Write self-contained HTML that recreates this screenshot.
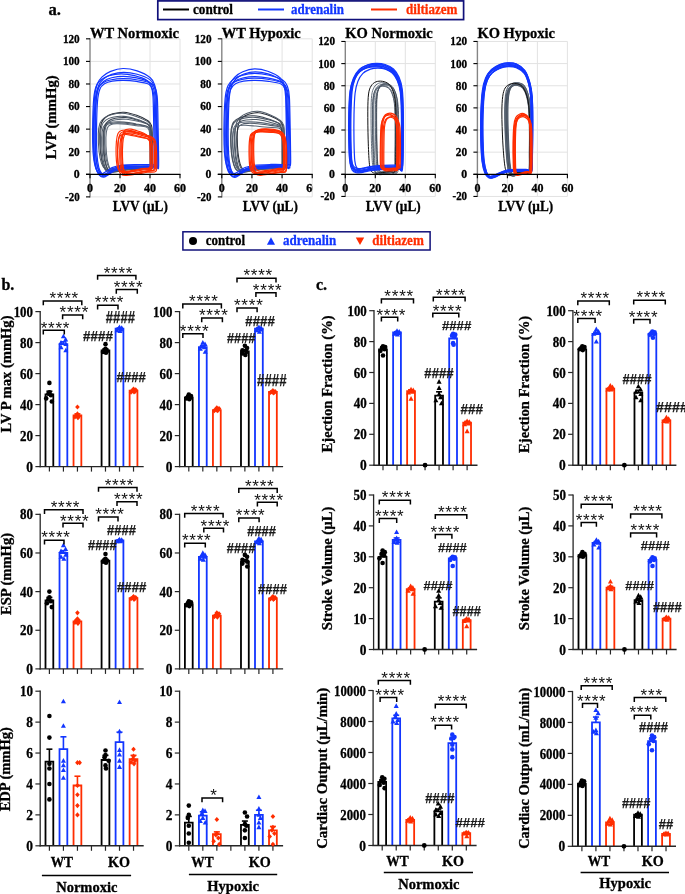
<!DOCTYPE html>
<html><head><meta charset="utf-8"><style>
html,body{margin:0;padding:0;background:#fff;}
svg{display:block;will-change:transform;}
</style></head><body>
<svg width="685" height="894" viewBox="0 0 685 894">
<rect width="685" height="894" fill="#fff"/>
<text x="48.60" y="14.70" font-family="Liberation Serif" font-size="17" font-weight="bold" text-anchor="start" fill="#000" stroke="#000" stroke-width="0.3" textLength="12.4" lengthAdjust="spacingAndGlyphs">a.</text>
<rect x="157.8" y="0.9" width="305.8" height="18.7" fill="#fff" stroke="#10107a" stroke-width="1.7"/>
<line x1="163.00" y1="9.50" x2="189.00" y2="9.50" stroke="#000" stroke-width="2" />
<text x="193.00" y="14.30" font-family="Liberation Serif" font-size="14.5" font-weight="bold" text-anchor="start" fill="#000" stroke="#000" stroke-width="0.3" textLength="40" lengthAdjust="spacingAndGlyphs">control</text>
<line x1="258.00" y1="9.50" x2="284.00" y2="9.50" stroke="#1236ff" stroke-width="2" />
<text x="291.00" y="14.30" font-family="Liberation Serif" font-size="14.5" font-weight="bold" text-anchor="start" fill="#1236ff" stroke="#1236ff" stroke-width="0.3" textLength="53" lengthAdjust="spacingAndGlyphs">adrenalin</text>
<line x1="371.00" y1="9.50" x2="397.00" y2="9.50" stroke="#ff2d00" stroke-width="2" />
<text x="406.00" y="14.30" font-family="Liberation Serif" font-size="14.5" font-weight="bold" text-anchor="start" fill="#ff2d00" stroke="#ff2d00" stroke-width="0.3" textLength="51.5" lengthAdjust="spacingAndGlyphs">diltiazem</text>
<line x1="120.00" y1="38.82" x2="120.00" y2="196.88" stroke="#e2e2e2" stroke-width="1.0" />
<line x1="150.00" y1="38.82" x2="150.00" y2="196.88" stroke="#e2e2e2" stroke-width="1.0" />
<line x1="180.00" y1="38.82" x2="180.00" y2="196.88" stroke="#e2e2e2" stroke-width="1.0" />
<line x1="90.00" y1="196.88" x2="180.00" y2="196.88" stroke="#e2e2e2" stroke-width="1.0" />
<line x1="90.00" y1="151.72" x2="180.00" y2="151.72" stroke="#e2e2e2" stroke-width="1.0" />
<line x1="90.00" y1="129.14" x2="180.00" y2="129.14" stroke="#e2e2e2" stroke-width="1.0" />
<line x1="90.00" y1="106.56" x2="180.00" y2="106.56" stroke="#e2e2e2" stroke-width="1.0" />
<line x1="90.00" y1="83.98" x2="180.00" y2="83.98" stroke="#e2e2e2" stroke-width="1.0" />
<line x1="90.00" y1="61.40" x2="180.00" y2="61.40" stroke="#e2e2e2" stroke-width="1.0" />
<line x1="90.00" y1="38.82" x2="180.00" y2="38.82" stroke="#e2e2e2" stroke-width="1.0" />
<path d="M150.15,168.13 C150.72,165.50 150.43,157.82 150.45,152.67 C150.47,147.51 150.45,141.07 150.30,137.22 C150.15,133.38 150.23,131.43 149.56,129.58 C148.89,127.73 148.57,127.06 146.29,126.11 C144.01,125.16 139.60,124.56 135.88,123.90 C132.16,123.24 127.70,122.44 123.98,122.14 C120.27,121.83 116.43,121.84 113.58,122.06 C110.73,122.29 108.62,122.60 106.89,123.50 C105.15,124.40 104.04,125.16 103.17,127.45 C102.30,129.73 101.81,132.63 101.68,137.21 C101.56,141.79 101.93,150.11 102.43,154.91 C102.92,159.70 103.79,163.31 104.66,165.98 C105.52,168.65 106.39,170.01 107.63,170.94 C108.87,171.86 109.61,171.67 112.09,171.51 C114.57,171.35 118.28,170.40 122.50,169.96 C126.71,169.51 133.28,169.10 137.37,168.84 C141.45,168.58 144.90,168.51 147.03,168.39 C149.16,168.27 149.58,170.75 150.15,168.13Z" fill="none" stroke="#4f5a68" stroke-width="1.05" stroke-linejoin="round"/>
<path d="M152.14,167.17 C152.75,164.38 152.43,156.12 152.46,150.59 C152.49,145.05 152.46,138.15 152.30,133.97 C152.14,129.79 152.22,127.74 151.49,125.53 C150.77,123.33 150.42,122.43 147.96,120.73 C145.50,119.03 140.73,116.76 136.72,115.35 C132.70,113.93 127.88,112.48 123.87,112.23 C119.85,111.99 115.70,112.99 112.62,113.87 C109.55,114.75 107.27,115.99 105.40,117.52 C103.52,119.04 102.32,120.29 101.38,123.04 C100.44,125.79 99.91,129.02 99.77,133.99 C99.64,138.97 100.04,147.78 100.58,152.90 C101.11,158.02 102.05,161.85 102.99,164.71 C103.92,167.57 104.86,169.07 106.20,170.06 C107.54,171.04 108.34,170.84 111.02,170.61 C113.69,170.38 117.71,169.18 122.26,168.66 C126.81,168.14 133.91,167.71 138.32,167.49 C142.74,167.27 146.46,167.38 148.76,167.33 C151.07,167.28 151.52,169.96 152.14,167.17Z" fill="none" stroke="#2a2f38" stroke-width="1.05" stroke-linejoin="round"/>
<path d="M151.03,165.77 C151.65,163.07 151.32,155.11 151.35,149.78 C151.38,144.45 151.35,137.79 151.19,133.77 C151.03,129.75 151.11,127.77 150.38,125.66 C149.65,123.55 149.30,122.71 146.82,121.12 C144.34,119.54 139.55,117.48 135.51,116.17 C131.46,114.87 126.61,113.52 122.57,113.27 C118.53,113.03 114.35,113.91 111.25,114.71 C108.15,115.51 105.86,116.63 103.98,118.06 C102.09,119.49 100.88,120.66 99.93,123.28 C98.99,125.90 98.45,129.00 98.32,133.79 C98.18,138.58 98.59,147.08 99.13,152.02 C99.67,156.95 100.61,160.64 101.55,163.40 C102.49,166.16 103.44,167.60 104.79,168.55 C106.13,169.50 106.94,169.31 109.64,169.09 C112.33,168.87 116.37,167.73 120.95,167.23 C125.54,166.74 132.68,166.33 137.12,166.11 C141.57,165.89 145.31,165.98 147.63,165.93 C149.95,165.87 150.41,168.46 151.03,165.77Z" fill="none" stroke="#4f5a68" stroke-width="1.05" stroke-linejoin="round"/>
<path d="M151.56,166.47 C152.12,163.87 151.83,156.24 151.85,151.12 C151.88,146.01 151.85,139.62 151.71,135.79 C151.56,131.95 151.64,130.03 150.99,128.13 C150.34,126.23 150.03,125.52 147.82,124.39 C145.61,123.26 141.34,122.20 137.74,121.35 C134.14,120.50 129.82,119.54 126.22,119.26 C122.62,118.98 118.90,119.26 116.14,119.67 C113.38,120.07 111.33,120.63 109.65,121.68 C107.97,122.73 106.89,123.61 106.05,125.96 C105.21,128.31 104.73,131.22 104.61,135.78 C104.49,140.34 104.85,148.57 105.33,153.32 C105.81,158.08 106.65,161.64 107.49,164.29 C108.33,166.94 109.17,168.31 110.37,169.22 C111.57,170.13 112.30,169.95 114.70,169.77 C117.10,169.59 120.70,168.61 124.78,168.15 C128.86,167.70 135.22,167.30 139.18,167.05 C143.14,166.81 146.48,166.80 148.54,166.70 C150.60,166.60 151.01,169.06 151.56,166.47Z" fill="none" stroke="#5a6675" stroke-width="1.05" stroke-linejoin="round"/>
<path d="M151.78,167.77 C152.35,165.19 152.05,157.64 152.08,152.58 C152.10,147.52 152.08,141.19 151.93,137.41 C151.78,133.64 151.85,131.73 151.18,129.93 C150.50,128.14 150.18,127.49 147.88,126.64 C145.58,125.79 141.14,125.38 137.39,124.81 C133.65,124.24 129.15,123.52 125.41,123.21 C121.66,122.90 117.79,122.80 114.92,122.95 C112.05,123.10 109.92,123.31 108.17,124.13 C106.43,124.94 105.30,125.64 104.43,127.86 C103.56,130.07 103.06,132.91 102.93,137.40 C102.81,141.89 103.18,150.08 103.68,154.80 C104.18,159.51 105.05,163.05 105.93,165.68 C106.80,168.30 107.68,169.64 108.92,170.55 C110.17,171.45 110.92,171.27 113.42,171.12 C115.92,170.97 119.66,170.06 123.91,169.63 C128.15,169.20 134.77,168.79 138.89,168.53 C143.01,168.27 146.48,168.18 148.63,168.05 C150.78,167.92 151.20,170.35 151.78,167.77Z" fill="none" stroke="#4f5a68" stroke-width="1.05" stroke-linejoin="round"/>
<path d="M150.80,168.72 C151.35,165.97 151.07,157.84 151.09,152.40 C151.11,146.96 151.09,140.16 150.94,136.08 C150.80,131.99 150.87,129.95 150.22,127.89 C149.57,125.83 149.26,125.04 147.04,123.72 C144.82,122.39 140.53,120.99 136.92,119.95 C133.30,118.92 128.96,117.80 125.35,117.51 C121.73,117.23 118.00,117.71 115.23,118.25 C112.46,118.79 110.41,119.55 108.72,120.77 C107.03,121.98 105.95,122.99 105.10,125.54 C104.26,128.10 103.78,131.22 103.66,136.08 C103.54,140.94 103.90,149.67 104.38,154.72 C104.86,159.77 105.71,163.56 106.55,166.38 C107.39,169.19 108.24,170.65 109.44,171.63 C110.65,172.60 111.37,172.40 113.78,172.20 C116.19,172.00 119.81,170.92 123.90,170.43 C128.00,169.94 134.39,169.51 138.36,169.27 C142.34,169.02 145.69,169.03 147.76,168.94 C149.84,168.85 150.25,171.48 150.80,168.72Z" fill="none" stroke="#3a4350" stroke-width="1.05" stroke-linejoin="round"/>
<path d="M150.43,168.45 C151.02,165.68 150.71,157.52 150.74,152.05 C150.76,146.58 150.74,139.75 150.58,135.64 C150.43,131.53 150.51,129.49 149.82,127.39 C149.13,125.30 148.80,124.48 146.45,123.08 C144.10,121.67 139.56,120.08 135.73,118.96 C131.90,117.84 127.30,116.65 123.47,116.37 C119.65,116.09 115.69,116.68 112.75,117.30 C109.82,117.92 107.65,118.78 105.86,120.07 C104.08,121.35 102.93,122.41 102.03,125.01 C101.14,127.61 100.63,130.76 100.50,135.65 C100.37,140.54 100.76,149.30 101.27,154.38 C101.78,159.45 102.67,163.25 103.56,166.08 C104.46,168.91 105.35,170.38 106.63,171.35 C107.90,172.33 108.67,172.13 111.22,171.93 C113.78,171.72 117.60,170.61 121.94,170.11 C126.28,169.62 133.05,169.19 137.26,168.95 C141.47,168.70 145.02,168.74 147.21,168.66 C149.41,168.58 149.84,171.22 150.43,168.45Z" fill="none" stroke="#4f5a68" stroke-width="1.05" stroke-linejoin="round"/>
<path d="M149.65,167.16 C150.16,164.64 149.89,157.26 149.91,152.32 C149.94,147.38 149.91,141.19 149.78,137.50 C149.65,133.82 149.71,131.95 149.11,130.22 C148.51,128.49 148.21,127.88 146.16,127.13 C144.10,126.37 140.12,126.16 136.77,125.68 C133.41,125.20 129.39,124.58 126.03,124.26 C122.68,123.95 119.21,123.73 116.64,123.81 C114.07,123.88 112.17,123.98 110.61,124.72 C109.04,125.45 108.03,126.09 107.25,128.22 C106.47,130.34 106.02,133.10 105.91,137.48 C105.80,141.86 106.13,149.89 106.58,154.49 C107.03,159.10 107.81,162.57 108.59,165.13 C109.38,167.70 110.16,169.00 111.28,169.89 C112.39,170.77 113.07,170.60 115.30,170.45 C117.54,170.31 120.89,169.44 124.69,169.03 C128.49,168.61 134.42,168.21 138.11,167.95 C141.80,167.69 144.91,167.58 146.83,167.45 C148.75,167.32 149.13,169.68 149.65,167.16Z" fill="none" stroke="#5a6675" stroke-width="1.05" stroke-linejoin="round"/>
<path d="M156.93,165.25 C157.11,163.94 157.13,163.56 157.08,157.36 C157.03,151.17 156.83,138.21 156.63,128.06 C156.43,117.91 156.31,103.44 155.88,96.46 C155.46,89.47 155.08,88.97 154.08,86.17 C153.08,83.36 152.71,81.61 149.89,79.62 C147.06,77.63 141.52,75.47 137.15,74.25 C132.77,73.02 127.90,72.25 123.66,72.28 C119.41,72.31 115.04,73.30 111.67,74.42 C108.29,75.53 105.60,77.11 103.42,78.96 C101.25,80.82 99.85,82.26 98.63,85.56 C97.40,88.85 96.68,91.63 96.08,98.72 C95.48,105.81 95.13,119.06 95.03,128.08 C94.93,137.10 95.08,146.47 95.48,152.85 C95.88,159.23 96.60,163.08 97.43,166.36 C98.25,169.65 99.30,171.25 100.42,172.57 C101.55,173.89 102.80,174.36 104.17,174.26 C105.55,174.17 106.92,173.04 108.67,172.00 C110.42,170.95 112.17,169.04 114.66,167.99 C117.16,166.94 119.66,166.20 123.66,165.68 C127.65,165.17 134.15,165.03 138.64,164.91 C143.14,164.79 147.74,164.92 150.64,164.98 C153.53,165.03 154.98,165.20 156.03,165.24 C157.08,165.29 156.76,166.56 156.93,165.25Z" fill="none" stroke="#1236ff" stroke-width="1.2" stroke-linejoin="round"/>
<path d="M154.05,164.84 C154.23,163.54 154.25,163.17 154.20,157.04 C154.15,150.91 153.95,138.09 153.75,128.06 C153.56,118.03 153.43,103.72 153.01,96.84 C152.59,89.95 152.22,89.47 151.23,86.75 C150.23,84.02 149.86,82.33 147.06,80.48 C144.26,78.64 138.76,76.78 134.42,75.69 C130.08,74.59 125.25,73.90 121.03,73.91 C116.82,73.92 112.48,74.76 109.14,75.75 C105.79,76.75 103.11,78.15 100.96,79.89 C98.80,81.63 97.41,82.98 96.20,86.17 C94.98,89.37 94.26,92.09 93.67,99.07 C93.07,106.05 92.73,119.15 92.63,128.07 C92.53,136.99 92.68,146.27 93.07,152.58 C93.47,158.89 94.19,162.70 95.01,165.95 C95.82,169.20 96.87,170.78 97.98,172.08 C99.10,173.38 100.34,173.86 101.70,173.77 C103.06,173.67 104.43,172.55 106.16,171.52 C107.90,170.49 109.63,168.62 112.11,167.60 C114.59,166.57 117.07,165.85 121.03,165.35 C125.00,164.84 131.45,164.70 135.91,164.57 C140.37,164.45 144.93,164.55 147.81,164.60 C150.68,164.64 152.12,164.80 153.16,164.84 C154.20,164.88 153.88,166.14 154.05,164.84Z" fill="none" stroke="#1236ff" stroke-width="1.2" stroke-linejoin="round"/>
<path d="M156.12,166.87 C156.29,165.55 156.32,165.18 156.27,158.97 C156.22,152.76 156.02,139.78 155.83,129.63 C155.63,119.47 155.51,104.99 155.09,98.05 C154.67,91.11 154.30,90.65 153.32,87.96 C152.34,85.28 151.97,83.62 149.20,81.94 C146.43,80.25 140.98,78.80 136.68,77.86 C132.39,76.93 127.60,76.33 123.43,76.31 C119.26,76.30 114.97,76.93 111.65,77.78 C108.34,78.63 105.69,79.81 103.55,81.42 C101.42,83.03 100.05,84.28 98.84,87.42 C97.64,90.57 96.93,93.27 96.34,100.30 C95.75,107.33 95.41,120.59 95.31,129.62 C95.21,138.64 95.36,148.06 95.75,154.46 C96.14,160.86 96.86,164.72 97.66,168.01 C98.47,171.30 99.51,172.89 100.61,174.21 C101.71,175.53 102.94,176.00 104.29,175.90 C105.64,175.81 106.99,174.68 108.71,173.65 C110.43,172.62 112.14,170.76 114.60,169.73 C117.05,168.71 119.51,168.01 123.43,167.50 C127.36,167.00 133.74,166.84 138.16,166.70 C142.57,166.57 147.09,166.64 149.94,166.67 C152.78,166.70 154.21,166.84 155.24,166.88 C156.27,166.91 155.95,168.19 156.12,166.87Z" fill="none" stroke="#1236ff" stroke-width="1.2" stroke-linejoin="round"/>
<path d="M157.59,167.07 C157.77,165.71 157.79,165.33 157.74,158.92 C157.69,152.50 157.48,139.10 157.28,128.58 C157.07,118.06 156.94,103.07 156.50,95.80 C156.06,88.52 155.67,87.97 154.63,84.95 C153.60,81.93 153.21,80.03 150.28,77.69 C147.36,75.36 141.61,72.47 137.08,70.94 C132.54,69.41 127.49,68.45 123.09,68.52 C118.69,68.59 114.16,69.96 110.66,71.35 C107.16,72.75 104.37,74.73 102.11,76.88 C99.86,79.03 98.41,80.71 97.14,84.25 C95.87,87.80 95.12,90.76 94.50,98.16 C93.88,105.55 93.52,119.27 93.41,128.62 C93.31,137.97 93.46,147.64 93.88,154.24 C94.29,160.83 95.04,164.80 95.90,168.20 C96.75,171.60 97.84,173.28 99.01,174.64 C100.17,176.00 101.47,176.46 102.89,176.36 C104.32,176.26 105.74,175.13 107.55,174.03 C109.37,172.94 111.18,170.92 113.77,169.81 C116.36,168.69 118.95,167.89 123.09,167.35 C127.23,166.81 133.97,166.67 138.63,166.56 C143.29,166.46 148.06,166.65 151.06,166.73 C154.06,166.81 155.57,167.00 156.65,167.05 C157.74,167.11 157.40,168.43 157.59,167.07Z" fill="none" stroke="#1236ff" stroke-width="1.2" stroke-linejoin="round"/>
<path d="M155.14,166.31 C155.30,165.02 155.32,164.64 155.28,158.57 C155.23,152.50 155.04,139.80 154.85,129.89 C154.66,119.98 154.54,105.83 154.14,99.09 C153.74,92.35 153.39,91.95 152.44,89.45 C151.49,86.94 151.14,85.42 148.47,84.08 C145.79,82.73 140.54,82.03 136.40,81.40 C132.26,80.77 127.65,80.36 123.63,80.30 C119.61,80.25 115.47,80.49 112.28,81.05 C109.09,81.62 106.53,82.39 104.47,83.72 C102.42,85.04 101.09,86.06 99.93,88.99 C98.77,91.91 98.09,94.46 97.52,101.27 C96.95,108.08 96.62,121.04 96.53,129.85 C96.43,138.67 96.57,147.91 96.95,154.17 C97.33,160.44 98.02,164.22 98.80,167.44 C99.58,170.66 100.57,172.20 101.64,173.49 C102.70,174.78 103.88,175.26 105.18,175.17 C106.48,175.08 107.79,173.95 109.44,172.96 C111.10,171.97 112.75,170.19 115.12,169.22 C117.48,168.24 119.85,167.60 123.63,167.12 C127.42,166.63 133.57,166.47 137.82,166.32 C142.08,166.16 146.43,166.18 149.18,166.18 C151.92,166.18 153.29,166.30 154.28,166.32 C155.28,166.34 154.97,167.60 155.14,166.31Z" fill="none" stroke="#1236ff" stroke-width="1.2" stroke-linejoin="round"/>
<path d="M158.48,168.09 C158.66,166.76 158.69,166.38 158.63,160.15 C158.58,153.92 158.37,140.89 158.17,130.71 C157.96,120.52 157.83,106.00 157.39,99.06 C156.94,92.12 156.55,91.69 155.51,89.07 C154.47,86.45 154.08,84.84 151.14,83.33 C148.20,81.82 142.43,80.79 137.88,80.02 C133.32,79.25 128.25,78.76 123.83,78.72 C119.41,78.68 114.85,79.08 111.34,79.78 C107.83,80.48 105.02,81.43 102.76,82.90 C100.49,84.36 99.04,85.50 97.76,88.57 C96.49,91.64 95.73,94.29 95.11,101.31 C94.48,108.33 94.12,121.63 94.02,130.68 C93.91,139.73 94.07,149.20 94.48,155.63 C94.90,162.06 95.65,165.93 96.51,169.24 C97.37,172.54 98.46,174.14 99.63,175.46 C100.81,176.78 102.11,177.24 103.54,177.15 C104.97,177.06 106.40,175.92 108.22,174.90 C110.04,173.88 111.86,172.04 114.46,171.02 C117.06,170.01 119.67,169.33 123.83,168.83 C127.99,168.33 134.75,168.17 139.44,168.02 C144.12,167.87 148.91,167.91 151.92,167.92 C154.94,167.94 156.45,168.07 157.54,168.10 C158.63,168.12 158.30,169.41 158.48,168.09Z" fill="none" stroke="#1236ff" stroke-width="1.2" stroke-linejoin="round"/>
<path d="M154.00,169.58 C155.23,167.80 154.52,163.71 154.56,160.08 C154.61,156.45 154.52,151.05 154.28,147.81 C154.04,144.56 153.97,142.33 153.14,140.60 C152.32,138.86 151.25,138.28 149.31,137.41 C147.38,136.55 144.23,136.12 141.51,135.42 C138.79,134.71 135.36,133.57 133.00,133.16 C130.63,132.75 128.79,132.55 127.32,132.95 C125.86,133.36 124.96,133.86 124.20,135.59 C123.45,137.32 123.07,139.82 122.78,143.34 C122.50,146.86 122.40,152.64 122.50,156.73 C122.59,160.83 122.90,165.26 123.35,167.90 C123.80,170.55 124.30,171.63 125.19,172.59 C126.09,173.56 126.73,173.71 128.74,173.71 C130.75,173.71 134.18,173.11 137.25,172.61 C140.33,172.11 144.40,171.23 147.19,170.72 C149.98,170.22 152.77,171.35 154.00,169.58Z" fill="none" stroke="#ff2d00" stroke-width="1.15" stroke-linejoin="round"/>
<path d="M156.01,171.08 C157.50,169.19 156.64,164.80 156.69,160.91 C156.75,157.03 156.64,151.24 156.35,147.75 C156.06,144.25 155.98,141.86 154.97,139.95 C153.97,138.04 152.68,137.31 150.33,136.28 C147.98,135.25 144.16,134.59 140.86,133.77 C137.56,132.96 133.41,131.77 130.54,131.39 C127.67,131.01 125.43,130.96 123.66,131.49 C121.88,132.02 120.79,132.64 119.87,134.55 C118.95,136.46 118.49,139.17 118.15,142.96 C117.80,146.76 117.69,152.94 117.80,157.32 C117.92,161.71 118.29,166.46 118.84,169.29 C119.38,172.12 119.98,173.28 121.07,174.31 C122.16,175.35 122.94,175.51 125.38,175.51 C127.81,175.51 131.97,174.85 135.70,174.30 C139.43,173.76 144.36,172.80 147.75,172.27 C151.13,171.73 154.51,172.98 156.01,171.08Z" fill="none" stroke="#ff2d00" stroke-width="1.15" stroke-linejoin="round"/>
<path d="M150.43,170.33 C151.63,168.54 150.94,164.41 150.98,160.76 C151.03,157.10 150.94,151.66 150.71,148.39 C150.48,145.12 150.41,142.88 149.60,141.15 C148.80,139.43 147.76,138.87 145.87,138.04 C143.98,137.21 140.92,136.86 138.28,136.17 C135.63,135.47 132.29,134.31 129.99,133.87 C127.69,133.44 125.89,133.17 124.46,133.55 C123.04,133.92 122.16,134.40 121.42,136.12 C120.69,137.84 120.32,140.35 120.04,143.89 C119.77,147.43 119.67,153.25 119.77,157.38 C119.86,161.51 120.16,165.98 120.60,168.65 C121.03,171.31 121.52,172.40 122.39,173.37 C123.27,174.35 123.89,174.49 125.84,174.50 C127.80,174.50 131.14,173.90 134.13,173.40 C137.12,172.90 141.08,172.01 143.80,171.50 C146.52,170.99 149.23,172.12 150.43,170.33Z" fill="none" stroke="#ff2d00" stroke-width="1.15" stroke-linejoin="round"/>
<path d="M152.27,168.64 C153.63,166.96 152.85,163.09 152.90,159.66 C152.95,156.23 152.85,151.12 152.59,148.06 C152.32,145.00 152.25,142.90 151.33,141.31 C150.42,139.72 149.24,139.26 147.10,138.54 C144.96,137.82 141.49,137.61 138.49,136.99 C135.49,136.37 131.71,135.26 129.10,134.82 C126.49,134.37 124.45,134.03 122.83,134.33 C121.22,134.63 120.22,135.02 119.39,136.61 C118.55,138.19 118.14,140.52 117.82,143.84 C117.51,147.15 117.41,152.62 117.51,156.49 C117.61,160.36 117.95,164.56 118.45,167.07 C118.95,169.57 119.49,170.59 120.49,171.50 C121.48,172.42 122.18,172.55 124.40,172.56 C126.62,172.56 130.40,172.01 133.80,171.54 C137.19,171.08 141.68,170.25 144.76,169.77 C147.84,169.28 150.92,170.33 152.27,168.64Z" fill="none" stroke="#ff2d00" stroke-width="1.15" stroke-linejoin="round"/>
<path d="M149.63,167.61 C150.72,165.82 150.09,161.65 150.14,157.96 C150.18,154.27 150.09,148.78 149.89,145.45 C149.68,142.12 149.61,139.84 148.88,137.95 C148.15,136.07 147.21,135.26 145.49,134.15 C143.78,133.05 141.00,132.16 138.59,131.31 C136.19,130.47 133.16,129.39 131.07,129.10 C128.97,128.82 127.34,128.98 126.05,129.59 C124.75,130.21 123.96,130.91 123.29,132.79 C122.62,134.68 122.28,137.28 122.03,140.90 C121.78,144.53 121.70,150.39 121.78,154.56 C121.87,158.72 122.14,163.21 122.53,165.89 C122.93,168.58 123.37,169.68 124.17,170.66 C124.96,171.65 125.52,171.81 127.30,171.80 C129.08,171.79 132.11,171.14 134.83,170.62 C137.55,170.10 141.14,169.18 143.61,168.67 C146.08,168.17 148.55,169.39 149.63,167.61Z" fill="none" stroke="#ff2d00" stroke-width="1.15" stroke-linejoin="round"/>
<path d="M154.87,169.93 C156.20,168.10 155.44,163.87 155.49,160.12 C155.54,156.37 155.44,150.80 155.18,147.43 C154.92,144.07 154.85,141.76 153.95,139.93 C153.06,138.10 151.91,137.42 149.81,136.45 C147.71,135.48 144.31,134.89 141.37,134.11 C138.43,133.34 134.72,132.19 132.16,131.81 C129.60,131.43 127.61,131.35 126.02,131.83 C124.44,132.32 123.47,132.91 122.65,134.74 C121.83,136.57 121.42,139.17 121.11,142.82 C120.81,146.47 120.70,152.43 120.81,156.66 C120.91,160.89 121.24,165.47 121.73,168.20 C122.21,170.93 122.75,172.04 123.72,173.04 C124.69,174.04 125.38,174.19 127.56,174.19 C129.73,174.19 133.44,173.56 136.77,173.04 C140.09,172.52 144.49,171.59 147.51,171.08 C150.53,170.56 153.54,171.75 154.87,169.93Z" fill="none" stroke="#ff2d00" stroke-width="1.15" stroke-linejoin="round"/>
<path d="M151.55,167.42 C152.93,165.67 152.13,161.60 152.18,158.00 C152.24,154.39 152.13,149.03 151.87,145.78 C151.60,142.53 151.52,140.31 150.59,138.50 C149.66,136.69 148.46,135.95 146.27,134.93 C144.09,133.90 140.55,133.14 137.49,132.35 C134.42,131.56 130.56,130.48 127.90,130.17 C125.24,129.86 123.16,129.93 121.51,130.48 C119.86,131.03 118.85,131.67 118.00,133.48 C117.14,135.29 116.72,137.81 116.40,141.34 C116.08,144.88 115.97,150.60 116.08,154.67 C116.18,158.74 116.53,163.13 117.04,165.75 C117.54,168.38 118.10,169.45 119.11,170.41 C120.13,171.37 120.84,171.53 123.11,171.52 C125.37,171.52 129.23,170.89 132.69,170.38 C136.16,169.88 140.74,168.98 143.88,168.49 C147.02,167.99 150.16,169.17 151.55,167.42Z" fill="none" stroke="#ff2d00" stroke-width="1.15" stroke-linejoin="round"/>
<line x1="90.00" y1="38.32" x2="90.00" y2="197.38" stroke="#858585" stroke-width="1.4" />
<line x1="86.00" y1="196.88" x2="90.00" y2="196.88" stroke="#000" stroke-width="1.1" />
<text x="79.70" y="200.78" font-family="Liberation Serif" font-size="12" font-weight="bold" text-anchor="end" fill="#000" stroke="#000" stroke-width="0.3" textLength="14.6" lengthAdjust="spacingAndGlyphs">-20</text>
<line x1="86.00" y1="174.30" x2="90.00" y2="174.30" stroke="#000" stroke-width="1.1" />
<text x="79.70" y="178.20" font-family="Liberation Serif" font-size="12" font-weight="bold" text-anchor="end" fill="#000" stroke="#000" stroke-width="0.3" textLength="5.9" lengthAdjust="spacingAndGlyphs">0</text>
<line x1="86.00" y1="151.72" x2="90.00" y2="151.72" stroke="#000" stroke-width="1.1" />
<text x="79.70" y="155.62" font-family="Liberation Serif" font-size="12" font-weight="bold" text-anchor="end" fill="#000" stroke="#000" stroke-width="0.3" textLength="11.3" lengthAdjust="spacingAndGlyphs">20</text>
<line x1="86.00" y1="129.14" x2="90.00" y2="129.14" stroke="#000" stroke-width="1.1" />
<text x="79.70" y="133.04" font-family="Liberation Serif" font-size="12" font-weight="bold" text-anchor="end" fill="#000" stroke="#000" stroke-width="0.3" textLength="11.3" lengthAdjust="spacingAndGlyphs">40</text>
<line x1="86.00" y1="106.56" x2="90.00" y2="106.56" stroke="#000" stroke-width="1.1" />
<text x="79.70" y="110.46" font-family="Liberation Serif" font-size="12" font-weight="bold" text-anchor="end" fill="#000" stroke="#000" stroke-width="0.3" textLength="11.3" lengthAdjust="spacingAndGlyphs">60</text>
<line x1="86.00" y1="83.98" x2="90.00" y2="83.98" stroke="#000" stroke-width="1.1" />
<text x="79.70" y="87.88" font-family="Liberation Serif" font-size="12" font-weight="bold" text-anchor="end" fill="#000" stroke="#000" stroke-width="0.3" textLength="11.3" lengthAdjust="spacingAndGlyphs">80</text>
<line x1="86.00" y1="61.40" x2="90.00" y2="61.40" stroke="#000" stroke-width="1.1" />
<text x="79.70" y="65.30" font-family="Liberation Serif" font-size="12" font-weight="bold" text-anchor="end" fill="#000" stroke="#000" stroke-width="0.3" textLength="16.8" lengthAdjust="spacingAndGlyphs">100</text>
<line x1="86.00" y1="38.82" x2="90.00" y2="38.82" stroke="#000" stroke-width="1.1" />
<text x="79.70" y="42.72" font-family="Liberation Serif" font-size="12" font-weight="bold" text-anchor="end" fill="#000" stroke="#000" stroke-width="0.3" textLength="16.8" lengthAdjust="spacingAndGlyphs">120</text>
<line x1="86.00" y1="174.30" x2="180.50" y2="174.30" stroke="#000" stroke-width="1.3" />
<line x1="90.00" y1="174.30" x2="90.00" y2="178.30" stroke="#000" stroke-width="1.1" />
<text x="90.00" y="192.00" font-family="Liberation Serif" font-size="12" font-weight="bold" text-anchor="middle" fill="#000" stroke="#000" stroke-width="0.3" >0</text>
<line x1="120.00" y1="174.30" x2="120.00" y2="178.30" stroke="#000" stroke-width="1.1" />
<text x="120.00" y="192.00" font-family="Liberation Serif" font-size="12" font-weight="bold" text-anchor="middle" fill="#000" stroke="#000" stroke-width="0.3" >20</text>
<line x1="150.00" y1="174.30" x2="150.00" y2="178.30" stroke="#000" stroke-width="1.1" />
<text x="150.00" y="192.00" font-family="Liberation Serif" font-size="12" font-weight="bold" text-anchor="middle" fill="#000" stroke="#000" stroke-width="0.3" >40</text>
<line x1="180.00" y1="174.30" x2="180.00" y2="178.30" stroke="#000" stroke-width="1.1" />
<text x="180.00" y="192.00" font-family="Liberation Serif" font-size="12" font-weight="bold" text-anchor="middle" fill="#000" stroke="#000" stroke-width="0.3" >60</text>
<text x="90.00" y="37.70" font-family="Liberation Serif" font-size="14.5" font-weight="bold" text-anchor="start" fill="#000" stroke="#000" stroke-width="0.3" textLength="89" lengthAdjust="spacingAndGlyphs">WT Normoxic</text>
<text x="140.30" y="210.90" font-family="Liberation Serif" font-size="14.2" font-weight="bold" text-anchor="middle" fill="#000" stroke="#000" stroke-width="0.3" textLength="55" lengthAdjust="spacingAndGlyphs">LVV (µL)</text>
<line x1="251.94" y1="38.82" x2="251.94" y2="196.88" stroke="#e2e2e2" stroke-width="1.0" />
<line x1="282.08" y1="38.82" x2="282.08" y2="196.88" stroke="#e2e2e2" stroke-width="1.0" />
<line x1="312.22" y1="38.82" x2="312.22" y2="196.88" stroke="#e2e2e2" stroke-width="1.0" />
<line x1="221.80" y1="196.88" x2="312.22" y2="196.88" stroke="#e2e2e2" stroke-width="1.0" />
<line x1="221.80" y1="151.72" x2="312.22" y2="151.72" stroke="#e2e2e2" stroke-width="1.0" />
<line x1="221.80" y1="129.14" x2="312.22" y2="129.14" stroke="#e2e2e2" stroke-width="1.0" />
<line x1="221.80" y1="106.56" x2="312.22" y2="106.56" stroke="#e2e2e2" stroke-width="1.0" />
<line x1="221.80" y1="83.98" x2="312.22" y2="83.98" stroke="#e2e2e2" stroke-width="1.0" />
<line x1="221.80" y1="61.40" x2="312.22" y2="61.40" stroke="#e2e2e2" stroke-width="1.0" />
<line x1="221.80" y1="38.82" x2="312.22" y2="38.82" stroke="#e2e2e2" stroke-width="1.0" />
<path d="M282.87,167.09 C283.41,164.56 283.13,157.16 283.15,152.19 C283.18,147.23 283.15,141.02 283.01,137.32 C282.87,133.62 282.94,131.74 282.30,129.99 C281.67,128.25 281.36,127.63 279.18,126.83 C277.01,126.03 272.81,125.73 269.26,125.21 C265.72,124.69 261.46,124.03 257.92,123.72 C254.38,123.41 250.71,123.25 248.00,123.36 C245.28,123.47 243.27,123.62 241.62,124.39 C239.96,125.16 238.90,125.82 238.07,127.97 C237.25,130.12 236.77,132.90 236.65,137.30 C236.54,141.70 236.89,149.75 237.36,154.37 C237.84,159.00 238.66,162.47 239.49,165.05 C240.32,167.63 241.14,168.93 242.33,169.82 C243.51,170.71 244.22,170.54 246.58,170.39 C248.94,170.24 252.49,169.36 256.50,168.94 C260.52,168.52 266.78,168.12 270.68,167.86 C274.58,167.60 277.86,167.50 279.89,167.38 C281.93,167.25 282.33,169.62 282.87,167.09Z" fill="none" stroke="#4f5a68" stroke-width="1.05" stroke-linejoin="round"/>
<path d="M283.28,166.22 C283.82,163.50 283.54,155.42 283.56,150.01 C283.58,144.60 283.56,137.84 283.42,133.76 C283.28,129.68 283.35,127.67 282.71,125.52 C282.08,123.37 281.77,122.50 279.61,120.86 C277.44,119.22 273.26,117.05 269.73,115.69 C266.20,114.32 261.97,112.92 258.44,112.68 C254.91,112.44 251.26,113.38 248.56,114.23 C245.85,115.07 243.86,116.25 242.21,117.73 C240.56,119.21 239.50,120.41 238.68,123.09 C237.86,125.77 237.39,128.92 237.27,133.78 C237.15,138.65 237.50,147.26 237.97,152.27 C238.45,157.28 239.27,161.02 240.09,163.82 C240.92,166.61 241.74,168.08 242.91,169.05 C244.09,170.01 244.80,169.82 247.15,169.59 C249.50,169.36 253.03,168.20 257.03,167.69 C261.03,167.18 267.26,166.77 271.14,166.55 C275.02,166.33 278.29,166.44 280.31,166.38 C282.34,166.33 282.74,168.95 283.28,166.22Z" fill="none" stroke="#2a2f38" stroke-width="1.05" stroke-linejoin="round"/>
<path d="M284.31,168.54 C284.89,165.66 284.58,157.11 284.61,151.38 C284.63,145.66 284.61,138.51 284.46,134.19 C284.31,129.87 284.38,127.75 283.70,125.45 C283.02,123.15 282.69,122.21 280.38,120.41 C278.06,118.61 273.57,116.15 269.79,114.64 C266.01,113.12 261.48,111.58 257.70,111.34 C253.92,111.09 250.01,112.19 247.11,113.14 C244.22,114.09 242.07,115.44 240.31,117.06 C238.55,118.68 237.41,120.00 236.53,122.86 C235.65,125.72 235.14,129.07 235.02,134.22 C234.89,139.37 235.27,148.47 235.77,153.77 C236.28,159.06 237.16,163.02 238.04,165.98 C238.92,168.93 239.81,170.49 241.07,171.51 C242.33,172.53 243.08,172.33 245.60,172.08 C248.12,171.84 251.90,170.58 256.18,170.04 C260.47,169.50 267.15,169.06 271.30,168.84 C275.46,168.61 278.96,168.74 281.13,168.69 C283.30,168.65 283.73,171.43 284.31,168.54Z" fill="none" stroke="#4f5a68" stroke-width="1.05" stroke-linejoin="round"/>
<path d="M282.48,166.50 C283.06,164.06 282.76,156.92 282.78,152.14 C282.81,147.36 282.78,141.37 282.63,137.81 C282.48,134.26 282.55,132.44 281.87,130.81 C281.18,129.18 280.85,128.63 278.52,128.03 C276.18,127.43 271.67,127.55 267.86,127.23 C264.06,126.91 259.49,126.42 255.68,126.10 C251.88,125.78 247.95,125.37 245.03,125.32 C242.11,125.27 239.95,125.18 238.18,125.78 C236.40,126.38 235.26,126.91 234.37,128.91 C233.48,130.91 232.98,133.56 232.85,137.78 C232.72,142.01 233.10,149.80 233.61,154.26 C234.12,158.73 235.01,162.09 235.89,164.57 C236.78,167.06 237.67,168.31 238.94,169.17 C240.21,170.03 240.97,169.86 243.51,169.73 C246.04,169.60 249.85,168.80 254.16,168.41 C258.47,168.01 265.20,167.62 269.38,167.36 C273.57,167.09 277.10,166.95 279.28,166.81 C281.46,166.66 281.89,168.95 282.48,166.50Z" fill="none" stroke="#5a6675" stroke-width="1.05" stroke-linejoin="round"/>
<path d="M282.14,168.45 C282.70,165.75 282.41,157.82 282.43,152.51 C282.46,147.20 282.43,140.56 282.28,136.58 C282.14,132.60 282.21,130.61 281.55,128.64 C280.89,126.67 280.58,125.93 278.33,124.78 C276.08,123.62 271.74,122.57 268.07,121.70 C264.41,120.83 260.02,119.85 256.35,119.56 C252.69,119.27 248.91,119.53 246.10,119.94 C243.29,120.34 241.22,120.90 239.51,121.98 C237.80,123.05 236.70,123.95 235.84,126.38 C234.99,128.82 234.50,131.84 234.38,136.58 C234.26,141.31 234.62,149.86 235.11,154.80 C235.60,159.74 236.45,163.44 237.31,166.19 C238.16,168.94 239.02,170.36 240.24,171.31 C241.46,172.26 242.19,172.07 244.63,171.89 C247.08,171.70 250.74,170.68 254.89,170.21 C259.04,169.74 265.51,169.32 269.54,169.07 C273.57,168.82 276.96,168.80 279.06,168.69 C281.16,168.59 281.58,171.15 282.14,168.45Z" fill="none" stroke="#4f5a68" stroke-width="1.05" stroke-linejoin="round"/>
<path d="M281.70,167.53 C282.30,164.80 281.98,156.74 282.01,151.34 C282.04,145.94 282.01,139.20 281.85,135.14 C281.70,131.08 281.78,129.07 281.07,126.99 C280.37,124.90 280.03,124.09 277.63,122.66 C275.23,121.23 270.59,119.56 266.68,118.41 C262.77,117.26 258.07,116.05 254.16,115.78 C250.25,115.51 246.21,116.16 243.21,116.80 C240.21,117.45 237.99,118.36 236.17,119.66 C234.34,120.96 233.17,122.04 232.26,124.62 C231.34,127.20 230.82,130.32 230.69,135.15 C230.56,139.99 230.95,148.63 231.47,153.63 C231.99,158.63 232.91,162.38 233.82,165.18 C234.73,167.97 235.65,169.42 236.95,170.39 C238.25,171.35 239.04,171.16 241.64,170.95 C244.25,170.74 248.16,169.63 252.60,169.14 C257.03,168.65 263.94,168.23 268.24,167.99 C272.54,167.76 276.17,167.80 278.41,167.73 C280.65,167.65 281.10,170.26 281.70,167.53Z" fill="none" stroke="#3a4350" stroke-width="1.05" stroke-linejoin="round"/>
<path d="M283.86,168.05 C284.48,165.32 284.15,157.30 284.18,151.92 C284.21,146.54 284.18,139.83 284.02,135.79 C283.86,131.75 283.94,129.74 283.21,127.70 C282.48,125.66 282.13,124.88 279.65,123.56 C277.16,122.24 272.36,120.83 268.31,119.79 C264.26,118.76 259.40,117.64 255.35,117.36 C251.30,117.08 247.12,117.57 244.01,118.12 C240.91,118.66 238.61,119.43 236.72,120.64 C234.83,121.85 233.62,122.85 232.67,125.38 C231.73,127.90 231.19,130.99 231.05,135.79 C230.92,140.60 231.32,149.23 231.86,154.21 C232.40,159.20 233.35,162.94 234.29,165.73 C235.24,168.51 236.18,169.95 237.53,170.91 C238.88,171.87 239.69,171.68 242.39,171.48 C245.09,171.28 249.14,170.21 253.73,169.72 C258.32,169.24 265.47,168.82 269.93,168.57 C274.38,168.33 278.13,168.35 280.46,168.26 C282.78,168.17 283.24,170.77 283.86,168.05Z" fill="none" stroke="#4f5a68" stroke-width="1.05" stroke-linejoin="round"/>
<path d="M283.50,167.36 C284.10,164.78 283.79,157.21 283.81,152.14 C283.84,147.08 283.81,140.74 283.66,136.95 C283.50,133.16 283.58,131.25 282.87,129.43 C282.17,127.61 281.83,126.95 279.43,126.02 C277.03,125.09 272.39,124.51 268.48,123.86 C264.57,123.22 259.87,122.44 255.96,122.14 C252.05,121.83 248.01,121.83 245.01,122.05 C242.01,122.27 239.80,122.58 237.97,123.46 C236.14,124.34 234.97,125.08 234.06,127.33 C233.15,129.58 232.62,132.43 232.49,136.94 C232.36,141.44 232.75,149.64 233.28,154.35 C233.80,159.07 234.71,162.62 235.62,165.24 C236.54,167.87 237.45,169.22 238.75,170.12 C240.06,171.03 240.84,170.85 243.45,170.69 C246.05,170.53 249.97,169.60 254.40,169.17 C258.83,168.73 265.74,168.32 270.04,168.07 C274.35,167.81 277.97,167.74 280.21,167.62 C282.46,167.51 282.90,169.94 283.50,167.36Z" fill="none" stroke="#5a6675" stroke-width="1.05" stroke-linejoin="round"/>
<path d="M287.16,165.98 C287.33,164.64 287.35,164.26 287.30,157.93 C287.25,151.60 287.06,138.37 286.86,127.99 C286.67,117.61 286.54,102.82 286.13,95.65 C285.71,88.48 285.34,87.93 284.37,84.96 C283.39,82.00 283.02,80.13 280.25,77.85 C277.49,75.57 272.06,72.78 267.77,71.29 C263.49,69.81 258.72,68.87 254.56,68.94 C250.40,69.00 246.12,70.32 242.81,71.68 C239.51,73.03 236.87,74.96 234.74,77.06 C232.61,79.16 231.24,80.80 230.04,84.28 C228.84,87.77 228.13,90.69 227.54,97.98 C226.96,105.27 226.61,118.81 226.52,128.03 C226.42,137.26 226.56,146.80 226.96,153.31 C227.35,159.83 228.06,163.74 228.87,167.10 C229.67,170.46 230.70,172.11 231.80,173.45 C232.90,174.80 234.13,175.26 235.47,175.16 C236.82,175.06 238.16,173.93 239.88,172.85 C241.59,171.78 243.30,169.79 245.75,168.69 C248.20,167.59 250.64,166.80 254.56,166.27 C258.48,165.74 264.84,165.60 269.24,165.49 C273.65,165.39 278.15,165.57 280.99,165.65 C283.83,165.73 285.25,165.91 286.27,165.97 C287.30,166.02 286.98,167.32 287.16,165.98Z" fill="none" stroke="#1236ff" stroke-width="1.2" stroke-linejoin="round"/>
<path d="M289.85,167.35 C290.03,166.03 290.06,165.65 290.01,159.46 C289.95,153.27 289.74,140.31 289.53,130.19 C289.32,120.06 289.19,105.62 288.74,98.71 C288.30,91.81 287.90,91.38 286.85,88.75 C285.80,86.13 285.41,84.52 282.44,82.98 C279.47,81.44 273.64,80.32 269.04,79.52 C264.44,78.72 259.31,78.20 254.85,78.17 C250.38,78.13 245.78,78.59 242.23,79.31 C238.69,80.04 235.85,81.04 233.56,82.53 C231.28,84.02 229.81,85.18 228.52,88.25 C227.23,91.32 226.47,93.97 225.84,100.95 C225.21,107.94 224.84,121.16 224.73,130.17 C224.63,139.17 224.79,148.58 225.21,154.96 C225.63,161.35 226.39,165.21 227.26,168.49 C228.12,171.78 229.23,173.36 230.41,174.68 C231.59,175.99 232.91,176.46 234.35,176.36 C235.80,176.27 237.24,175.14 239.08,174.12 C240.92,173.11 242.76,171.27 245.39,170.26 C248.02,169.25 250.64,168.57 254.85,168.07 C259.05,167.57 265.88,167.41 270.61,167.26 C275.34,167.11 280.18,167.16 283.23,167.18 C286.27,167.19 287.80,167.33 288.90,167.36 C290.01,167.39 289.66,168.67 289.85,167.35Z" fill="none" stroke="#1236ff" stroke-width="1.2" stroke-linejoin="round"/>
<path d="M286.61,166.50 C286.77,165.17 286.80,164.79 286.75,158.49 C286.70,152.20 286.51,139.04 286.32,128.73 C286.14,118.42 286.02,103.72 285.62,96.63 C285.22,89.53 284.86,89.02 283.92,86.16 C282.98,83.29 282.62,81.50 279.96,79.45 C277.30,77.40 272.06,75.13 267.94,73.85 C263.81,72.58 259.22,71.77 255.21,71.81 C251.20,71.84 247.08,72.90 243.90,74.06 C240.72,75.22 238.17,76.85 236.12,78.77 C234.07,80.68 232.75,82.17 231.59,85.53 C230.44,88.89 229.76,91.72 229.19,98.93 C228.62,106.13 228.29,119.59 228.20,128.75 C228.11,137.91 228.25,147.43 228.62,153.91 C229.00,160.39 229.69,164.29 230.46,167.63 C231.24,170.96 232.23,172.60 233.29,173.93 C234.35,175.27 235.53,175.73 236.83,175.64 C238.12,175.54 239.42,174.41 241.07,173.35 C242.72,172.29 244.37,170.34 246.73,169.27 C249.08,168.20 251.44,167.44 255.21,166.92 C258.98,166.40 265.11,166.25 269.35,166.14 C273.60,166.02 277.93,166.16 280.67,166.22 C283.40,166.28 284.77,166.44 285.76,166.49 C286.75,166.54 286.44,167.83 286.61,166.50Z" fill="none" stroke="#1236ff" stroke-width="1.2" stroke-linejoin="round"/>
<path d="M288.04,165.70 C288.21,164.42 288.23,164.05 288.18,158.02 C288.13,151.99 287.94,139.38 287.74,129.53 C287.55,119.68 287.42,105.63 287.01,98.94 C286.59,92.24 286.22,91.84 285.24,89.36 C284.26,86.87 283.89,85.36 281.12,84.03 C278.35,82.70 272.91,82.00 268.61,81.38 C264.32,80.76 259.54,80.35 255.37,80.30 C251.20,80.24 246.91,80.47 243.60,81.04 C240.29,81.60 237.64,82.36 235.51,83.67 C233.37,84.98 232.00,86.00 230.80,88.91 C229.60,91.81 228.89,94.34 228.30,101.11 C227.71,107.87 227.37,120.74 227.27,129.49 C227.17,138.25 227.32,147.42 227.71,153.65 C228.10,159.87 228.81,163.63 229.62,166.82 C230.43,170.02 231.46,171.55 232.57,172.83 C233.67,174.12 234.90,174.60 236.24,174.51 C237.59,174.42 238.94,173.29 240.66,172.31 C242.37,171.32 244.09,169.56 246.54,168.59 C249.00,167.62 251.45,166.98 255.37,166.50 C259.30,166.02 265.67,165.86 270.09,165.71 C274.50,165.55 279.01,165.57 281.86,165.57 C284.70,165.57 286.12,165.69 287.15,165.71 C288.18,165.73 287.86,166.98 288.04,165.70Z" fill="none" stroke="#1236ff" stroke-width="1.2" stroke-linejoin="round"/>
<path d="M290.49,164.75 C290.68,163.45 290.71,163.08 290.65,156.95 C290.60,150.81 290.39,137.99 290.17,127.94 C289.96,117.90 289.82,103.58 289.36,96.68 C288.91,89.79 288.51,89.30 287.43,86.56 C286.36,83.82 285.96,82.11 282.92,80.23 C279.89,78.35 273.93,76.42 269.23,75.29 C264.53,74.16 259.30,73.44 254.73,73.46 C250.17,73.47 245.47,74.35 241.85,75.38 C238.22,76.41 235.32,77.86 232.99,79.62 C230.65,81.39 229.15,82.76 227.83,85.98 C226.52,89.19 225.74,91.92 225.10,98.92 C224.45,105.91 224.08,119.03 223.97,127.95 C223.86,136.88 224.02,146.16 224.45,152.48 C224.88,158.80 225.66,162.61 226.54,165.86 C227.43,169.11 228.56,170.70 229.77,172.00 C230.97,173.31 232.32,173.78 233.79,173.69 C235.27,173.60 236.75,172.47 238.63,171.44 C240.50,170.41 242.38,168.53 245.07,167.50 C247.75,166.47 250.44,165.75 254.73,165.24 C259.03,164.73 266.01,164.59 270.84,164.47 C275.67,164.34 280.61,164.46 283.73,164.51 C286.84,164.55 288.40,164.71 289.53,164.75 C290.65,164.79 290.30,166.05 290.49,164.75Z" fill="none" stroke="#1236ff" stroke-width="1.2" stroke-linejoin="round"/>
<path d="M288.92,168.15 C289.10,166.82 289.12,166.44 289.07,160.15 C289.02,153.86 288.82,140.71 288.61,130.43 C288.41,120.15 288.28,105.48 287.85,98.45 C287.42,91.42 287.03,90.96 286.01,88.25 C284.99,85.54 284.61,83.87 281.73,82.18 C278.85,80.50 273.19,79.08 268.73,78.15 C264.27,77.22 259.30,76.63 254.96,76.61 C250.63,76.59 246.17,77.20 242.73,78.04 C239.28,78.89 236.53,80.06 234.31,81.67 C232.10,83.28 230.67,84.53 229.42,87.71 C228.17,90.89 227.43,93.61 226.82,100.73 C226.21,107.85 225.85,121.28 225.75,130.42 C225.65,139.56 225.80,149.10 226.21,155.58 C226.61,162.06 227.35,165.97 228.19,169.30 C229.04,172.64 230.11,174.26 231.25,175.59 C232.40,176.92 233.68,177.38 235.08,177.29 C236.48,177.19 237.88,176.06 239.67,175.02 C241.45,173.98 243.24,172.09 245.79,171.06 C248.33,170.02 250.88,169.31 254.96,168.80 C259.04,168.29 265.67,168.14 270.26,168.00 C274.85,167.85 279.54,167.93 282.49,167.95 C285.45,167.98 286.93,168.12 288.00,168.16 C289.07,168.19 288.74,169.49 288.92,168.15Z" fill="none" stroke="#1236ff" stroke-width="1.2" stroke-linejoin="round"/>
<path d="M285.56,170.97 C286.56,169.08 286.23,164.74 286.31,160.45 C286.38,156.17 286.26,149.16 286.01,145.27 C285.76,141.37 285.46,139.19 284.82,137.08 C284.17,134.97 283.87,133.66 282.13,132.61 C280.39,131.57 277.16,131.20 274.38,130.80 C271.59,130.40 268.04,130.21 265.42,130.21 C262.81,130.22 260.50,130.29 258.71,130.85 C256.92,131.41 255.60,131.75 254.68,133.57 C253.76,135.39 253.47,137.68 253.19,141.77 C252.92,145.86 252.92,153.54 253.04,158.12 C253.17,162.69 253.37,166.64 253.94,169.21 C254.51,171.78 255.31,172.62 256.47,173.53 C257.64,174.45 258.71,174.70 260.95,174.70 C263.19,174.70 266.67,174.02 269.90,173.53 C273.13,173.04 277.73,172.21 280.34,171.78 C282.95,171.35 284.57,172.85 285.56,170.97Z" fill="none" stroke="#ff2d00" stroke-width="1.2" stroke-linejoin="round"/>
<path d="M284.47,169.16 C285.48,167.34 285.15,163.14 285.23,159.00 C285.31,154.86 285.18,148.08 284.93,144.30 C284.67,140.53 284.37,138.41 283.71,136.35 C283.05,134.29 282.75,133.01 280.98,131.95 C279.20,130.90 275.91,130.45 273.08,130.03 C270.24,129.62 266.62,129.43 263.96,129.46 C261.30,129.48 258.95,129.62 257.13,130.20 C255.30,130.78 253.96,131.17 253.02,132.95 C252.09,134.74 251.78,136.95 251.50,140.92 C251.23,144.88 251.23,152.31 251.35,156.74 C251.48,161.16 251.68,164.98 252.26,167.47 C252.85,169.95 253.66,170.76 254.85,171.64 C256.04,172.53 257.13,172.78 259.40,172.77 C261.68,172.77 265.23,172.10 268.52,171.63 C271.81,171.16 276.50,170.35 279.15,169.94 C281.81,169.53 283.46,170.99 284.47,169.16Z" fill="none" stroke="#ff2d00" stroke-width="1.2" stroke-linejoin="round"/>
<path d="M283.84,170.19 C284.90,168.37 284.56,164.20 284.64,160.09 C284.72,155.97 284.59,149.23 284.32,145.50 C284.06,141.76 283.74,139.68 283.05,137.68 C282.36,135.68 282.04,134.45 280.18,133.52 C278.33,132.58 274.88,132.39 271.91,132.05 C268.94,131.72 265.15,131.53 262.37,131.50 C259.58,131.48 257.12,131.42 255.21,131.89 C253.30,132.36 251.89,132.62 250.91,134.32 C249.93,136.03 249.61,138.21 249.32,142.13 C249.03,146.05 249.03,153.44 249.16,157.84 C249.29,162.24 249.51,166.04 250.12,168.51 C250.73,170.98 251.57,171.79 252.82,172.67 C254.07,173.55 255.21,173.79 257.59,173.79 C259.98,173.79 263.69,173.14 267.14,172.68 C270.59,172.21 275.49,171.41 278.27,170.99 C281.06,170.58 282.78,172.01 283.84,170.19Z" fill="none" stroke="#ff2d00" stroke-width="1.2" stroke-linejoin="round"/>
<path d="M282.75,168.88 C283.75,167.13 283.42,163.12 283.50,159.16 C283.57,155.21 283.45,148.73 283.20,145.15 C282.95,141.56 282.65,139.56 282.00,137.65 C281.35,135.74 281.06,134.56 279.31,133.68 C277.56,132.80 274.32,132.66 271.53,132.35 C268.74,132.05 265.17,131.87 262.55,131.83 C259.94,131.79 257.62,131.71 255.82,132.14 C254.03,132.57 252.71,132.80 251.78,134.42 C250.86,136.05 250.56,138.14 250.29,141.90 C250.01,145.67 250.01,152.78 250.14,157.01 C250.26,161.23 250.46,164.89 251.04,167.26 C251.61,169.64 252.41,170.41 253.58,171.26 C254.75,172.10 255.82,172.33 258.07,172.34 C260.31,172.34 263.80,171.72 267.04,171.28 C270.28,170.83 274.90,170.06 277.52,169.66 C280.13,169.26 281.75,170.63 282.75,168.88Z" fill="none" stroke="#ff2d00" stroke-width="1.2" stroke-linejoin="round"/>
<path d="M285.90,171.55 C286.93,169.65 286.59,165.30 286.67,161.01 C286.75,156.72 286.62,149.69 286.36,145.79 C286.10,141.89 285.79,139.71 285.12,137.61 C284.45,135.52 284.14,134.22 282.34,133.21 C280.53,132.21 277.18,131.94 274.29,131.57 C271.40,131.19 267.71,131.00 265.00,130.99 C262.30,130.97 259.90,130.97 258.04,131.49 C256.18,132.01 254.82,132.31 253.86,134.11 C252.91,135.91 252.60,138.18 252.31,142.28 C252.03,146.37 252.03,154.08 252.16,158.67 C252.29,163.25 252.50,167.22 253.09,169.79 C253.68,172.37 254.51,173.21 255.72,174.13 C256.93,175.04 258.04,175.30 260.36,175.30 C262.68,175.30 266.29,174.62 269.65,174.13 C273.00,173.65 277.77,172.81 280.48,172.38 C283.19,171.95 284.86,173.44 285.90,171.55Z" fill="none" stroke="#ff2d00" stroke-width="1.2" stroke-linejoin="round"/>
<path d="M283.50,167.65 C284.41,165.88 284.11,161.79 284.18,157.76 C284.25,153.73 284.14,147.14 283.91,143.46 C283.68,139.78 283.41,137.71 282.82,135.69 C282.23,133.67 281.96,132.40 280.37,131.34 C278.78,130.28 275.82,129.74 273.28,129.31 C270.73,128.88 267.49,128.69 265.10,128.74 C262.71,128.79 260.60,128.98 258.97,129.59 C257.33,130.20 256.13,130.62 255.29,132.38 C254.45,134.14 254.17,136.31 253.92,140.17 C253.67,144.03 253.67,151.26 253.79,155.56 C253.90,159.87 254.08,163.58 254.60,166.00 C255.13,168.41 255.85,169.20 256.92,170.06 C257.99,170.92 258.97,171.16 261.01,171.16 C263.06,171.16 266.24,170.50 269.19,170.04 C272.14,169.57 276.34,168.79 278.73,168.39 C281.12,167.99 282.59,169.42 283.50,167.65Z" fill="none" stroke="#ff2d00" stroke-width="1.2" stroke-linejoin="round"/>
<line x1="221.80" y1="38.32" x2="221.80" y2="197.38" stroke="#858585" stroke-width="1.4" />
<line x1="217.80" y1="196.88" x2="221.80" y2="196.88" stroke="#000" stroke-width="1.1" />
<text x="211.50" y="200.78" font-family="Liberation Serif" font-size="12" font-weight="bold" text-anchor="end" fill="#000" stroke="#000" stroke-width="0.3" textLength="14.6" lengthAdjust="spacingAndGlyphs">-20</text>
<line x1="217.80" y1="174.30" x2="221.80" y2="174.30" stroke="#000" stroke-width="1.1" />
<text x="211.50" y="178.20" font-family="Liberation Serif" font-size="12" font-weight="bold" text-anchor="end" fill="#000" stroke="#000" stroke-width="0.3" textLength="5.9" lengthAdjust="spacingAndGlyphs">0</text>
<line x1="217.80" y1="151.72" x2="221.80" y2="151.72" stroke="#000" stroke-width="1.1" />
<text x="211.50" y="155.62" font-family="Liberation Serif" font-size="12" font-weight="bold" text-anchor="end" fill="#000" stroke="#000" stroke-width="0.3" textLength="11.3" lengthAdjust="spacingAndGlyphs">20</text>
<line x1="217.80" y1="129.14" x2="221.80" y2="129.14" stroke="#000" stroke-width="1.1" />
<text x="211.50" y="133.04" font-family="Liberation Serif" font-size="12" font-weight="bold" text-anchor="end" fill="#000" stroke="#000" stroke-width="0.3" textLength="11.3" lengthAdjust="spacingAndGlyphs">40</text>
<line x1="217.80" y1="106.56" x2="221.80" y2="106.56" stroke="#000" stroke-width="1.1" />
<text x="211.50" y="110.46" font-family="Liberation Serif" font-size="12" font-weight="bold" text-anchor="end" fill="#000" stroke="#000" stroke-width="0.3" textLength="11.3" lengthAdjust="spacingAndGlyphs">60</text>
<line x1="217.80" y1="83.98" x2="221.80" y2="83.98" stroke="#000" stroke-width="1.1" />
<text x="211.50" y="87.88" font-family="Liberation Serif" font-size="12" font-weight="bold" text-anchor="end" fill="#000" stroke="#000" stroke-width="0.3" textLength="11.3" lengthAdjust="spacingAndGlyphs">80</text>
<line x1="217.80" y1="61.40" x2="221.80" y2="61.40" stroke="#000" stroke-width="1.1" />
<text x="211.50" y="65.30" font-family="Liberation Serif" font-size="12" font-weight="bold" text-anchor="end" fill="#000" stroke="#000" stroke-width="0.3" textLength="16.8" lengthAdjust="spacingAndGlyphs">100</text>
<line x1="217.80" y1="38.82" x2="221.80" y2="38.82" stroke="#000" stroke-width="1.1" />
<text x="211.50" y="42.72" font-family="Liberation Serif" font-size="12" font-weight="bold" text-anchor="end" fill="#000" stroke="#000" stroke-width="0.3" textLength="16.8" lengthAdjust="spacingAndGlyphs">120</text>
<line x1="217.80" y1="174.30" x2="312.72" y2="174.30" stroke="#000" stroke-width="1.3" />
<line x1="221.80" y1="174.30" x2="221.80" y2="178.30" stroke="#000" stroke-width="1.1" />
<text x="221.80" y="192.00" font-family="Liberation Serif" font-size="12" font-weight="bold" text-anchor="middle" fill="#000" stroke="#000" stroke-width="0.3" >0</text>
<line x1="251.94" y1="174.30" x2="251.94" y2="178.30" stroke="#000" stroke-width="1.1" />
<text x="251.94" y="192.00" font-family="Liberation Serif" font-size="12" font-weight="bold" text-anchor="middle" fill="#000" stroke="#000" stroke-width="0.3" >20</text>
<line x1="282.08" y1="174.30" x2="282.08" y2="178.30" stroke="#000" stroke-width="1.1" />
<text x="282.08" y="192.00" font-family="Liberation Serif" font-size="12" font-weight="bold" text-anchor="middle" fill="#000" stroke="#000" stroke-width="0.3" >40</text>
<line x1="312.22" y1="174.30" x2="312.22" y2="178.30" stroke="#000" stroke-width="1.1" />
<clipPath id="c60"><rect x="302.22" y="175" width="10.3" height="25"/></clipPath>
<text x="312.22" y="192.00" font-family="Liberation Serif" font-size="12" font-weight="bold" text-anchor="middle" fill="#000" stroke="#000" stroke-width="0.3" clip-path="url(#c60)">60</text>
<text x="221.80" y="37.70" font-family="Liberation Serif" font-size="14.5" font-weight="bold" text-anchor="start" fill="#000" stroke="#000" stroke-width="0.3" textLength="79" lengthAdjust="spacingAndGlyphs">WT Hypoxic</text>
<text x="270.30" y="210.90" font-family="Liberation Serif" font-size="14.2" font-weight="bold" text-anchor="middle" fill="#000" stroke="#000" stroke-width="0.3" textLength="55" lengthAdjust="spacingAndGlyphs">LVV (µL)</text>
<line x1="375.30" y1="41.46" x2="375.30" y2="196.44" stroke="#e2e2e2" stroke-width="1.0" />
<line x1="405.30" y1="41.46" x2="405.30" y2="196.44" stroke="#e2e2e2" stroke-width="1.0" />
<line x1="435.30" y1="41.46" x2="435.30" y2="196.44" stroke="#e2e2e2" stroke-width="1.0" />
<line x1="345.30" y1="196.44" x2="435.30" y2="196.44" stroke="#e2e2e2" stroke-width="1.0" />
<line x1="345.30" y1="152.16" x2="435.30" y2="152.16" stroke="#e2e2e2" stroke-width="1.0" />
<line x1="345.30" y1="130.02" x2="435.30" y2="130.02" stroke="#e2e2e2" stroke-width="1.0" />
<line x1="345.30" y1="107.88" x2="435.30" y2="107.88" stroke="#e2e2e2" stroke-width="1.0" />
<line x1="345.30" y1="85.74" x2="435.30" y2="85.74" stroke="#e2e2e2" stroke-width="1.0" />
<line x1="345.30" y1="63.60" x2="435.30" y2="63.60" stroke="#e2e2e2" stroke-width="1.0" />
<line x1="345.30" y1="41.46" x2="435.30" y2="41.46" stroke="#e2e2e2" stroke-width="1.0" />
<path d="M397.85,171.59 C398.68,168.36 398.34,160.53 398.47,152.78 C398.60,145.04 398.68,132.87 398.62,125.12 C398.57,117.37 398.55,111.29 398.16,106.31 C397.78,101.33 397.21,98.29 396.31,95.25 C395.41,92.20 394.25,89.71 392.76,88.05 C391.27,86.39 389.17,85.66 387.37,85.29 C385.57,84.92 383.51,85.10 381.97,85.84 C380.43,86.58 379.12,87.78 378.11,89.71 C377.11,91.65 376.42,93.40 375.95,97.46 C375.49,101.52 375.39,106.68 375.34,114.06 C375.29,121.43 375.44,133.42 375.65,141.72 C375.85,150.01 376.16,158.87 376.57,163.85 C376.98,168.82 377.34,169.93 378.11,171.59 C378.88,173.25 379.66,173.53 381.20,173.80 C382.74,174.08 385.31,173.53 387.37,173.25 C389.42,172.97 391.79,172.42 393.54,172.14 C395.28,171.87 397.03,174.82 397.85,171.59Z" fill="none" stroke="#5f6b7a" stroke-width="1.0" stroke-linejoin="round"/>
<path d="M395.78,171.08 C396.48,167.81 396.20,159.89 396.31,152.05 C396.41,144.22 396.48,131.91 396.44,124.07 C396.39,116.24 396.37,110.08 396.04,105.05 C395.71,100.01 395.23,96.93 394.47,93.85 C393.70,90.78 392.72,88.26 391.45,86.58 C390.18,84.90 388.39,84.15 386.86,83.78 C385.33,83.41 383.58,83.59 382.27,84.34 C380.96,85.09 379.84,86.30 378.99,88.26 C378.13,90.22 377.54,91.99 377.15,96.09 C376.76,100.20 376.67,105.42 376.63,112.88 C376.58,120.34 376.71,132.47 376.89,140.86 C377.06,149.25 377.33,158.21 377.68,163.24 C378.03,168.28 378.33,169.40 378.99,171.08 C379.64,172.76 380.30,173.04 381.61,173.32 C382.92,173.60 385.11,173.04 386.86,172.76 C388.61,172.48 390.62,171.92 392.11,171.64 C393.59,171.36 395.08,174.34 395.78,171.08Z" fill="none" stroke="#4f5a68" stroke-width="1.0" stroke-linejoin="round"/>
<path d="M394.71,170.23 C395.47,167.07 395.16,159.41 395.28,151.85 C395.40,144.28 395.47,132.38 395.43,124.81 C395.38,117.24 395.35,111.29 395.00,106.43 C394.64,101.56 394.11,98.59 393.27,95.61 C392.43,92.64 391.35,90.21 389.96,88.58 C388.57,86.96 386.60,86.24 384.92,85.88 C383.24,85.52 381.32,85.70 379.88,86.42 C378.44,87.14 377.22,88.31 376.28,90.21 C375.35,92.10 374.70,93.81 374.27,97.78 C373.83,101.74 373.74,106.79 373.69,114.00 C373.64,121.21 373.79,132.92 373.98,141.03 C374.17,149.14 374.46,157.79 374.84,162.66 C375.23,167.53 375.56,168.61 376.28,170.23 C377.00,171.85 377.72,172.12 379.16,172.39 C380.60,172.66 383.00,172.12 384.92,171.85 C386.84,171.58 389.04,171.04 390.68,170.77 C392.31,170.50 393.94,173.38 394.71,170.23Z" fill="none" stroke="#66727f" stroke-width="1.0" stroke-linejoin="round"/>
<path d="M396.40,172.38 C397.26,169.09 396.91,161.10 397.04,153.21 C397.18,145.32 397.26,132.92 397.21,125.02 C397.15,117.13 397.13,110.93 396.72,105.86 C396.32,100.78 395.73,97.68 394.79,94.58 C393.85,91.48 392.64,88.94 391.08,87.25 C389.52,85.56 387.32,84.81 385.44,84.43 C383.56,84.06 381.41,84.25 379.79,85.00 C378.18,85.75 376.81,86.97 375.76,88.94 C374.72,90.92 373.99,92.70 373.51,96.84 C373.02,100.97 372.92,106.23 372.86,113.75 C372.81,121.27 372.97,133.48 373.18,141.94 C373.40,150.39 373.72,159.41 374.15,164.49 C374.58,169.56 374.96,170.69 375.76,172.38 C376.57,174.07 377.38,174.35 378.99,174.63 C380.60,174.92 383.29,174.35 385.44,174.07 C387.59,173.79 390.06,173.22 391.89,172.94 C393.71,172.66 395.54,175.67 396.40,172.38Z" fill="none" stroke="#5f6b7a" stroke-width="1.0" stroke-linejoin="round"/>
<path d="M397.25,169.65 C398.02,166.45 397.70,158.68 397.82,151.00 C397.94,143.32 398.02,131.26 397.97,123.58 C397.92,115.90 397.90,109.86 397.54,104.93 C397.18,99.99 396.65,96.97 395.81,93.96 C394.97,90.94 393.90,88.47 392.51,86.83 C391.12,85.18 389.15,84.45 387.48,84.08 C385.80,83.72 383.89,83.90 382.45,84.63 C381.01,85.36 379.79,86.55 378.86,88.47 C377.92,90.39 377.27,92.13 376.84,96.15 C376.41,100.17 376.32,105.29 376.27,112.61 C376.22,119.92 376.36,131.80 376.56,140.03 C376.75,148.26 377.04,157.03 377.42,161.97 C377.80,166.91 378.14,168.00 378.86,169.65 C379.57,171.30 380.29,171.57 381.73,171.84 C383.17,172.12 385.56,171.57 387.48,171.30 C389.39,171.02 391.60,170.47 393.23,170.20 C394.85,169.92 396.48,172.85 397.25,169.65Z" fill="none" stroke="#444e5a" stroke-width="1.0" stroke-linejoin="round"/>
<path d="M394.39,171.96 C395.19,168.76 394.87,160.98 394.99,153.29 C395.12,145.61 395.19,133.53 395.14,125.84 C395.09,118.15 395.07,112.11 394.69,107.17 C394.32,102.23 393.76,99.21 392.89,96.19 C392.01,93.17 390.88,90.70 389.43,89.05 C387.97,87.41 385.92,86.67 384.16,86.31 C382.41,85.94 380.40,86.13 378.90,86.86 C377.39,87.59 376.12,88.78 375.14,90.70 C374.16,92.62 373.48,94.36 373.03,98.39 C372.58,102.41 372.48,107.54 372.43,114.86 C372.38,122.18 372.53,134.08 372.73,142.31 C372.93,150.55 373.23,159.33 373.63,164.27 C374.04,169.21 374.39,170.31 375.14,171.96 C375.89,173.61 376.64,173.88 378.15,174.16 C379.65,174.43 382.16,173.88 384.16,173.61 C386.17,173.33 388.47,172.78 390.18,172.51 C391.88,172.23 393.59,175.16 394.39,171.96Z" fill="none" stroke="#4f5a68" stroke-width="1.0" stroke-linejoin="round"/>
<path d="M395.85,170.51 C396.76,167.24 396.39,159.28 396.53,151.41 C396.67,143.54 396.76,131.18 396.70,123.31 C396.64,115.45 396.62,109.27 396.19,104.21 C395.77,99.15 395.14,96.06 394.15,92.97 C393.16,89.88 391.88,87.35 390.24,85.67 C388.60,83.98 386.27,83.23 384.29,82.86 C382.31,82.48 380.04,82.67 378.34,83.42 C376.64,84.17 375.20,85.39 374.09,87.35 C372.99,89.32 372.22,91.10 371.71,95.22 C371.20,99.34 371.09,104.58 371.03,112.08 C370.97,119.57 371.14,131.74 371.37,140.17 C371.60,148.60 371.94,157.59 372.39,162.65 C372.84,167.71 373.24,168.83 374.09,170.51 C374.94,172.20 375.79,172.48 377.49,172.76 C379.19,173.04 382.02,172.48 384.29,172.20 C386.56,171.92 389.16,171.36 391.09,171.08 C393.02,170.80 394.94,173.79 395.85,170.51Z" fill="none" stroke="#66727f" stroke-width="1.0" stroke-linejoin="round"/>
<path d="M395.07,170.86 C396.06,167.51 395.66,159.38 395.81,151.34 C395.97,143.30 396.06,130.68 396.00,122.64 C395.94,114.60 395.91,108.29 395.44,103.12 C394.97,97.96 394.29,94.80 393.20,91.64 C392.11,88.49 390.71,85.90 388.90,84.18 C387.10,82.46 384.55,81.69 382.37,81.31 C380.19,80.93 377.70,81.12 375.83,81.89 C373.96,82.65 372.38,83.90 371.16,85.90 C369.95,87.91 369.11,89.73 368.55,93.94 C367.99,98.15 367.86,103.51 367.80,111.16 C367.74,118.81 367.92,131.25 368.17,139.86 C368.42,148.47 368.80,157.65 369.29,162.82 C369.79,167.99 370.23,169.13 371.16,170.86 C372.10,172.58 373.03,172.87 374.90,173.15 C376.76,173.44 379.88,172.87 382.37,172.58 C384.86,172.29 387.72,171.72 389.84,171.43 C391.95,171.14 394.07,174.20 395.07,170.86Z" fill="none" stroke="#111" stroke-width="1.0" stroke-linejoin="round"/>
<path d="M400.77,166.29 C401.28,162.92 401.28,154.65 401.38,145.87 C401.48,137.10 401.55,122.59 401.38,113.64 C401.20,104.69 401.02,97.70 400.32,92.15 C399.62,86.60 398.62,83.65 397.17,80.33 C395.71,77.02 393.91,74.33 391.60,72.27 C389.30,70.22 386.09,68.87 383.33,67.98 C380.58,67.08 377.82,66.90 375.07,66.90 C372.31,66.90 369.55,67.08 366.80,67.98 C364.04,68.87 360.83,70.22 358.53,72.27 C356.22,74.33 354.39,77.02 352.97,80.33 C351.54,83.65 350.66,86.60 349.96,92.15 C349.26,97.70 348.96,105.58 348.76,113.64 C348.56,121.70 348.61,132.80 348.76,140.50 C348.91,148.20 349.16,155.45 349.66,159.84 C350.16,164.23 350.79,165.27 351.76,166.82 C352.74,168.38 354.02,168.83 355.52,169.19 C357.02,169.55 358.65,169.28 360.78,168.97 C362.91,168.67 365.04,167.81 368.30,167.36 C371.56,166.91 376.32,166.50 380.33,166.29 C384.34,166.07 389.35,166.11 392.36,166.07 C395.36,166.04 396.97,166.04 398.37,166.07 C399.77,166.11 400.27,169.65 400.77,166.29Z" fill="none" stroke="#1236ff" stroke-width="1.25" stroke-linejoin="round"/>
<path d="M402.00,167.38 C402.51,163.94 402.51,155.48 402.61,146.50 C402.71,137.53 402.79,122.69 402.61,113.54 C402.43,104.38 402.26,97.23 401.55,91.56 C400.84,85.88 399.84,82.86 398.37,79.47 C396.91,76.08 395.09,73.33 392.77,71.23 C390.45,69.12 387.22,67.75 384.45,66.83 C381.68,65.91 378.90,65.73 376.13,65.73 C373.35,65.73 370.58,65.91 367.80,66.83 C365.03,67.75 361.80,69.12 359.48,71.23 C357.16,73.33 355.32,76.08 353.88,79.47 C352.45,82.86 351.56,85.88 350.86,91.56 C350.15,97.23 349.85,105.29 349.65,113.54 C349.44,121.78 349.49,133.13 349.65,141.01 C349.80,148.88 350.05,156.30 350.55,160.79 C351.06,165.28 351.69,166.34 352.67,167.93 C353.66,169.53 354.94,169.98 356.46,170.35 C357.97,170.72 359.61,170.44 361.75,170.13 C363.90,169.82 366.04,168.94 369.32,168.48 C372.60,168.02 377.39,167.60 381.42,167.38 C385.46,167.16 390.50,167.20 393.53,167.16 C396.56,167.13 398.17,167.13 399.58,167.16 C401.00,167.20 401.50,170.83 402.00,167.38Z" fill="none" stroke="#1236ff" stroke-width="1.25" stroke-linejoin="round"/>
<path d="M401.42,169.07 C401.91,165.58 401.91,157.01 402.01,147.93 C402.11,138.84 402.18,123.81 402.01,114.54 C401.84,105.27 401.66,98.03 400.97,92.28 C400.28,86.53 399.29,83.47 397.86,80.04 C396.42,76.61 394.64,73.83 392.37,71.69 C390.09,69.56 386.93,68.17 384.21,67.24 C381.49,66.31 378.77,66.13 376.05,66.13 C373.33,66.13 370.61,66.31 367.89,67.24 C365.17,68.17 362.01,69.56 359.74,71.69 C357.46,73.83 355.66,76.61 354.25,80.04 C352.84,83.47 351.97,86.53 351.28,92.28 C350.59,98.03 350.29,106.19 350.09,114.54 C349.90,122.89 349.95,134.39 350.09,142.36 C350.24,150.34 350.49,157.85 350.98,162.39 C351.48,166.94 352.10,168.01 353.06,169.63 C354.02,171.24 355.29,171.70 356.77,172.08 C358.25,172.45 359.86,172.17 361.96,171.85 C364.06,171.54 366.16,170.65 369.38,170.18 C372.59,169.72 377.29,169.29 381.24,169.07 C385.20,168.85 390.14,168.89 393.11,168.85 C396.08,168.81 397.66,168.81 399.04,168.85 C400.43,168.89 400.92,172.56 401.42,169.07Z" fill="none" stroke="#1236ff" stroke-width="1.25" stroke-linejoin="round"/>
<path d="M401.24,168.31 C401.73,164.80 401.73,156.17 401.83,147.01 C401.92,137.86 402.00,122.73 401.83,113.39 C401.66,104.06 401.49,96.77 400.81,90.98 C400.13,85.19 399.16,82.11 397.76,78.65 C396.35,75.20 394.61,72.40 392.38,70.25 C390.15,68.10 387.05,66.70 384.39,65.77 C381.73,64.83 379.06,64.65 376.40,64.65 C373.74,64.65 371.07,64.83 368.41,65.77 C365.74,66.70 362.64,68.10 360.42,70.25 C358.19,72.40 356.42,75.20 355.04,78.65 C353.66,82.11 352.81,85.19 352.13,90.98 C351.46,96.77 351.17,104.99 350.97,113.39 C350.78,121.80 350.83,133.38 350.97,141.41 C351.12,149.44 351.36,157.01 351.84,161.58 C352.33,166.16 352.93,167.24 353.88,168.87 C354.82,170.49 356.06,170.96 357.51,171.33 C358.96,171.71 360.54,171.43 362.60,171.11 C364.65,170.79 366.71,169.89 369.86,169.43 C373.01,168.96 377.61,168.53 381.48,168.31 C385.36,168.08 390.20,168.12 393.11,168.08 C396.01,168.05 397.56,168.05 398.92,168.08 C400.28,168.12 400.76,171.82 401.24,168.31Z" fill="none" stroke="#1236ff" stroke-width="1.25" stroke-linejoin="round"/>
<path d="M402.36,169.66 C402.88,166.08 402.88,157.29 402.98,147.96 C403.08,138.64 403.16,123.23 402.98,113.72 C402.80,104.20 402.62,96.78 401.90,90.88 C401.18,84.98 400.16,81.85 398.67,78.32 C397.18,74.80 395.34,71.95 392.98,69.76 C390.62,67.57 387.34,66.15 384.52,65.20 C381.69,64.24 378.87,64.05 376.05,64.05 C373.23,64.05 370.41,64.24 367.59,65.20 C364.77,66.15 361.49,67.57 359.13,69.76 C356.77,71.95 354.90,74.80 353.44,78.32 C351.97,81.85 351.08,84.98 350.36,90.88 C349.64,96.78 349.33,105.15 349.13,113.72 C348.92,122.28 348.97,134.07 349.13,142.26 C349.28,150.44 349.54,158.14 350.05,162.81 C350.56,167.47 351.20,168.57 352.20,170.23 C353.21,171.88 354.51,172.36 356.05,172.74 C357.59,173.12 359.26,172.83 361.44,172.51 C363.62,172.19 365.80,171.27 369.13,170.80 C372.46,170.32 377.34,169.88 381.44,169.66 C385.54,169.43 390.67,169.47 393.75,169.43 C396.82,169.39 398.47,169.39 399.90,169.43 C401.34,169.47 401.85,173.23 402.36,169.66Z" fill="none" stroke="#1236ff" stroke-width="1.25" stroke-linejoin="round"/>
<path d="M402.70,165.43 C403.20,161.98 403.20,153.48 403.30,144.47 C403.40,135.47 403.48,120.58 403.30,111.39 C403.13,102.19 402.95,95.02 402.25,89.33 C401.54,83.63 400.53,80.59 399.07,77.19 C397.61,73.79 395.79,71.03 393.47,68.92 C391.16,66.81 387.93,65.43 385.16,64.51 C382.38,63.59 379.61,63.41 376.84,63.41 C374.07,63.41 371.29,63.59 368.52,64.51 C365.75,65.43 362.52,66.81 360.20,68.92 C357.88,71.03 356.04,73.79 354.61,77.19 C353.17,80.59 352.29,83.63 351.58,89.33 C350.88,95.02 350.57,103.11 350.37,111.39 C350.17,119.66 350.22,131.06 350.37,138.96 C350.52,146.86 350.78,154.31 351.28,158.81 C351.78,163.32 352.41,164.38 353.40,165.98 C354.38,167.58 355.67,168.04 357.18,168.41 C358.69,168.78 360.33,168.50 362.47,168.19 C364.61,167.88 366.76,166.99 370.03,166.53 C373.31,166.07 378.10,165.65 382.13,165.43 C386.16,165.21 391.21,165.25 394.23,165.21 C397.25,165.17 398.87,165.17 400.28,165.21 C401.69,165.25 402.19,168.89 402.70,165.43Z" fill="none" stroke="#1236ff" stroke-width="1.25" stroke-linejoin="round"/>
<path d="M401.30,167.31 C401.76,163.94 401.76,155.68 401.85,146.91 C401.94,138.15 402.01,123.66 401.85,114.72 C401.69,105.77 401.53,98.80 400.89,93.25 C400.25,87.70 399.34,84.75 398.02,81.44 C396.70,78.13 395.06,75.45 392.96,73.39 C390.87,71.34 387.95,70.00 385.44,69.10 C382.94,68.21 380.43,68.03 377.93,68.03 C375.42,68.03 372.91,68.21 370.41,69.10 C367.90,70.00 364.98,71.34 362.89,73.39 C360.79,75.45 359.13,78.13 357.83,81.44 C356.53,84.75 355.73,87.70 355.09,93.25 C354.46,98.80 354.18,106.67 354.00,114.72 C353.82,122.77 353.86,133.86 354.00,141.55 C354.14,149.24 354.36,156.48 354.82,160.87 C355.28,165.25 355.85,166.29 356.73,167.84 C357.62,169.40 358.78,169.85 360.15,170.20 C361.52,170.56 363.00,170.29 364.94,169.99 C366.87,169.69 368.81,168.83 371.77,168.38 C374.74,167.93 379.06,167.52 382.71,167.31 C386.36,167.09 390.91,167.13 393.65,167.09 C396.38,167.06 397.84,167.06 399.12,167.09 C400.39,167.13 400.85,170.67 401.30,167.31Z" fill="none" stroke="#1236ff" stroke-width="1.2" stroke-linejoin="round"/>
<path d="M399.00,167.43 C399.11,164.57 399.30,157.51 399.33,151.41 C399.36,145.31 399.33,135.77 399.17,130.81 C399.00,125.86 398.89,124.14 398.34,121.66 C397.79,119.18 396.96,117.31 395.86,115.94 C394.76,114.57 393.11,113.80 391.73,113.42 C390.35,113.04 388.89,113.14 387.60,113.65 C386.30,114.17 384.92,114.80 383.96,116.51 C383.00,118.23 382.28,120.04 381.81,123.95 C381.34,127.86 381.29,133.86 381.15,139.97 C381.01,146.07 380.96,156.08 380.99,160.56 C381.01,165.04 381.07,165.44 381.32,166.85 C381.56,168.26 381.84,168.59 382.47,169.03 C383.11,169.47 383.57,169.45 385.12,169.49 C386.66,169.52 389.74,169.33 391.73,169.26 C393.71,169.18 395.86,169.14 397.02,169.03 C398.17,168.91 398.34,168.84 398.67,168.57 C399.00,168.30 398.89,170.29 399.00,167.43Z" fill="none" stroke="#ff2d00" stroke-width="1.2" stroke-linejoin="round"/>
<path d="M398.30,166.98 C398.41,164.24 398.60,157.48 398.63,151.63 C398.66,145.79 398.63,136.66 398.46,131.91 C398.30,127.16 398.19,125.51 397.64,123.14 C397.09,120.76 396.26,118.97 395.16,117.66 C394.05,116.34 392.40,115.61 391.02,115.25 C389.65,114.88 388.19,114.97 386.89,115.47 C385.59,115.96 384.22,116.56 383.25,118.21 C382.29,119.85 381.57,121.59 381.10,125.33 C380.63,129.08 380.58,134.83 380.44,140.67 C380.30,146.52 380.25,156.11 380.28,160.40 C380.30,164.70 380.36,165.08 380.61,166.43 C380.85,167.78 381.13,168.09 381.76,168.51 C382.40,168.93 382.87,168.91 384.41,168.95 C385.95,168.99 389.04,168.80 391.02,168.73 C393.01,168.66 395.16,168.62 396.31,168.51 C397.47,168.40 397.64,168.33 397.97,168.07 C398.30,167.82 398.19,169.72 398.30,166.98Z" fill="none" stroke="#ff2d00" stroke-width="1.2" stroke-linejoin="round"/>
<path d="M400.12,166.50 C400.23,163.86 400.41,157.36 400.44,151.74 C400.47,146.11 400.44,137.33 400.28,132.76 C400.12,128.19 400.01,126.61 399.48,124.33 C398.95,122.04 398.16,120.32 397.10,119.06 C396.03,117.79 394.44,117.09 393.12,116.74 C391.79,116.38 390.38,116.47 389.14,116.95 C387.89,117.42 386.56,118.00 385.63,119.58 C384.70,121.16 384.01,122.83 383.56,126.44 C383.11,130.04 383.06,135.57 382.93,141.19 C382.79,146.82 382.74,156.04 382.77,160.17 C382.79,164.30 382.85,164.67 383.09,165.97 C383.32,167.27 383.59,167.57 384.20,167.97 C384.81,168.38 385.26,168.36 386.75,168.39 C388.23,168.43 391.21,168.25 393.12,168.18 C395.03,168.11 397.10,168.08 398.21,167.97 C399.32,167.87 399.48,167.80 399.80,167.55 C400.12,167.31 400.01,169.13 400.12,166.50Z" fill="none" stroke="#ff2d00" stroke-width="1.2" stroke-linejoin="round"/>
<path d="M396.57,168.16 C396.66,165.32 396.81,158.31 396.84,152.24 C396.86,146.18 396.84,136.70 396.70,131.77 C396.57,126.85 396.48,125.14 396.03,122.68 C395.58,120.21 394.91,118.36 394.02,116.99 C393.12,115.63 391.78,114.87 390.66,114.49 C389.54,114.11 388.36,114.21 387.31,114.72 C386.26,115.23 385.14,115.86 384.35,117.56 C383.57,119.27 382.99,121.07 382.61,124.95 C382.23,128.84 382.18,134.81 382.07,140.87 C381.96,146.94 381.92,156.88 381.94,161.34 C381.96,165.79 382.01,166.19 382.21,167.59 C382.41,168.99 382.63,169.32 383.15,169.75 C383.66,170.19 384.04,170.17 385.29,170.21 C386.55,170.25 389.05,170.06 390.66,169.98 C392.27,169.90 394.02,169.87 394.96,169.75 C395.90,169.64 396.03,169.56 396.30,169.30 C396.57,169.03 396.48,171.00 396.57,168.16Z" fill="none" stroke="#ff2d00" stroke-width="1.2" stroke-linejoin="round"/>
<path d="M397.35,169.05 C397.44,166.32 397.58,159.58 397.60,153.76 C397.62,147.93 397.60,138.82 397.48,134.09 C397.35,129.35 397.27,127.71 396.86,125.34 C396.44,122.98 395.82,121.19 394.99,119.88 C394.16,118.57 392.92,117.84 391.89,117.48 C390.85,117.11 389.75,117.20 388.78,117.70 C387.81,118.19 386.77,118.79 386.05,120.43 C385.32,122.07 384.79,123.80 384.43,127.53 C384.08,131.26 384.04,137.00 383.94,142.83 C383.83,148.66 383.79,158.22 383.81,162.50 C383.83,166.78 383.87,167.16 384.06,168.51 C384.25,169.86 384.45,170.17 384.93,170.58 C385.41,171.00 385.76,170.99 386.92,171.02 C388.08,171.06 390.40,170.88 391.89,170.80 C393.38,170.73 394.99,170.69 395.86,170.58 C396.73,170.48 396.86,170.40 397.10,170.15 C397.35,169.89 397.27,171.79 397.35,169.05Z" fill="none" stroke="#ff2d00" stroke-width="1.2" stroke-linejoin="round"/>
<line x1="345.30" y1="40.96" x2="345.30" y2="196.94" stroke="#858585" stroke-width="1.4" />
<line x1="341.30" y1="196.44" x2="345.30" y2="196.44" stroke="#000" stroke-width="1.1" />
<text x="335.00" y="200.34" font-family="Liberation Serif" font-size="12" font-weight="bold" text-anchor="end" fill="#000" stroke="#000" stroke-width="0.3" textLength="14.6" lengthAdjust="spacingAndGlyphs">-20</text>
<line x1="341.30" y1="174.30" x2="345.30" y2="174.30" stroke="#000" stroke-width="1.1" />
<text x="335.00" y="178.20" font-family="Liberation Serif" font-size="12" font-weight="bold" text-anchor="end" fill="#000" stroke="#000" stroke-width="0.3" textLength="5.9" lengthAdjust="spacingAndGlyphs">0</text>
<line x1="341.30" y1="152.16" x2="345.30" y2="152.16" stroke="#000" stroke-width="1.1" />
<text x="335.00" y="156.06" font-family="Liberation Serif" font-size="12" font-weight="bold" text-anchor="end" fill="#000" stroke="#000" stroke-width="0.3" textLength="11.3" lengthAdjust="spacingAndGlyphs">20</text>
<line x1="341.30" y1="130.02" x2="345.30" y2="130.02" stroke="#000" stroke-width="1.1" />
<text x="335.00" y="133.92" font-family="Liberation Serif" font-size="12" font-weight="bold" text-anchor="end" fill="#000" stroke="#000" stroke-width="0.3" textLength="11.3" lengthAdjust="spacingAndGlyphs">40</text>
<line x1="341.30" y1="107.88" x2="345.30" y2="107.88" stroke="#000" stroke-width="1.1" />
<text x="335.00" y="111.78" font-family="Liberation Serif" font-size="12" font-weight="bold" text-anchor="end" fill="#000" stroke="#000" stroke-width="0.3" textLength="11.3" lengthAdjust="spacingAndGlyphs">60</text>
<line x1="341.30" y1="85.74" x2="345.30" y2="85.74" stroke="#000" stroke-width="1.1" />
<text x="335.00" y="89.64" font-family="Liberation Serif" font-size="12" font-weight="bold" text-anchor="end" fill="#000" stroke="#000" stroke-width="0.3" textLength="11.3" lengthAdjust="spacingAndGlyphs">80</text>
<line x1="341.30" y1="63.60" x2="345.30" y2="63.60" stroke="#000" stroke-width="1.1" />
<text x="335.00" y="67.50" font-family="Liberation Serif" font-size="12" font-weight="bold" text-anchor="end" fill="#000" stroke="#000" stroke-width="0.3" textLength="16.8" lengthAdjust="spacingAndGlyphs">100</text>
<line x1="341.30" y1="41.46" x2="345.30" y2="41.46" stroke="#000" stroke-width="1.1" />
<text x="335.00" y="45.36" font-family="Liberation Serif" font-size="12" font-weight="bold" text-anchor="end" fill="#000" stroke="#000" stroke-width="0.3" textLength="16.8" lengthAdjust="spacingAndGlyphs">120</text>
<line x1="341.30" y1="174.30" x2="435.80" y2="174.30" stroke="#000" stroke-width="1.3" />
<line x1="345.30" y1="174.30" x2="345.30" y2="178.30" stroke="#000" stroke-width="1.1" />
<text x="345.30" y="192.00" font-family="Liberation Serif" font-size="12" font-weight="bold" text-anchor="middle" fill="#000" stroke="#000" stroke-width="0.3" >0</text>
<line x1="375.30" y1="174.30" x2="375.30" y2="178.30" stroke="#000" stroke-width="1.1" />
<text x="375.30" y="192.00" font-family="Liberation Serif" font-size="12" font-weight="bold" text-anchor="middle" fill="#000" stroke="#000" stroke-width="0.3" >20</text>
<line x1="405.30" y1="174.30" x2="405.30" y2="178.30" stroke="#000" stroke-width="1.1" />
<text x="405.30" y="192.00" font-family="Liberation Serif" font-size="12" font-weight="bold" text-anchor="middle" fill="#000" stroke="#000" stroke-width="0.3" >40</text>
<line x1="435.30" y1="174.30" x2="435.30" y2="178.30" stroke="#000" stroke-width="1.1" />
<text x="435.30" y="192.00" font-family="Liberation Serif" font-size="12" font-weight="bold" text-anchor="middle" fill="#000" stroke="#000" stroke-width="0.3" >60</text>
<text x="345.30" y="37.70" font-family="Liberation Serif" font-size="14.5" font-weight="bold" text-anchor="start" fill="#000" stroke="#000" stroke-width="0.3" textLength="87.5" lengthAdjust="spacingAndGlyphs">KO Normoxic</text>
<text x="393.20" y="210.90" font-family="Liberation Serif" font-size="14.2" font-weight="bold" text-anchor="middle" fill="#000" stroke="#000" stroke-width="0.3" textLength="55" lengthAdjust="spacingAndGlyphs">LVV (µL)</text>
<line x1="507.40" y1="41.46" x2="507.40" y2="196.44" stroke="#e2e2e2" stroke-width="1.0" />
<line x1="537.40" y1="41.46" x2="537.40" y2="196.44" stroke="#e2e2e2" stroke-width="1.0" />
<line x1="567.40" y1="41.46" x2="567.40" y2="196.44" stroke="#e2e2e2" stroke-width="1.0" />
<line x1="477.40" y1="196.44" x2="567.40" y2="196.44" stroke="#e2e2e2" stroke-width="1.0" />
<line x1="477.40" y1="152.16" x2="567.40" y2="152.16" stroke="#e2e2e2" stroke-width="1.0" />
<line x1="477.40" y1="130.02" x2="567.40" y2="130.02" stroke="#e2e2e2" stroke-width="1.0" />
<line x1="477.40" y1="107.88" x2="567.40" y2="107.88" stroke="#e2e2e2" stroke-width="1.0" />
<line x1="477.40" y1="85.74" x2="567.40" y2="85.74" stroke="#e2e2e2" stroke-width="1.0" />
<line x1="477.40" y1="63.60" x2="567.40" y2="63.60" stroke="#e2e2e2" stroke-width="1.0" />
<line x1="477.40" y1="41.46" x2="567.40" y2="41.46" stroke="#e2e2e2" stroke-width="1.0" />
<path d="M529.55,172.39 C530.61,169.11 530.05,160.41 530.15,152.48 C530.26,144.55 530.31,132.57 530.15,124.83 C530.00,117.09 529.75,111.01 529.25,106.03 C528.75,101.05 528.09,98.11 527.14,94.97 C526.18,91.84 524.95,88.98 523.52,87.23 C522.09,85.48 520.25,84.83 518.54,84.47 C516.83,84.10 514.85,84.28 513.26,85.02 C511.68,85.76 510.10,86.86 509.04,88.89 C507.99,90.92 507.41,93.04 506.93,97.18 C506.45,101.33 506.18,106.40 506.18,113.77 C506.18,121.15 506.55,133.13 506.93,141.42 C507.31,149.72 507.89,158.19 508.44,163.54 C508.99,168.88 509.57,171.43 510.25,173.49 C510.93,175.56 511.25,175.93 512.51,175.93 C513.77,175.93 515.90,174.12 517.79,173.49 C519.67,172.87 521.86,172.35 523.82,172.17 C525.78,171.98 528.50,175.67 529.55,172.39Z" fill="none" stroke="#5f6b7a" stroke-width="1.1" stroke-linejoin="round"/>
<path d="M530.44,172.57 C531.52,169.26 530.95,160.46 531.06,152.44 C531.16,144.42 531.21,132.31 531.06,124.48 C530.90,116.65 530.65,110.49 530.14,105.46 C529.62,100.43 528.96,97.44 527.99,94.27 C527.02,91.10 525.76,88.21 524.30,86.44 C522.85,84.67 520.98,84.02 519.24,83.65 C517.50,83.27 515.48,83.46 513.87,84.21 C512.26,84.95 510.64,86.07 509.57,88.12 C508.50,90.17 507.91,92.32 507.42,96.51 C506.93,100.71 506.65,105.83 506.65,113.29 C506.65,120.75 507.04,132.86 507.42,141.25 C507.80,149.64 508.39,158.22 508.96,163.63 C509.52,169.03 510.11,171.61 510.80,173.69 C511.49,175.78 511.82,176.14 513.10,176.14 C514.38,176.14 516.55,174.32 518.47,173.69 C520.39,173.06 522.62,172.54 524.61,172.35 C526.61,172.16 529.37,175.89 530.44,172.57Z" fill="none" stroke="#4f5a68" stroke-width="1.1" stroke-linejoin="round"/>
<path d="M529.14,172.88 C530.13,169.59 529.61,160.88 529.70,152.94 C529.80,145.00 529.84,133.00 529.70,125.24 C529.56,117.49 529.33,111.40 528.86,106.41 C528.39,101.43 527.78,98.47 526.89,95.33 C526.00,92.19 524.85,89.33 523.52,87.58 C522.18,85.82 520.47,85.18 518.88,84.81 C517.28,84.44 515.43,84.62 513.96,85.36 C512.48,86.10 511.00,87.21 510.02,89.24 C509.04,91.27 508.50,93.39 508.05,97.55 C507.61,101.70 507.35,106.78 507.35,114.17 C507.35,121.55 507.70,133.55 508.05,141.86 C508.40,150.17 508.94,158.66 509.46,164.02 C509.97,169.37 510.51,171.92 511.14,173.99 C511.78,176.05 512.08,176.42 513.25,176.42 C514.43,176.42 516.42,174.61 518.17,173.99 C519.93,173.36 521.97,172.84 523.80,172.66 C525.63,172.47 528.16,176.16 529.14,172.88Z" fill="none" stroke="#66727f" stroke-width="1.1" stroke-linejoin="round"/>
<path d="M528.84,171.21 C529.79,167.94 529.29,159.29 529.38,151.42 C529.47,143.54 529.52,131.63 529.38,123.93 C529.25,116.23 529.02,110.19 528.57,105.24 C528.12,100.29 527.54,97.36 526.68,94.24 C525.82,91.13 524.72,88.29 523.44,86.55 C522.15,84.81 520.51,84.16 518.98,83.80 C517.45,83.43 515.67,83.61 514.25,84.35 C512.83,85.08 511.41,86.18 510.46,88.20 C509.52,90.21 509.00,92.32 508.57,96.44 C508.14,100.57 507.90,105.60 507.90,112.93 C507.90,120.26 508.23,132.17 508.57,140.42 C508.91,148.67 509.43,157.10 509.92,162.41 C510.42,167.72 510.94,170.25 511.55,172.31 C512.15,174.36 512.45,174.73 513.57,174.73 C514.70,174.73 516.61,172.93 518.30,172.31 C519.99,171.68 521.95,171.17 523.71,170.99 C525.46,170.80 527.90,174.47 528.84,171.21Z" fill="none" stroke="#4f5a68" stroke-width="1.1" stroke-linejoin="round"/>
<path d="M529.68,171.90 C530.76,168.66 530.19,160.06 530.30,152.23 C530.40,144.39 530.45,132.55 530.30,124.90 C530.14,117.25 529.89,111.24 529.38,106.32 C528.86,101.40 528.20,98.49 527.23,95.39 C526.26,92.29 525.01,89.47 523.55,87.74 C522.09,86.01 520.23,85.37 518.49,85.01 C516.75,84.64 514.74,84.83 513.13,85.55 C511.52,86.28 509.91,87.38 508.83,89.38 C507.76,91.38 507.17,93.48 506.69,97.58 C506.20,101.68 505.92,106.69 505.92,113.97 C505.92,121.26 506.30,133.10 506.69,141.30 C507.07,149.49 507.66,157.87 508.22,163.16 C508.78,168.44 509.37,170.95 510.06,172.99 C510.75,175.04 511.08,175.41 512.36,175.41 C513.64,175.41 515.81,173.62 517.72,172.99 C519.64,172.37 521.86,171.86 523.86,171.68 C525.85,171.50 528.61,175.14 529.68,171.90Z" fill="none" stroke="#444e5a" stroke-width="1.1" stroke-linejoin="round"/>
<path d="M530.34,171.39 C531.39,168.10 530.84,159.36 530.94,151.40 C531.04,143.44 531.09,131.41 530.94,123.64 C530.79,115.86 530.54,109.75 530.04,104.76 C529.54,99.76 528.89,96.80 527.93,93.65 C526.98,90.50 525.76,87.63 524.33,85.88 C522.90,84.12 521.07,83.47 519.37,83.10 C517.67,82.73 515.69,82.91 514.11,83.66 C512.53,84.40 510.95,85.51 509.90,87.54 C508.85,89.58 508.27,91.71 507.80,95.87 C507.32,100.04 507.05,105.13 507.05,112.53 C507.05,119.93 507.42,131.97 507.80,140.30 C508.17,148.62 508.75,157.14 509.30,162.51 C509.85,167.88 510.43,170.43 511.10,172.50 C511.78,174.57 512.11,174.94 513.36,174.94 C514.61,174.94 516.74,173.13 518.62,172.50 C520.50,171.87 522.68,171.35 524.63,171.17 C526.58,170.98 529.29,174.69 530.34,171.39Z" fill="none" stroke="#4f5a68" stroke-width="1.1" stroke-linejoin="round"/>
<path d="M529.86,171.79 C531.00,168.47 530.40,159.67 530.51,151.65 C530.62,143.63 530.67,131.51 530.51,123.68 C530.35,115.85 530.08,109.69 529.54,104.66 C528.99,99.62 528.29,96.64 527.26,93.47 C526.23,90.29 524.90,87.40 523.35,85.63 C521.81,83.86 519.83,83.21 517.99,82.84 C516.14,82.46 514.00,82.65 512.29,83.39 C510.58,84.14 508.88,85.26 507.74,87.31 C506.60,89.36 505.97,91.51 505.46,95.70 C504.94,99.90 504.65,105.03 504.65,112.49 C504.65,119.95 505.05,132.07 505.46,140.46 C505.87,148.85 506.49,157.43 507.09,162.84 C507.68,168.25 508.31,170.83 509.04,172.91 C509.77,175.00 510.12,175.36 511.48,175.36 C512.83,175.36 515.14,173.54 517.17,172.91 C519.21,172.28 521.56,171.76 523.68,171.57 C525.79,171.38 528.72,175.11 529.86,171.79Z" fill="none" stroke="#5f6b7a" stroke-width="1.1" stroke-linejoin="round"/>
<path d="M528.84,172.21 C529.91,168.97 529.35,160.39 529.45,152.58 C529.55,144.76 529.60,132.94 529.45,125.31 C529.30,117.67 529.04,111.67 528.53,106.77 C528.02,101.86 527.36,98.95 526.39,95.86 C525.43,92.77 524.18,89.95 522.73,88.22 C521.28,86.50 519.42,85.86 517.69,85.50 C515.95,85.13 513.94,85.31 512.34,86.04 C510.73,86.77 509.13,87.86 508.06,89.86 C506.99,91.86 506.41,93.95 505.92,98.04 C505.44,102.13 505.16,107.13 505.16,114.40 C505.16,121.67 505.54,133.49 505.92,141.67 C506.30,149.85 506.89,158.21 507.45,163.48 C508.01,168.76 508.60,171.26 509.28,173.30 C509.97,175.34 510.30,175.72 511.57,175.72 C512.85,175.72 515.01,173.92 516.92,173.30 C518.83,172.68 521.05,172.17 523.03,171.99 C525.02,171.81 527.77,175.44 528.84,172.21Z" fill="none" stroke="#4f5a68" stroke-width="1.1" stroke-linejoin="round"/>
<path d="M529.05,172.07 C530.28,168.77 529.63,160.01 529.75,152.02 C529.87,144.04 529.93,131.98 529.75,124.18 C529.57,116.38 529.28,110.26 528.70,105.24 C528.11,100.23 527.35,97.26 526.24,94.11 C525.13,90.95 523.70,88.07 522.03,86.31 C520.36,84.55 518.23,83.90 516.24,83.53 C514.25,83.15 511.94,83.34 510.10,84.08 C508.25,84.83 506.41,85.94 505.18,87.98 C503.96,90.02 503.28,92.16 502.73,96.33 C502.17,100.51 501.85,105.62 501.85,113.04 C501.85,120.47 502.29,132.53 502.73,140.89 C503.17,149.24 503.84,157.78 504.48,163.16 C505.13,168.55 505.80,171.11 506.59,173.19 C507.38,175.26 507.76,175.63 509.22,175.63 C510.68,175.63 513.17,173.82 515.36,173.19 C517.55,172.56 520.10,172.04 522.38,171.85 C524.66,171.66 527.82,175.38 529.05,172.07Z" fill="none" stroke="#111" stroke-width="1.0" stroke-linejoin="round"/>
<path d="M531.49,170.33 C532.29,167.35 531.94,160.78 532.09,152.32 C532.24,143.86 532.43,128.68 532.38,119.58 C532.34,110.49 532.24,103.58 531.79,97.76 C531.34,91.94 530.82,88.75 529.71,84.66 C528.60,80.57 527.23,76.11 525.10,73.20 C522.98,70.29 519.66,68.38 516.93,67.20 C514.21,66.02 511.49,66.02 508.76,66.11 C506.04,66.20 503.31,66.65 500.59,67.74 C497.87,68.84 494.65,70.56 492.42,72.66 C490.19,74.75 488.58,77.02 487.22,80.29 C485.86,83.57 484.99,86.66 484.25,92.30 C483.50,97.94 483.01,105.94 482.76,114.13 C482.51,122.31 482.56,133.59 482.76,141.41 C482.96,149.23 483.33,155.96 483.95,161.05 C484.57,166.14 485.44,169.32 486.48,171.97 C487.52,174.61 488.83,176.18 490.19,176.92 C491.55,177.65 492.91,176.91 494.65,176.36 C496.38,175.81 498.36,174.52 500.59,173.60 C502.82,172.69 505.05,171.42 508.02,170.87 C510.99,170.33 515.20,170.44 518.42,170.33 C521.64,170.22 525.15,170.22 527.33,170.22 C529.51,170.22 530.70,173.31 531.49,170.33Z" fill="none" stroke="#1236ff" stroke-width="1.2" stroke-linejoin="round"/>
<path d="M530.51,170.94 C531.28,167.93 530.94,161.30 531.09,152.77 C531.23,144.23 531.43,128.90 531.38,119.72 C531.33,110.54 531.23,103.56 530.80,97.68 C530.37,91.81 529.86,88.60 528.78,84.47 C527.69,80.33 526.37,75.84 524.30,72.90 C522.22,69.96 519.00,68.03 516.35,66.84 C513.70,65.65 511.05,65.65 508.40,65.74 C505.75,65.83 503.10,66.29 500.45,67.39 C497.80,68.49 494.67,70.24 492.50,72.35 C490.33,74.46 488.76,76.75 487.44,80.06 C486.11,83.36 485.27,86.49 484.55,92.18 C483.83,97.87 483.34,105.95 483.10,114.21 C482.86,122.47 482.91,133.86 483.10,141.75 C483.30,149.65 483.66,156.44 484.26,161.58 C484.86,166.72 485.70,169.93 486.72,172.60 C487.73,175.26 489.00,176.83 490.33,177.57 C491.65,178.30 492.98,177.57 494.67,177.01 C496.35,176.46 498.28,175.17 500.45,174.25 C502.61,173.33 504.78,172.05 507.67,171.49 C510.56,170.94 514.66,171.05 517.79,170.94 C520.92,170.83 524.34,170.83 526.46,170.83 C528.58,170.83 529.74,173.95 530.51,170.94Z" fill="none" stroke="#1236ff" stroke-width="1.2" stroke-linejoin="round"/>
<path d="M530.84,170.18 C531.63,167.22 531.29,160.70 531.44,152.30 C531.58,143.90 531.78,128.82 531.73,119.79 C531.68,110.76 531.58,103.90 531.14,98.12 C530.69,92.34 530.17,89.18 529.05,85.12 C527.93,81.05 526.56,76.63 524.42,73.74 C522.29,70.85 518.96,68.95 516.22,67.78 C513.49,66.61 510.75,66.61 508.02,66.70 C505.28,66.79 502.55,67.24 499.81,68.32 C497.08,69.40 493.85,71.12 491.61,73.20 C489.37,75.27 487.76,77.53 486.39,80.78 C485.02,84.03 484.15,87.10 483.41,92.70 C482.66,98.30 482.16,106.25 481.91,114.38 C481.66,122.50 481.71,133.70 481.91,141.47 C482.11,149.23 482.49,155.91 483.11,160.97 C483.73,166.03 484.60,169.18 485.64,171.81 C486.69,174.44 488.00,176.01 489.37,176.74 C490.74,177.47 492.11,176.74 493.85,176.19 C495.59,175.64 497.58,174.34 499.81,173.43 C502.05,172.52 504.29,171.27 507.27,170.72 C510.25,170.18 514.48,170.29 517.71,170.18 C520.94,170.07 524.47,170.07 526.66,170.07 C528.85,170.07 530.04,173.14 530.84,170.18Z" fill="none" stroke="#1236ff" stroke-width="1.2" stroke-linejoin="round"/>
<path d="M530.22,169.41 C531.01,166.36 530.66,159.64 530.81,150.98 C530.96,142.33 531.16,126.79 531.11,117.48 C531.06,108.17 530.96,101.10 530.52,95.14 C530.07,89.19 529.56,85.93 528.45,81.74 C527.35,77.55 526.00,72.99 523.88,70.02 C521.77,67.04 518.48,65.08 515.77,63.87 C513.07,62.66 510.37,62.66 507.67,62.76 C504.96,62.85 502.26,63.32 499.56,64.43 C496.86,65.55 493.66,67.32 491.45,69.46 C489.24,71.60 487.64,73.92 486.29,77.28 C484.94,80.63 484.08,83.79 483.34,89.56 C482.61,95.33 482.11,103.52 481.87,111.90 C481.62,120.27 481.67,131.81 481.87,139.82 C482.07,147.82 482.43,154.71 483.05,159.92 C483.66,165.13 484.52,168.39 485.55,171.09 C486.59,173.78 487.89,175.35 489.24,176.09 C490.59,176.83 491.94,176.09 493.66,175.53 C495.38,174.98 497.35,173.69 499.56,172.76 C501.77,171.83 503.98,170.53 506.93,169.97 C509.88,169.41 514.05,169.52 517.25,169.41 C520.44,169.30 523.93,169.30 526.09,169.30 C528.26,169.30 529.44,172.46 530.22,169.41Z" fill="none" stroke="#1236ff" stroke-width="1.2" stroke-linejoin="round"/>
<path d="M531.83,170.66 C532.66,167.63 532.30,160.97 532.45,152.39 C532.60,143.80 532.81,128.39 532.76,119.17 C532.71,109.94 532.60,102.92 532.14,97.02 C531.68,91.11 531.13,87.88 529.97,83.73 C528.81,79.58 527.40,75.06 525.18,72.10 C522.96,69.15 519.50,67.21 516.67,66.01 C513.83,64.81 510.99,64.81 508.15,64.90 C505.32,65.00 502.48,65.46 499.64,66.57 C496.81,67.67 493.45,69.43 491.13,71.55 C488.81,73.67 487.13,75.98 485.72,79.30 C484.30,82.62 483.39,85.76 482.62,91.48 C481.85,97.20 481.33,105.32 481.07,113.63 C480.82,121.93 480.87,133.38 481.07,141.31 C481.28,149.25 481.67,156.08 482.31,161.25 C482.96,166.41 483.86,169.64 484.94,172.32 C486.03,175.00 487.39,176.56 488.81,177.30 C490.23,178.04 491.65,177.30 493.45,176.75 C495.26,176.19 497.32,174.90 499.64,173.98 C501.96,173.06 504.29,171.77 507.38,171.21 C510.48,170.66 514.86,170.77 518.21,170.66 C521.57,170.55 525.23,170.55 527.50,170.55 C529.77,170.55 531.01,173.69 531.83,170.66Z" fill="none" stroke="#1236ff" stroke-width="1.2" stroke-linejoin="round"/>
<path d="M531.06,171.26 C531.85,168.16 531.50,161.33 531.65,152.53 C531.80,143.73 532.00,127.94 531.95,118.48 C531.90,109.02 531.80,101.83 531.36,95.78 C530.91,89.72 530.39,86.41 529.28,82.16 C528.17,77.90 526.81,73.27 524.69,70.24 C522.56,67.21 519.26,65.23 516.54,64.00 C513.82,62.77 511.11,62.77 508.39,62.86 C505.67,62.96 502.96,63.43 500.24,64.56 C497.52,65.70 494.31,67.50 492.09,69.67 C489.87,71.85 488.26,74.21 486.90,77.62 C485.55,81.02 484.68,84.24 483.94,90.10 C483.20,95.97 482.71,104.29 482.46,112.80 C482.21,121.32 482.26,133.04 482.46,141.18 C482.66,149.31 483.03,156.31 483.64,161.61 C484.26,166.91 485.13,170.23 486.16,172.96 C487.20,175.69 488.51,177.25 489.87,178.00 C491.23,178.75 492.58,178.00 494.31,177.44 C496.04,176.89 498.02,175.60 500.24,174.66 C502.46,173.73 504.68,172.39 507.65,171.83 C510.61,171.26 514.81,171.37 518.02,171.26 C521.23,171.14 524.74,171.14 526.91,171.14 C529.08,171.14 530.27,174.36 531.06,171.26Z" fill="none" stroke="#1236ff" stroke-width="1.2" stroke-linejoin="round"/>
<path d="M531.27,169.72 C532.08,166.71 531.73,160.09 531.88,151.56 C532.03,143.03 532.23,127.72 532.18,118.54 C532.13,109.37 532.03,102.40 531.57,96.53 C531.12,90.66 530.59,87.45 529.45,83.32 C528.31,79.20 526.91,74.70 524.73,71.77 C522.55,68.83 519.16,66.91 516.37,65.71 C513.58,64.52 510.79,64.52 508.01,64.61 C505.22,64.70 502.43,65.16 499.64,66.26 C496.86,67.36 493.56,69.11 491.28,71.22 C489.00,73.33 487.35,75.62 485.96,78.92 C484.56,82.22 483.68,85.34 482.92,91.03 C482.16,96.71 481.65,104.79 481.40,113.04 C481.14,121.29 481.19,132.67 481.40,140.56 C481.60,148.44 481.98,155.23 482.61,160.37 C483.25,165.50 484.13,168.71 485.20,171.37 C486.26,174.04 487.61,175.61 489.00,176.34 C490.39,177.08 491.79,176.34 493.56,175.79 C495.33,175.24 497.36,173.94 499.64,173.02 C501.92,172.11 504.20,170.82 507.25,170.27 C510.29,169.72 514.60,169.83 517.89,169.72 C521.18,169.61 524.78,169.61 527.01,169.61 C529.24,169.61 530.46,172.73 531.27,169.72Z" fill="none" stroke="#1236ff" stroke-width="1.2" stroke-linejoin="round"/>
<path d="M531.84,171.03 C532.67,167.96 532.31,161.20 532.47,152.49 C532.62,143.78 532.83,128.14 532.78,118.77 C532.73,109.40 532.62,102.29 532.16,96.29 C531.69,90.30 531.14,87.02 529.98,82.80 C528.81,78.59 527.38,74.00 525.15,71.00 C522.92,68.01 519.45,66.04 516.59,64.82 C513.74,63.60 510.89,63.60 508.03,63.70 C505.18,63.79 502.33,64.26 499.48,65.38 C496.62,66.51 493.25,68.29 490.92,70.44 C488.58,72.60 486.90,74.94 485.47,78.31 C484.04,81.68 483.14,84.86 482.36,90.67 C481.58,96.48 481.06,104.72 480.80,113.15 C480.54,121.58 480.59,133.19 480.80,141.25 C481.01,149.30 481.40,156.24 482.05,161.48 C482.69,166.73 483.60,170.01 484.69,172.72 C485.78,175.43 487.16,176.99 488.58,177.74 C490.01,178.48 491.44,177.74 493.25,177.18 C495.07,176.63 497.14,175.34 499.48,174.41 C501.81,173.47 504.14,172.16 507.26,171.60 C510.37,171.03 514.78,171.15 518.15,171.03 C521.52,170.92 525.20,170.92 527.49,170.92 C529.77,170.92 531.01,174.11 531.84,171.03Z" fill="none" stroke="#1236ff" stroke-width="1.2" stroke-linejoin="round"/>
<path d="M531.60,172.23 C532.20,169.27 532.02,161.62 532.07,155.07 C532.12,148.52 532.07,138.09 531.91,132.93 C531.76,127.76 531.62,126.47 531.12,124.07 C530.62,121.68 529.96,119.92 528.91,118.54 C527.85,117.16 526.19,116.14 524.79,115.77 C523.39,115.40 521.83,115.68 520.52,116.32 C519.20,116.97 517.80,117.80 516.87,119.65 C515.95,121.49 515.42,123.34 514.97,127.39 C514.53,131.45 514.29,137.91 514.18,144.00 C514.08,150.09 514.21,159.13 514.34,163.92 C514.47,168.72 514.47,170.88 514.97,172.78 C515.48,174.68 516.03,175.10 517.35,175.32 C518.67,175.55 521.04,174.53 522.89,174.11 C524.74,173.68 526.98,173.09 528.43,172.78 C529.88,172.46 530.99,175.18 531.60,172.23Z" fill="none" stroke="#ff2d00" stroke-width="1.2" stroke-linejoin="round"/>
<path d="M531.01,171.85 C531.62,168.89 531.44,161.21 531.49,154.65 C531.54,148.08 531.49,137.62 531.33,132.44 C531.17,127.26 531.04,125.97 530.54,123.56 C530.03,121.16 529.37,119.40 528.31,118.01 C527.24,116.62 525.57,115.60 524.16,115.23 C522.76,114.86 521.19,115.14 519.86,115.79 C518.54,116.44 517.13,117.27 516.20,119.12 C515.27,120.97 514.74,122.82 514.29,126.89 C513.84,130.96 513.60,137.44 513.49,143.54 C513.39,149.65 513.52,158.72 513.65,163.53 C513.78,168.34 513.78,170.50 514.29,172.41 C514.79,174.32 515.35,174.74 516.68,174.96 C518.01,175.18 520.39,174.17 522.25,173.74 C524.11,173.32 526.37,172.72 527.83,172.41 C529.29,172.09 530.40,174.81 531.01,171.85Z" fill="none" stroke="#ff2d00" stroke-width="1.2" stroke-linejoin="round"/>
<path d="M529.75,171.10 C530.25,168.13 530.09,160.44 530.14,153.86 C530.18,147.28 530.14,136.81 530.01,131.62 C529.88,126.43 529.77,125.14 529.35,122.73 C528.94,120.32 528.40,118.56 527.53,117.17 C526.66,115.78 525.28,114.76 524.13,114.39 C522.98,114.02 521.69,114.29 520.61,114.94 C519.52,115.59 518.36,116.43 517.60,118.28 C516.84,120.13 516.40,121.99 516.03,126.06 C515.66,130.14 515.47,136.63 515.38,142.74 C515.29,148.86 515.40,157.94 515.51,162.76 C515.62,167.58 515.62,169.75 516.03,171.66 C516.45,173.56 516.91,173.99 517.99,174.21 C519.08,174.43 521.04,173.42 522.56,172.99 C524.09,172.56 525.94,171.97 527.13,171.66 C528.33,171.34 529.25,174.06 529.75,171.10Z" fill="none" stroke="#ff2d00" stroke-width="1.2" stroke-linejoin="round"/>
<path d="M530.57,171.54 C531.18,168.51 530.99,160.65 531.04,153.93 C531.10,147.21 531.04,136.51 530.88,131.21 C530.73,125.91 530.59,124.58 530.09,122.12 C529.58,119.66 528.92,117.86 527.86,116.44 C526.80,115.02 525.13,113.98 523.73,113.60 C522.32,113.22 520.76,113.50 519.43,114.17 C518.10,114.83 516.70,115.68 515.77,117.57 C514.84,119.47 514.31,121.36 513.86,125.53 C513.41,129.69 513.17,136.32 513.07,142.57 C512.96,148.82 513.09,158.10 513.22,163.02 C513.36,167.94 513.36,170.16 513.86,172.11 C514.37,174.06 514.92,174.49 516.25,174.71 C517.57,174.94 519.96,173.91 521.82,173.47 C523.67,173.04 525.93,172.43 527.38,172.11 C528.84,171.79 529.96,174.57 530.57,171.54Z" fill="none" stroke="#ff2d00" stroke-width="1.2" stroke-linejoin="round"/>
<path d="M530.15,170.93 C530.68,168.10 530.52,160.76 530.57,154.48 C530.61,148.20 530.57,138.20 530.43,133.25 C530.29,128.30 530.17,127.06 529.73,124.76 C529.28,122.46 528.70,120.78 527.77,119.45 C526.83,118.12 525.36,117.15 524.12,116.80 C522.89,116.44 521.51,116.71 520.34,117.33 C519.18,117.95 517.94,118.74 517.12,120.51 C516.31,122.28 515.84,124.05 515.44,127.94 C515.04,131.83 514.83,138.03 514.74,143.87 C514.65,149.70 514.76,158.37 514.88,162.97 C515.00,167.57 515.00,169.64 515.44,171.46 C515.89,173.29 516.38,173.71 517.54,173.92 C518.71,174.13 520.81,173.15 522.44,172.74 C524.08,172.33 526.06,171.76 527.35,171.46 C528.63,171.16 529.61,173.76 530.15,170.93Z" fill="none" stroke="#ff2d00" stroke-width="1.2" stroke-linejoin="round"/>
<line x1="477.40" y1="40.96" x2="477.40" y2="196.94" stroke="#858585" stroke-width="1.4" />
<line x1="473.40" y1="196.44" x2="477.40" y2="196.44" stroke="#000" stroke-width="1.1" />
<text x="467.10" y="200.34" font-family="Liberation Serif" font-size="12" font-weight="bold" text-anchor="end" fill="#000" stroke="#000" stroke-width="0.3" textLength="14.6" lengthAdjust="spacingAndGlyphs">-20</text>
<line x1="473.40" y1="174.30" x2="477.40" y2="174.30" stroke="#000" stroke-width="1.1" />
<text x="467.10" y="178.20" font-family="Liberation Serif" font-size="12" font-weight="bold" text-anchor="end" fill="#000" stroke="#000" stroke-width="0.3" textLength="5.9" lengthAdjust="spacingAndGlyphs">0</text>
<line x1="473.40" y1="152.16" x2="477.40" y2="152.16" stroke="#000" stroke-width="1.1" />
<text x="467.10" y="156.06" font-family="Liberation Serif" font-size="12" font-weight="bold" text-anchor="end" fill="#000" stroke="#000" stroke-width="0.3" textLength="11.3" lengthAdjust="spacingAndGlyphs">20</text>
<line x1="473.40" y1="130.02" x2="477.40" y2="130.02" stroke="#000" stroke-width="1.1" />
<text x="467.10" y="133.92" font-family="Liberation Serif" font-size="12" font-weight="bold" text-anchor="end" fill="#000" stroke="#000" stroke-width="0.3" textLength="11.3" lengthAdjust="spacingAndGlyphs">40</text>
<line x1="473.40" y1="107.88" x2="477.40" y2="107.88" stroke="#000" stroke-width="1.1" />
<text x="467.10" y="111.78" font-family="Liberation Serif" font-size="12" font-weight="bold" text-anchor="end" fill="#000" stroke="#000" stroke-width="0.3" textLength="11.3" lengthAdjust="spacingAndGlyphs">60</text>
<line x1="473.40" y1="85.74" x2="477.40" y2="85.74" stroke="#000" stroke-width="1.1" />
<text x="467.10" y="89.64" font-family="Liberation Serif" font-size="12" font-weight="bold" text-anchor="end" fill="#000" stroke="#000" stroke-width="0.3" textLength="11.3" lengthAdjust="spacingAndGlyphs">80</text>
<line x1="473.40" y1="63.60" x2="477.40" y2="63.60" stroke="#000" stroke-width="1.1" />
<text x="467.10" y="67.50" font-family="Liberation Serif" font-size="12" font-weight="bold" text-anchor="end" fill="#000" stroke="#000" stroke-width="0.3" textLength="16.8" lengthAdjust="spacingAndGlyphs">100</text>
<line x1="473.40" y1="41.46" x2="477.40" y2="41.46" stroke="#000" stroke-width="1.1" />
<text x="467.10" y="45.36" font-family="Liberation Serif" font-size="12" font-weight="bold" text-anchor="end" fill="#000" stroke="#000" stroke-width="0.3" textLength="16.8" lengthAdjust="spacingAndGlyphs">120</text>
<line x1="473.40" y1="174.30" x2="567.90" y2="174.30" stroke="#000" stroke-width="1.3" />
<line x1="477.40" y1="174.30" x2="477.40" y2="178.30" stroke="#000" stroke-width="1.1" />
<text x="477.40" y="192.00" font-family="Liberation Serif" font-size="12" font-weight="bold" text-anchor="middle" fill="#000" stroke="#000" stroke-width="0.3" >0</text>
<line x1="507.40" y1="174.30" x2="507.40" y2="178.30" stroke="#000" stroke-width="1.1" />
<text x="507.40" y="192.00" font-family="Liberation Serif" font-size="12" font-weight="bold" text-anchor="middle" fill="#000" stroke="#000" stroke-width="0.3" >20</text>
<line x1="537.40" y1="174.30" x2="537.40" y2="178.30" stroke="#000" stroke-width="1.1" />
<text x="537.40" y="192.00" font-family="Liberation Serif" font-size="12" font-weight="bold" text-anchor="middle" fill="#000" stroke="#000" stroke-width="0.3" >40</text>
<line x1="567.40" y1="174.30" x2="567.40" y2="178.30" stroke="#000" stroke-width="1.1" />
<text x="567.40" y="192.00" font-family="Liberation Serif" font-size="12" font-weight="bold" text-anchor="middle" fill="#000" stroke="#000" stroke-width="0.3" >60</text>
<text x="477.40" y="37.70" font-family="Liberation Serif" font-size="14.5" font-weight="bold" text-anchor="start" fill="#000" stroke="#000" stroke-width="0.3" textLength="77.5" lengthAdjust="spacingAndGlyphs">KO Hypoxic</text>
<text x="525.65" y="210.90" font-family="Liberation Serif" font-size="14.2" font-weight="bold" text-anchor="middle" fill="#000" stroke="#000" stroke-width="0.3" textLength="55" lengthAdjust="spacingAndGlyphs">LVV (µL)</text>
<text transform="translate(56.20,117.30) rotate(-90)" x="0" y="0" font-family="Liberation Serif" font-size="14.5" font-weight="bold" text-anchor="middle" stroke="#000" stroke-width="0.3" textLength="84" lengthAdjust="spacingAndGlyphs">LVP (mmHg)</text>
<rect x="182.9" y="231.8" width="247.2" height="18.2" fill="#fff" stroke="#10107a" stroke-width="1.5"/>
<circle cx="193" cy="241" r="4" fill="#000"/>
<text x="205.70" y="245.30" font-family="Liberation Serif" font-size="14.5" font-weight="bold" text-anchor="start" fill="#000" stroke="#000" stroke-width="0.3" textLength="39.5" lengthAdjust="spacingAndGlyphs">control</text>
<path d="M271.00,237.25 L275.07,244.65 L266.93,244.65Z" fill="#1236ff"/>
<text x="282.90" y="245.30" font-family="Liberation Serif" font-size="14.5" font-weight="bold" text-anchor="start" fill="#1236ff" stroke="#1236ff" stroke-width="0.3" textLength="53.3" lengthAdjust="spacingAndGlyphs">adrenalin</text>
<path d="M355.8,237.5 L364.2,237.5 L360,245 Z" fill="#ff2d00"/>
<text x="372.30" y="245.30" font-family="Liberation Serif" font-size="14.5" font-weight="bold" text-anchor="start" fill="#ff2d00" stroke="#ff2d00" stroke-width="0.3" textLength="51.5" lengthAdjust="spacingAndGlyphs">diltiazem</text>
<text x="1.40" y="289.70" font-family="Liberation Serif" font-size="16" font-weight="bold" text-anchor="start" fill="#000" stroke="#000" stroke-width="0.3" >b.</text>
<text x="316.00" y="289.70" font-family="Liberation Serif" font-size="16" font-weight="bold" text-anchor="start" fill="#000" stroke="#000" stroke-width="0.3" >c.</text>
<line x1="40.20" y1="467.20" x2="40.20" y2="311.00" stroke="#262626" stroke-width="1.3" />
<line x1="35.40" y1="466.60" x2="40.20" y2="466.60" stroke="#262626" stroke-width="1.2" />
<text x="33.00" y="471.69" font-family="Liberation Serif" font-size="14" font-weight="bold" text-anchor="end" fill="#000" stroke="#000" stroke-width="0.3" textLength="6.7" lengthAdjust="spacingAndGlyphs">0</text>
<line x1="35.40" y1="435.60" x2="40.20" y2="435.60" stroke="#262626" stroke-width="1.2" />
<text x="33.00" y="440.69" font-family="Liberation Serif" font-size="14" font-weight="bold" text-anchor="end" fill="#000" stroke="#000" stroke-width="0.3" textLength="13.0" lengthAdjust="spacingAndGlyphs">20</text>
<line x1="35.40" y1="404.60" x2="40.20" y2="404.60" stroke="#262626" stroke-width="1.2" />
<text x="33.00" y="409.69" font-family="Liberation Serif" font-size="14" font-weight="bold" text-anchor="end" fill="#000" stroke="#000" stroke-width="0.3" textLength="13.0" lengthAdjust="spacingAndGlyphs">40</text>
<line x1="35.40" y1="373.60" x2="40.20" y2="373.60" stroke="#262626" stroke-width="1.2" />
<text x="33.00" y="378.69" font-family="Liberation Serif" font-size="14" font-weight="bold" text-anchor="end" fill="#000" stroke="#000" stroke-width="0.3" textLength="13.0" lengthAdjust="spacingAndGlyphs">60</text>
<line x1="35.40" y1="342.60" x2="40.20" y2="342.60" stroke="#262626" stroke-width="1.2" />
<text x="33.00" y="347.69" font-family="Liberation Serif" font-size="14" font-weight="bold" text-anchor="end" fill="#000" stroke="#000" stroke-width="0.3" textLength="13.0" lengthAdjust="spacingAndGlyphs">80</text>
<line x1="35.40" y1="311.60" x2="40.20" y2="311.60" stroke="#262626" stroke-width="1.2" />
<text x="33.00" y="316.69" font-family="Liberation Serif" font-size="14" font-weight="bold" text-anchor="end" fill="#000" stroke="#000" stroke-width="0.3" textLength="19.3" lengthAdjust="spacingAndGlyphs">100</text>
<rect x="45.50" y="394.37" width="7.8" height="72.23" fill="#fff"/>
<path d="M45.50,466.60 V394.37 H53.30 V466.60" fill="none" stroke="#000" stroke-width="1.8"/>
<rect x="59.52" y="344.15" width="7.8" height="122.45" fill="#fff"/>
<path d="M59.52,466.60 V344.15 H67.32 V466.60" fill="none" stroke="#1236ff" stroke-width="1.8"/>
<rect x="73.54" y="415.45" width="7.8" height="51.15" fill="#fff"/>
<path d="M73.54,466.60 V415.45 H81.34 V466.60" fill="none" stroke="#ff2d00" stroke-width="1.8"/>
<rect x="101.58" y="350.35" width="7.8" height="116.25" fill="#fff"/>
<path d="M101.58,466.60 V350.35 H109.38 V466.60" fill="none" stroke="#000" stroke-width="1.8"/>
<rect x="115.60" y="328.65" width="7.8" height="137.95" fill="#fff"/>
<path d="M115.60,466.60 V328.65 H123.40 V466.60" fill="none" stroke="#1236ff" stroke-width="1.8"/>
<rect x="129.62" y="390.65" width="7.8" height="75.95" fill="#fff"/>
<path d="M129.62,466.60 V390.65 H137.42 V466.60" fill="none" stroke="#ff2d00" stroke-width="1.8"/>
<line x1="39.60" y1="466.60" x2="143.70" y2="466.60" stroke="#262626" stroke-width="1.4" />
<line x1="49.40" y1="466.60" x2="49.40" y2="471.60" stroke="#262626" stroke-width="1.2" />
<line x1="63.42" y1="466.60" x2="63.42" y2="471.60" stroke="#262626" stroke-width="1.2" />
<line x1="77.44" y1="466.60" x2="77.44" y2="471.60" stroke="#262626" stroke-width="1.2" />
<line x1="91.46" y1="466.60" x2="91.46" y2="471.60" stroke="#262626" stroke-width="1.2" />
<line x1="105.48" y1="466.60" x2="105.48" y2="471.60" stroke="#262626" stroke-width="1.2" />
<line x1="119.50" y1="466.60" x2="119.50" y2="471.60" stroke="#262626" stroke-width="1.2" />
<line x1="133.52" y1="466.60" x2="133.52" y2="471.60" stroke="#262626" stroke-width="1.2" />
<line x1="49.40" y1="394.37" x2="49.40" y2="391.27" stroke="#000" stroke-width="1.6" />
<line x1="46.40" y1="391.27" x2="52.40" y2="391.27" stroke="#000" stroke-width="1.6" />
<circle cx="49.40" cy="382.90" r="2.3" fill="#000"/>
<circle cx="49.40" cy="392.20" r="2.3" fill="#000"/>
<circle cx="48.40" cy="393.75" r="2.3" fill="#000"/>
<circle cx="50.90" cy="395.30" r="2.3" fill="#000"/>
<circle cx="46.20" cy="398.40" r="2.3" fill="#000"/>
<circle cx="51.80" cy="401.50" r="2.3" fill="#000"/>
<line x1="63.42" y1="344.15" x2="63.42" y2="341.83" stroke="#1236ff" stroke-width="1.6" />
<line x1="60.42" y1="341.83" x2="66.42" y2="341.83" stroke="#1236ff" stroke-width="1.6" />
<path d="M63.42,333.75 L65.95,338.35 L60.89,338.35Z" fill="#1236ff"/>
<path d="M65.62,336.86 L68.15,341.45 L63.09,341.45Z" fill="#1236ff"/>
<path d="M61.02,339.96 L63.55,344.56 L58.49,344.56Z" fill="#1236ff"/>
<path d="M65.82,341.51 L68.35,346.11 L63.29,346.11Z" fill="#1236ff"/>
<path d="M61.02,344.61 L63.55,349.20 L58.49,349.20Z" fill="#1236ff"/>
<path d="M65.82,347.71 L68.35,352.31 L63.29,352.31Z" fill="#1236ff"/>
<line x1="77.44" y1="415.45" x2="77.44" y2="413.90" stroke="#ff2d00" stroke-width="1.6" />
<line x1="74.44" y1="413.90" x2="80.44" y2="413.90" stroke="#ff2d00" stroke-width="1.6" />
<path d="M77.44,404.40 L79.74,406.93 L77.44,409.45 L75.14,406.93Z" fill="#ff2d00"/>
<path d="M77.44,411.37 L79.74,413.90 L77.44,416.43 L75.14,413.90Z" fill="#ff2d00"/>
<path d="M76.44,412.92 L78.74,415.45 L76.44,417.98 L74.14,415.45Z" fill="#ff2d00"/>
<path d="M78.94,413.70 L81.24,416.23 L78.94,418.75 L76.64,416.23Z" fill="#ff2d00"/>
<path d="M74.94,414.47 L77.24,417.00 L74.94,419.53 L72.64,417.00Z" fill="#ff2d00"/>
<path d="M77.94,415.25 L80.24,417.78 L77.94,420.31 L75.64,417.78Z" fill="#ff2d00"/>
<line x1="105.48" y1="350.35" x2="105.48" y2="348.80" stroke="#000" stroke-width="1.6" />
<line x1="102.48" y1="348.80" x2="108.48" y2="348.80" stroke="#000" stroke-width="1.6" />
<circle cx="105.48" cy="344.15" r="2.3" fill="#000"/>
<circle cx="105.48" cy="348.80" r="2.3" fill="#000"/>
<circle cx="104.48" cy="350.35" r="2.3" fill="#000"/>
<circle cx="106.98" cy="351.12" r="2.3" fill="#000"/>
<circle cx="102.98" cy="351.90" r="2.3" fill="#000"/>
<circle cx="105.98" cy="352.68" r="2.3" fill="#000"/>
<line x1="119.50" y1="328.65" x2="119.50" y2="328.03" stroke="#1236ff" stroke-width="1.6" />
<line x1="116.50" y1="328.03" x2="122.50" y2="328.03" stroke="#1236ff" stroke-width="1.6" />
<path d="M119.50,324.46 L122.03,329.06 L116.97,329.06Z" fill="#1236ff"/>
<path d="M121.70,325.23 L124.23,329.83 L119.17,329.83Z" fill="#1236ff"/>
<path d="M118.50,326.00 L121.03,330.60 L115.97,330.60Z" fill="#1236ff"/>
<path d="M121.00,326.78 L123.53,331.38 L118.47,331.38Z" fill="#1236ff"/>
<path d="M117.00,327.56 L119.53,332.16 L114.47,332.16Z" fill="#1236ff"/>
<path d="M120.00,328.33 L122.53,332.93 L117.47,332.93Z" fill="#1236ff"/>
<line x1="133.52" y1="390.65" x2="133.52" y2="390.19" stroke="#ff2d00" stroke-width="1.6" />
<line x1="130.52" y1="390.19" x2="136.52" y2="390.19" stroke="#ff2d00" stroke-width="1.6" />
<path d="M133.52,386.57 L135.82,389.10 L133.52,391.63 L131.22,389.10Z" fill="#ff2d00"/>
<path d="M135.72,387.35 L138.02,389.88 L135.72,392.40 L133.42,389.88Z" fill="#ff2d00"/>
<path d="M132.52,388.12 L134.82,390.65 L132.52,393.18 L130.22,390.65Z" fill="#ff2d00"/>
<path d="M135.02,388.90 L137.32,391.43 L135.02,393.95 L132.72,391.43Z" fill="#ff2d00"/>
<path d="M131.02,389.67 L133.32,392.20 L131.02,394.73 L128.72,392.20Z" fill="#ff2d00"/>
<path d="M134.02,389.36 L136.32,391.89 L134.02,394.42 L131.72,391.89Z" fill="#ff2d00"/>
<path d="M43.30,305.30 V301.00 H81.80 V305.30" fill="none" stroke="#000" stroke-width="1.5"/>
<text x="63.85" y="304.23" font-family="Liberation Sans" font-size="17" font-weight="normal" text-anchor="middle" fill="#111" textLength="28.8" lengthAdjust="spacing">****</text>
<path d="M62.60,319.30 V315.00 H82.70 V319.30" fill="none" stroke="#000" stroke-width="1.5"/>
<text x="73.95" y="318.23" font-family="Liberation Sans" font-size="17" font-weight="normal" text-anchor="middle" fill="#111" textLength="28.8" lengthAdjust="spacing">****</text>
<path d="M43.30,334.60 V330.30 H64.30 V334.60" fill="none" stroke="#000" stroke-width="1.5"/>
<text x="55.10" y="333.53" font-family="Liberation Sans" font-size="17" font-weight="normal" text-anchor="middle" fill="#111" textLength="28.8" lengthAdjust="spacing">****</text>
<path d="M97.60,279.70 V275.40 H135.90 V279.70" fill="none" stroke="#000" stroke-width="1.5"/>
<text x="118.05" y="278.63" font-family="Liberation Sans" font-size="17" font-weight="normal" text-anchor="middle" fill="#111" textLength="28.8" lengthAdjust="spacing">****</text>
<path d="M116.30,293.80 V289.50 H137.30 V293.80" fill="none" stroke="#000" stroke-width="1.5"/>
<text x="128.10" y="292.73" font-family="Liberation Sans" font-size="17" font-weight="normal" text-anchor="middle" fill="#111" textLength="28.8" lengthAdjust="spacing">****</text>
<path d="M97.60,309.50 V305.20 H118.00 V309.50" fill="none" stroke="#000" stroke-width="1.5"/>
<text x="109.10" y="308.43" font-family="Liberation Sans" font-size="17" font-weight="normal" text-anchor="middle" fill="#111" textLength="28.8" lengthAdjust="spacing">****</text>
<text x="105.80" y="322.90" font-family="Liberation Sans" font-size="16.30" font-weight="bold" text-anchor="start" fill="#1a1a1a" stroke="#1a1a1a" stroke-width="0.25" textLength="29.2" lengthAdjust="spacingAndGlyphs">####</text>
<text x="83.10" y="340.80" font-family="Liberation Sans" font-size="14.54" font-weight="bold" text-anchor="start" fill="#1a1a1a" stroke="#1a1a1a" stroke-width="0.25" textLength="29.8" lengthAdjust="spacingAndGlyphs">####</text>
<text x="116.60" y="382.20" font-family="Liberation Sans" font-size="15.12" font-weight="bold" text-anchor="start" fill="#1a1a1a" stroke="#1a1a1a" stroke-width="0.25" textLength="29.3" lengthAdjust="spacingAndGlyphs">####</text>
<line x1="179.60" y1="467.20" x2="179.60" y2="311.00" stroke="#262626" stroke-width="1.3" />
<line x1="174.80" y1="466.60" x2="179.60" y2="466.60" stroke="#262626" stroke-width="1.2" />
<text x="172.40" y="471.69" font-family="Liberation Serif" font-size="14" font-weight="bold" text-anchor="end" fill="#000" stroke="#000" stroke-width="0.3" textLength="6.7" lengthAdjust="spacingAndGlyphs">0</text>
<line x1="174.80" y1="435.60" x2="179.60" y2="435.60" stroke="#262626" stroke-width="1.2" />
<text x="172.40" y="440.69" font-family="Liberation Serif" font-size="14" font-weight="bold" text-anchor="end" fill="#000" stroke="#000" stroke-width="0.3" textLength="13.0" lengthAdjust="spacingAndGlyphs">20</text>
<line x1="174.80" y1="404.60" x2="179.60" y2="404.60" stroke="#262626" stroke-width="1.2" />
<text x="172.40" y="409.69" font-family="Liberation Serif" font-size="14" font-weight="bold" text-anchor="end" fill="#000" stroke="#000" stroke-width="0.3" textLength="13.0" lengthAdjust="spacingAndGlyphs">40</text>
<line x1="174.80" y1="373.60" x2="179.60" y2="373.60" stroke="#262626" stroke-width="1.2" />
<text x="172.40" y="378.69" font-family="Liberation Serif" font-size="14" font-weight="bold" text-anchor="end" fill="#000" stroke="#000" stroke-width="0.3" textLength="13.0" lengthAdjust="spacingAndGlyphs">60</text>
<line x1="174.80" y1="342.60" x2="179.60" y2="342.60" stroke="#262626" stroke-width="1.2" />
<text x="172.40" y="347.69" font-family="Liberation Serif" font-size="14" font-weight="bold" text-anchor="end" fill="#000" stroke="#000" stroke-width="0.3" textLength="13.0" lengthAdjust="spacingAndGlyphs">80</text>
<line x1="174.80" y1="311.60" x2="179.60" y2="311.60" stroke="#262626" stroke-width="1.2" />
<text x="172.40" y="316.69" font-family="Liberation Serif" font-size="14" font-weight="bold" text-anchor="end" fill="#000" stroke="#000" stroke-width="0.3" textLength="19.3" lengthAdjust="spacingAndGlyphs">100</text>
<rect x="184.90" y="397.62" width="7.8" height="68.98" fill="#fff"/>
<path d="M184.90,466.60 V397.62 H192.70 V466.60" fill="none" stroke="#000" stroke-width="1.8"/>
<rect x="198.92" y="347.25" width="7.8" height="119.35" fill="#fff"/>
<path d="M198.92,466.60 V347.25 H206.72 V466.60" fill="none" stroke="#1236ff" stroke-width="1.8"/>
<rect x="212.94" y="410.03" width="7.8" height="56.57" fill="#fff"/>
<path d="M212.94,466.60 V410.03 H220.74 V466.60" fill="none" stroke="#ff2d00" stroke-width="1.8"/>
<rect x="240.98" y="351.28" width="7.8" height="115.32" fill="#fff"/>
<path d="M240.98,466.60 V351.28 H248.78 V466.60" fill="none" stroke="#000" stroke-width="1.8"/>
<rect x="255.00" y="328.65" width="7.8" height="137.95" fill="#fff"/>
<path d="M255.00,466.60 V328.65 H262.80 V466.60" fill="none" stroke="#1236ff" stroke-width="1.8"/>
<rect x="269.02" y="391.89" width="7.8" height="74.71" fill="#fff"/>
<path d="M269.02,466.60 V391.89 H276.82 V466.60" fill="none" stroke="#ff2d00" stroke-width="1.8"/>
<line x1="179.00" y1="466.60" x2="283.10" y2="466.60" stroke="#262626" stroke-width="1.4" />
<line x1="188.80" y1="466.60" x2="188.80" y2="471.60" stroke="#262626" stroke-width="1.2" />
<line x1="202.82" y1="466.60" x2="202.82" y2="471.60" stroke="#262626" stroke-width="1.2" />
<line x1="216.84" y1="466.60" x2="216.84" y2="471.60" stroke="#262626" stroke-width="1.2" />
<line x1="230.86" y1="466.60" x2="230.86" y2="471.60" stroke="#262626" stroke-width="1.2" />
<line x1="244.88" y1="466.60" x2="244.88" y2="471.60" stroke="#262626" stroke-width="1.2" />
<line x1="258.90" y1="466.60" x2="258.90" y2="471.60" stroke="#262626" stroke-width="1.2" />
<line x1="272.92" y1="466.60" x2="272.92" y2="471.60" stroke="#262626" stroke-width="1.2" />
<line x1="188.80" y1="397.62" x2="188.80" y2="396.70" stroke="#000" stroke-width="1.6" />
<line x1="185.80" y1="396.70" x2="191.80" y2="396.70" stroke="#000" stroke-width="1.6" />
<circle cx="188.80" cy="394.53" r="2.3" fill="#000"/>
<circle cx="191.00" cy="396.08" r="2.3" fill="#000"/>
<circle cx="187.80" cy="396.85" r="2.3" fill="#000"/>
<circle cx="190.30" cy="397.62" r="2.3" fill="#000"/>
<circle cx="186.30" cy="398.40" r="2.3" fill="#000"/>
<circle cx="189.30" cy="399.18" r="2.3" fill="#000"/>
<line x1="202.82" y1="347.25" x2="202.82" y2="345.70" stroke="#1236ff" stroke-width="1.6" />
<line x1="199.82" y1="345.70" x2="205.82" y2="345.70" stroke="#1236ff" stroke-width="1.6" />
<path d="M202.82,339.96 L205.35,344.56 L200.29,344.56Z" fill="#1236ff"/>
<path d="M205.02,341.51 L207.55,346.11 L202.49,346.11Z" fill="#1236ff"/>
<path d="M201.82,343.06 L204.35,347.66 L199.29,347.66Z" fill="#1236ff"/>
<path d="M204.32,344.61 L206.85,349.20 L201.79,349.20Z" fill="#1236ff"/>
<path d="M200.32,346.16 L202.85,350.75 L197.79,350.75Z" fill="#1236ff"/>
<path d="M205.22,349.26 L207.75,353.86 L202.69,353.86Z" fill="#1236ff"/>
<line x1="216.84" y1="410.03" x2="216.84" y2="409.41" stroke="#ff2d00" stroke-width="1.6" />
<line x1="213.84" y1="409.41" x2="219.84" y2="409.41" stroke="#ff2d00" stroke-width="1.6" />
<path d="M216.84,405.17 L219.14,407.70 L216.84,410.23 L214.54,407.70Z" fill="#ff2d00"/>
<path d="M219.04,405.95 L221.34,408.48 L219.04,411.00 L216.74,408.48Z" fill="#ff2d00"/>
<path d="M215.84,406.72 L218.14,409.25 L215.84,411.78 L213.54,409.25Z" fill="#ff2d00"/>
<path d="M218.34,407.50 L220.64,410.03 L218.34,412.56 L216.04,410.03Z" fill="#ff2d00"/>
<path d="M214.34,408.27 L216.64,410.80 L214.34,413.33 L212.04,410.80Z" fill="#ff2d00"/>
<path d="M217.34,408.27 L219.64,410.80 L217.34,413.33 L215.04,410.80Z" fill="#ff2d00"/>
<line x1="244.88" y1="351.28" x2="244.88" y2="349.73" stroke="#000" stroke-width="1.6" />
<line x1="241.88" y1="349.73" x2="247.88" y2="349.73" stroke="#000" stroke-width="1.6" />
<circle cx="244.88" cy="345.70" r="2.3" fill="#000"/>
<circle cx="247.08" cy="348.03" r="2.3" fill="#000"/>
<circle cx="242.48" cy="350.35" r="2.3" fill="#000"/>
<circle cx="246.38" cy="351.90" r="2.3" fill="#000"/>
<circle cx="242.38" cy="353.45" r="2.3" fill="#000"/>
<circle cx="245.38" cy="355.00" r="2.3" fill="#000"/>
<line x1="258.90" y1="328.65" x2="258.90" y2="327.88" stroke="#1236ff" stroke-width="1.6" />
<line x1="255.90" y1="327.88" x2="261.90" y2="327.88" stroke="#1236ff" stroke-width="1.6" />
<path d="M258.90,324.46 L261.43,329.06 L256.37,329.06Z" fill="#1236ff"/>
<path d="M261.10,325.23 L263.63,329.83 L258.57,329.83Z" fill="#1236ff"/>
<path d="M257.90,326.00 L260.43,330.60 L255.37,330.60Z" fill="#1236ff"/>
<path d="M260.40,326.78 L262.93,331.38 L257.87,331.38Z" fill="#1236ff"/>
<path d="M256.40,327.56 L258.93,332.16 L253.87,332.16Z" fill="#1236ff"/>
<path d="M259.40,329.11 L261.93,333.70 L256.87,333.70Z" fill="#1236ff"/>
<line x1="272.92" y1="391.89" x2="272.92" y2="391.43" stroke="#ff2d00" stroke-width="1.6" />
<line x1="269.92" y1="391.43" x2="275.92" y2="391.43" stroke="#ff2d00" stroke-width="1.6" />
<path d="M272.92,388.12 L275.22,390.65 L272.92,393.18 L270.62,390.65Z" fill="#ff2d00"/>
<path d="M275.12,388.90 L277.42,391.43 L275.12,393.95 L272.82,391.43Z" fill="#ff2d00"/>
<path d="M271.92,389.21 L274.22,391.74 L271.92,394.26 L269.62,391.74Z" fill="#ff2d00"/>
<path d="M274.42,389.67 L276.72,392.20 L274.42,394.73 L272.12,392.20Z" fill="#ff2d00"/>
<path d="M270.42,389.98 L272.72,392.51 L270.42,395.04 L268.12,392.51Z" fill="#ff2d00"/>
<path d="M273.42,390.45 L275.72,392.98 L273.42,395.50 L271.12,392.98Z" fill="#ff2d00"/>
<path d="M182.80,308.40 V304.10 H221.40 V308.40" fill="none" stroke="#000" stroke-width="1.5"/>
<text x="203.40" y="307.33" font-family="Liberation Sans" font-size="17" font-weight="normal" text-anchor="middle" fill="#111" textLength="28.8" lengthAdjust="spacing">****</text>
<path d="M201.70,322.30 V318.00 H222.40 V322.30" fill="none" stroke="#000" stroke-width="1.5"/>
<text x="213.35" y="321.23" font-family="Liberation Sans" font-size="17" font-weight="normal" text-anchor="middle" fill="#111" textLength="28.8" lengthAdjust="spacing">****</text>
<path d="M182.80,338.10 V333.80 H203.00 V338.10" fill="none" stroke="#000" stroke-width="1.5"/>
<text x="194.20" y="337.03" font-family="Liberation Sans" font-size="17" font-weight="normal" text-anchor="middle" fill="#111" textLength="28.8" lengthAdjust="spacing">****</text>
<path d="M237.00,282.50 V278.20 H276.00 V282.50" fill="none" stroke="#000" stroke-width="1.5"/>
<text x="257.80" y="281.43" font-family="Liberation Sans" font-size="17" font-weight="normal" text-anchor="middle" fill="#111" textLength="28.8" lengthAdjust="spacing">****</text>
<path d="M255.90,297.10 V292.80 H276.00 V297.10" fill="none" stroke="#000" stroke-width="1.5"/>
<text x="267.25" y="296.03" font-family="Liberation Sans" font-size="17" font-weight="normal" text-anchor="middle" fill="#111" textLength="28.8" lengthAdjust="spacing">****</text>
<path d="M237.00,312.20 V307.90 H257.10 V312.20" fill="none" stroke="#000" stroke-width="1.5"/>
<text x="248.35" y="311.13" font-family="Liberation Sans" font-size="17" font-weight="normal" text-anchor="middle" fill="#111" textLength="28.8" lengthAdjust="spacing">****</text>
<text x="245.30" y="326.20" font-family="Liberation Sans" font-size="15.42" font-weight="bold" text-anchor="start" fill="#1a1a1a" stroke="#1a1a1a" stroke-width="0.25" textLength="29.5" lengthAdjust="spacingAndGlyphs">####</text>
<text x="226.90" y="342.90" font-family="Liberation Sans" font-size="15.12" font-weight="bold" text-anchor="start" fill="#1a1a1a" stroke="#1a1a1a" stroke-width="0.25" textLength="28.5" lengthAdjust="spacingAndGlyphs">####</text>
<text x="257.10" y="385.70" font-family="Liberation Sans" font-size="15.86" font-weight="bold" text-anchor="start" fill="#1a1a1a" stroke="#1a1a1a" stroke-width="0.25" textLength="29.5" lengthAdjust="spacingAndGlyphs">####</text>
<text transform="translate(10.50,374.00) rotate(-90)" x="0" y="0" font-family="Liberation Serif" font-size="14.5" font-weight="bold" text-anchor="middle" stroke="#000" stroke-width="0.3" textLength="117" lengthAdjust="spacingAndGlyphs">LV P max (mmHg)</text>
<line x1="40.20" y1="669.50" x2="40.20" y2="513.74" stroke="#262626" stroke-width="1.3" />
<line x1="35.40" y1="668.90" x2="40.20" y2="668.90" stroke="#262626" stroke-width="1.2" />
<text x="33.00" y="673.99" font-family="Liberation Serif" font-size="14" font-weight="bold" text-anchor="end" fill="#000" stroke="#000" stroke-width="0.3" textLength="6.7" lengthAdjust="spacingAndGlyphs">0</text>
<line x1="35.40" y1="630.26" x2="40.20" y2="630.26" stroke="#262626" stroke-width="1.2" />
<text x="33.00" y="635.35" font-family="Liberation Serif" font-size="14" font-weight="bold" text-anchor="end" fill="#000" stroke="#000" stroke-width="0.3" textLength="13.0" lengthAdjust="spacingAndGlyphs">20</text>
<line x1="35.40" y1="591.62" x2="40.20" y2="591.62" stroke="#262626" stroke-width="1.2" />
<text x="33.00" y="596.71" font-family="Liberation Serif" font-size="14" font-weight="bold" text-anchor="end" fill="#000" stroke="#000" stroke-width="0.3" textLength="13.0" lengthAdjust="spacingAndGlyphs">40</text>
<line x1="35.40" y1="552.98" x2="40.20" y2="552.98" stroke="#262626" stroke-width="1.2" />
<text x="33.00" y="558.07" font-family="Liberation Serif" font-size="14" font-weight="bold" text-anchor="end" fill="#000" stroke="#000" stroke-width="0.3" textLength="13.0" lengthAdjust="spacingAndGlyphs">60</text>
<line x1="35.40" y1="514.34" x2="40.20" y2="514.34" stroke="#262626" stroke-width="1.2" />
<text x="33.00" y="519.42" font-family="Liberation Serif" font-size="14" font-weight="bold" text-anchor="end" fill="#000" stroke="#000" stroke-width="0.3" textLength="13.0" lengthAdjust="spacingAndGlyphs">80</text>
<rect x="45.50" y="600.31" width="7.8" height="68.59" fill="#fff"/>
<path d="M45.50,668.90 V600.31 H53.30 V668.90" fill="none" stroke="#000" stroke-width="1.8"/>
<rect x="59.52" y="552.98" width="7.8" height="115.92" fill="#fff"/>
<path d="M59.52,668.90 V552.98 H67.32 V668.90" fill="none" stroke="#1236ff" stroke-width="1.8"/>
<rect x="73.54" y="621.37" width="7.8" height="47.53" fill="#fff"/>
<path d="M73.54,668.90 V621.37 H81.34 V668.90" fill="none" stroke="#ff2d00" stroke-width="1.8"/>
<rect x="101.58" y="560.71" width="7.8" height="108.19" fill="#fff"/>
<path d="M101.58,668.90 V560.71 H109.38 V668.90" fill="none" stroke="#000" stroke-width="1.8"/>
<rect x="115.60" y="540.42" width="7.8" height="128.48" fill="#fff"/>
<path d="M115.60,668.90 V540.42 H123.40 V668.90" fill="none" stroke="#1236ff" stroke-width="1.8"/>
<rect x="129.62" y="598.19" width="7.8" height="70.71" fill="#fff"/>
<path d="M129.62,668.90 V598.19 H137.42 V668.90" fill="none" stroke="#ff2d00" stroke-width="1.8"/>
<line x1="39.60" y1="668.90" x2="143.70" y2="668.90" stroke="#262626" stroke-width="1.4" />
<line x1="49.40" y1="668.90" x2="49.40" y2="673.90" stroke="#262626" stroke-width="1.2" />
<line x1="63.42" y1="668.90" x2="63.42" y2="673.90" stroke="#262626" stroke-width="1.2" />
<line x1="77.44" y1="668.90" x2="77.44" y2="673.90" stroke="#262626" stroke-width="1.2" />
<line x1="91.46" y1="668.90" x2="91.46" y2="673.90" stroke="#262626" stroke-width="1.2" />
<line x1="105.48" y1="668.90" x2="105.48" y2="673.90" stroke="#262626" stroke-width="1.2" />
<line x1="119.50" y1="668.90" x2="119.50" y2="673.90" stroke="#262626" stroke-width="1.2" />
<line x1="133.52" y1="668.90" x2="133.52" y2="673.90" stroke="#262626" stroke-width="1.2" />
<line x1="49.40" y1="600.31" x2="49.40" y2="597.42" stroke="#000" stroke-width="1.6" />
<line x1="46.40" y1="597.42" x2="52.40" y2="597.42" stroke="#000" stroke-width="1.6" />
<circle cx="49.40" cy="591.62" r="2.3" fill="#000"/>
<circle cx="49.40" cy="597.42" r="2.3" fill="#000"/>
<circle cx="48.40" cy="599.35" r="2.3" fill="#000"/>
<circle cx="50.90" cy="601.28" r="2.3" fill="#000"/>
<circle cx="46.90" cy="603.21" r="2.3" fill="#000"/>
<circle cx="51.80" cy="607.08" r="2.3" fill="#000"/>
<line x1="63.42" y1="552.98" x2="63.42" y2="550.66" stroke="#1236ff" stroke-width="1.6" />
<line x1="60.42" y1="550.66" x2="66.42" y2="550.66" stroke="#1236ff" stroke-width="1.6" />
<path d="M63.42,542.61 L65.95,547.21 L60.89,547.21Z" fill="#1236ff"/>
<path d="M65.62,546.47 L68.15,551.07 L63.09,551.07Z" fill="#1236ff"/>
<path d="M61.02,548.40 L63.55,553.00 L58.49,553.00Z" fill="#1236ff"/>
<path d="M65.82,552.27 L68.35,556.87 L63.29,556.87Z" fill="#1236ff"/>
<path d="M61.02,554.20 L63.55,558.80 L58.49,558.80Z" fill="#1236ff"/>
<path d="M63.92,556.13 L66.45,560.73 L61.39,560.73Z" fill="#1236ff"/>
<line x1="77.44" y1="621.37" x2="77.44" y2="619.83" stroke="#ff2d00" stroke-width="1.6" />
<line x1="74.44" y1="619.83" x2="80.44" y2="619.83" stroke="#ff2d00" stroke-width="1.6" />
<path d="M77.44,610.34 L79.74,612.87 L77.44,615.40 L75.14,612.87Z" fill="#ff2d00"/>
<path d="M77.44,616.14 L79.74,618.67 L77.44,621.20 L75.14,618.67Z" fill="#ff2d00"/>
<path d="M76.44,618.07 L78.74,620.60 L76.44,623.13 L74.14,620.60Z" fill="#ff2d00"/>
<path d="M78.94,619.04 L81.24,621.57 L78.94,624.10 L76.64,621.57Z" fill="#ff2d00"/>
<path d="M74.94,620.00 L77.24,622.53 L74.94,625.06 L72.64,622.53Z" fill="#ff2d00"/>
<path d="M77.94,620.97 L80.24,623.50 L77.94,626.03 L75.64,623.50Z" fill="#ff2d00"/>
<line x1="105.48" y1="560.71" x2="105.48" y2="559.36" stroke="#000" stroke-width="1.6" />
<line x1="102.48" y1="559.36" x2="108.48" y2="559.36" stroke="#000" stroke-width="1.6" />
<circle cx="105.48" cy="553.95" r="2.3" fill="#000"/>
<circle cx="105.48" cy="558.78" r="2.3" fill="#000"/>
<circle cx="104.48" cy="559.74" r="2.3" fill="#000"/>
<circle cx="106.98" cy="560.71" r="2.3" fill="#000"/>
<circle cx="102.98" cy="561.67" r="2.3" fill="#000"/>
<circle cx="105.98" cy="562.64" r="2.3" fill="#000"/>
<line x1="119.50" y1="540.42" x2="119.50" y2="540.04" stroke="#1236ff" stroke-width="1.6" />
<line x1="116.50" y1="540.04" x2="122.50" y2="540.04" stroke="#1236ff" stroke-width="1.6" />
<path d="M119.50,536.81 L122.03,541.41 L116.97,541.41Z" fill="#1236ff"/>
<path d="M121.70,537.20 L124.23,541.80 L119.17,541.80Z" fill="#1236ff"/>
<path d="M118.50,537.78 L121.03,542.38 L115.97,542.38Z" fill="#1236ff"/>
<path d="M121.00,538.16 L123.53,542.76 L118.47,542.76Z" fill="#1236ff"/>
<path d="M117.00,538.74 L119.53,543.34 L114.47,543.34Z" fill="#1236ff"/>
<path d="M120.00,538.74 L122.53,543.34 L117.47,543.34Z" fill="#1236ff"/>
<line x1="133.52" y1="598.19" x2="133.52" y2="597.61" stroke="#ff2d00" stroke-width="1.6" />
<line x1="130.52" y1="597.61" x2="136.52" y2="597.61" stroke="#ff2d00" stroke-width="1.6" />
<path d="M133.52,593.92 L135.82,596.45 L133.52,598.98 L131.22,596.45Z" fill="#ff2d00"/>
<path d="M135.72,594.89 L138.02,597.42 L135.72,599.95 L133.42,597.42Z" fill="#ff2d00"/>
<path d="M132.52,595.27 L134.82,597.80 L132.52,600.33 L130.22,597.80Z" fill="#ff2d00"/>
<path d="M135.02,595.85 L137.32,598.38 L135.02,600.91 L132.72,598.38Z" fill="#ff2d00"/>
<path d="M131.02,596.24 L133.32,598.77 L131.02,601.30 L128.72,598.77Z" fill="#ff2d00"/>
<path d="M134.02,596.82 L136.32,599.35 L134.02,601.88 L131.72,599.35Z" fill="#ff2d00"/>
<path d="M44.50,514.00 V509.70 H83.00 V514.00" fill="none" stroke="#000" stroke-width="1.5"/>
<text x="65.05" y="512.93" font-family="Liberation Sans" font-size="17" font-weight="normal" text-anchor="middle" fill="#111" textLength="28.8" lengthAdjust="spacing">****</text>
<path d="M63.00,527.60 V523.30 H83.00 V527.60" fill="none" stroke="#000" stroke-width="1.5"/>
<text x="74.30" y="526.53" font-family="Liberation Sans" font-size="17" font-weight="normal" text-anchor="middle" fill="#111" textLength="28.8" lengthAdjust="spacing">****</text>
<path d="M44.50,544.50 V540.20 H64.00 V544.50" fill="none" stroke="#000" stroke-width="1.5"/>
<text x="55.55" y="543.43" font-family="Liberation Sans" font-size="17" font-weight="normal" text-anchor="middle" fill="#111" textLength="28.8" lengthAdjust="spacing">****</text>
<path d="M98.50,491.70 V487.40 H137.00 V491.70" fill="none" stroke="#000" stroke-width="1.5"/>
<text x="119.05" y="490.63" font-family="Liberation Sans" font-size="17" font-weight="normal" text-anchor="middle" fill="#111" textLength="28.8" lengthAdjust="spacing">****</text>
<path d="M117.00,506.10 V501.80 H137.00 V506.10" fill="none" stroke="#000" stroke-width="1.5"/>
<text x="128.30" y="505.03" font-family="Liberation Sans" font-size="17" font-weight="normal" text-anchor="middle" fill="#111" textLength="28.8" lengthAdjust="spacing">****</text>
<path d="M98.50,521.40 V517.10 H118.00 V521.40" fill="none" stroke="#000" stroke-width="1.5"/>
<text x="109.55" y="520.33" font-family="Liberation Sans" font-size="17" font-weight="normal" text-anchor="middle" fill="#111" textLength="28.8" lengthAdjust="spacing">****</text>
<text x="107.00" y="535.20" font-family="Liberation Sans" font-size="15.27" font-weight="bold" text-anchor="start" fill="#1a1a1a" stroke="#1a1a1a" stroke-width="0.25" textLength="29.0" lengthAdjust="spacingAndGlyphs">####</text>
<text x="88.00" y="550.20" font-family="Liberation Sans" font-size="15.42" font-weight="bold" text-anchor="start" fill="#1a1a1a" stroke="#1a1a1a" stroke-width="0.25" textLength="28.6" lengthAdjust="spacingAndGlyphs">####</text>
<text x="117.00" y="591.80" font-family="Liberation Sans" font-size="14.54" font-weight="bold" text-anchor="start" fill="#1a1a1a" stroke="#1a1a1a" stroke-width="0.25" textLength="29.4" lengthAdjust="spacingAndGlyphs">####</text>
<line x1="179.60" y1="669.50" x2="179.60" y2="513.74" stroke="#262626" stroke-width="1.3" />
<line x1="174.80" y1="668.90" x2="179.60" y2="668.90" stroke="#262626" stroke-width="1.2" />
<text x="172.40" y="673.99" font-family="Liberation Serif" font-size="14" font-weight="bold" text-anchor="end" fill="#000" stroke="#000" stroke-width="0.3" textLength="6.7" lengthAdjust="spacingAndGlyphs">0</text>
<line x1="174.80" y1="630.26" x2="179.60" y2="630.26" stroke="#262626" stroke-width="1.2" />
<text x="172.40" y="635.35" font-family="Liberation Serif" font-size="14" font-weight="bold" text-anchor="end" fill="#000" stroke="#000" stroke-width="0.3" textLength="13.0" lengthAdjust="spacingAndGlyphs">20</text>
<line x1="174.80" y1="591.62" x2="179.60" y2="591.62" stroke="#262626" stroke-width="1.2" />
<text x="172.40" y="596.71" font-family="Liberation Serif" font-size="14" font-weight="bold" text-anchor="end" fill="#000" stroke="#000" stroke-width="0.3" textLength="13.0" lengthAdjust="spacingAndGlyphs">40</text>
<line x1="174.80" y1="552.98" x2="179.60" y2="552.98" stroke="#262626" stroke-width="1.2" />
<text x="172.40" y="558.07" font-family="Liberation Serif" font-size="14" font-weight="bold" text-anchor="end" fill="#000" stroke="#000" stroke-width="0.3" textLength="13.0" lengthAdjust="spacingAndGlyphs">60</text>
<line x1="174.80" y1="514.34" x2="179.60" y2="514.34" stroke="#262626" stroke-width="1.2" />
<text x="172.40" y="519.42" font-family="Liberation Serif" font-size="14" font-weight="bold" text-anchor="end" fill="#000" stroke="#000" stroke-width="0.3" textLength="13.0" lengthAdjust="spacingAndGlyphs">80</text>
<rect x="184.90" y="604.18" width="7.8" height="64.72" fill="#fff"/>
<path d="M184.90,668.90 V604.18 H192.70 V668.90" fill="none" stroke="#000" stroke-width="1.8"/>
<rect x="198.92" y="556.84" width="7.8" height="112.06" fill="#fff"/>
<path d="M198.92,668.90 V556.84 H206.72 V668.90" fill="none" stroke="#1236ff" stroke-width="1.8"/>
<rect x="212.94" y="615.77" width="7.8" height="53.13" fill="#fff"/>
<path d="M212.94,668.90 V615.77 H220.74 V668.90" fill="none" stroke="#ff2d00" stroke-width="1.8"/>
<rect x="240.98" y="561.67" width="7.8" height="107.23" fill="#fff"/>
<path d="M240.98,668.90 V561.67 H248.78 V668.90" fill="none" stroke="#000" stroke-width="1.8"/>
<rect x="255.00" y="541.39" width="7.8" height="127.51" fill="#fff"/>
<path d="M255.00,668.90 V541.39 H262.80 V668.90" fill="none" stroke="#1236ff" stroke-width="1.8"/>
<rect x="269.02" y="598.38" width="7.8" height="70.52" fill="#fff"/>
<path d="M269.02,668.90 V598.38 H276.82 V668.90" fill="none" stroke="#ff2d00" stroke-width="1.8"/>
<line x1="179.00" y1="668.90" x2="283.10" y2="668.90" stroke="#262626" stroke-width="1.4" />
<line x1="188.80" y1="668.90" x2="188.80" y2="673.90" stroke="#262626" stroke-width="1.2" />
<line x1="202.82" y1="668.90" x2="202.82" y2="673.90" stroke="#262626" stroke-width="1.2" />
<line x1="216.84" y1="668.90" x2="216.84" y2="673.90" stroke="#262626" stroke-width="1.2" />
<line x1="230.86" y1="668.90" x2="230.86" y2="673.90" stroke="#262626" stroke-width="1.2" />
<line x1="244.88" y1="668.90" x2="244.88" y2="673.90" stroke="#262626" stroke-width="1.2" />
<line x1="258.90" y1="668.90" x2="258.90" y2="673.90" stroke="#262626" stroke-width="1.2" />
<line x1="272.92" y1="668.90" x2="272.92" y2="673.90" stroke="#262626" stroke-width="1.2" />
<line x1="188.80" y1="604.18" x2="188.80" y2="603.21" stroke="#000" stroke-width="1.6" />
<line x1="185.80" y1="603.21" x2="191.80" y2="603.21" stroke="#000" stroke-width="1.6" />
<circle cx="188.80" cy="601.28" r="2.3" fill="#000"/>
<circle cx="191.00" cy="602.25" r="2.3" fill="#000"/>
<circle cx="187.80" cy="603.21" r="2.3" fill="#000"/>
<circle cx="190.30" cy="604.18" r="2.3" fill="#000"/>
<circle cx="186.30" cy="605.14" r="2.3" fill="#000"/>
<circle cx="189.30" cy="606.11" r="2.3" fill="#000"/>
<line x1="202.82" y1="556.84" x2="202.82" y2="555.68" stroke="#1236ff" stroke-width="1.6" />
<line x1="199.82" y1="555.68" x2="205.82" y2="555.68" stroke="#1236ff" stroke-width="1.6" />
<path d="M202.82,550.34 L205.35,554.94 L200.29,554.94Z" fill="#1236ff"/>
<path d="M205.02,552.27 L207.55,556.87 L202.49,556.87Z" fill="#1236ff"/>
<path d="M201.82,553.23 L204.35,557.83 L199.29,557.83Z" fill="#1236ff"/>
<path d="M204.32,554.20 L206.85,558.80 L201.79,558.80Z" fill="#1236ff"/>
<path d="M200.32,556.13 L202.85,560.73 L197.79,560.73Z" fill="#1236ff"/>
<path d="M203.32,557.10 L205.85,561.70 L200.79,561.70Z" fill="#1236ff"/>
<line x1="216.84" y1="615.77" x2="216.84" y2="615.00" stroke="#ff2d00" stroke-width="1.6" />
<line x1="213.84" y1="615.00" x2="219.84" y2="615.00" stroke="#ff2d00" stroke-width="1.6" />
<path d="M216.84,610.34 L219.14,612.87 L216.84,615.40 L214.54,612.87Z" fill="#ff2d00"/>
<path d="M219.04,611.31 L221.34,613.84 L219.04,616.37 L216.74,613.84Z" fill="#ff2d00"/>
<path d="M215.84,612.27 L218.14,614.80 L215.84,617.33 L213.54,614.80Z" fill="#ff2d00"/>
<path d="M218.34,613.24 L220.64,615.77 L218.34,618.30 L216.04,615.77Z" fill="#ff2d00"/>
<path d="M214.34,614.21 L216.64,616.74 L214.34,619.27 L212.04,616.74Z" fill="#ff2d00"/>
<path d="M217.34,614.59 L219.64,617.12 L217.34,619.65 L215.04,617.12Z" fill="#ff2d00"/>
<line x1="244.88" y1="561.67" x2="244.88" y2="559.74" stroke="#000" stroke-width="1.6" />
<line x1="241.88" y1="559.74" x2="247.88" y2="559.74" stroke="#000" stroke-width="1.6" />
<circle cx="244.88" cy="554.91" r="2.3" fill="#000"/>
<circle cx="247.08" cy="556.84" r="2.3" fill="#000"/>
<circle cx="242.48" cy="559.74" r="2.3" fill="#000"/>
<circle cx="247.28" cy="561.67" r="2.3" fill="#000"/>
<circle cx="242.38" cy="563.61" r="2.3" fill="#000"/>
<circle cx="247.28" cy="566.50" r="2.3" fill="#000"/>
<line x1="258.90" y1="541.39" x2="258.90" y2="540.62" stroke="#1236ff" stroke-width="1.6" />
<line x1="255.90" y1="540.62" x2="261.90" y2="540.62" stroke="#1236ff" stroke-width="1.6" />
<path d="M258.90,535.85 L261.43,540.45 L256.37,540.45Z" fill="#1236ff"/>
<path d="M261.10,536.81 L263.63,541.41 L258.57,541.41Z" fill="#1236ff"/>
<path d="M257.90,537.78 L260.43,542.38 L255.37,542.38Z" fill="#1236ff"/>
<path d="M260.40,538.74 L262.93,543.34 L257.87,543.34Z" fill="#1236ff"/>
<path d="M256.40,539.71 L258.93,544.31 L253.87,544.31Z" fill="#1236ff"/>
<path d="M259.40,540.67 L261.93,545.27 L256.87,545.27Z" fill="#1236ff"/>
<line x1="272.92" y1="598.38" x2="272.92" y2="597.80" stroke="#ff2d00" stroke-width="1.6" />
<line x1="269.92" y1="597.80" x2="275.92" y2="597.80" stroke="#ff2d00" stroke-width="1.6" />
<path d="M272.92,593.92 L275.22,596.45 L272.92,598.98 L270.62,596.45Z" fill="#ff2d00"/>
<path d="M275.12,594.89 L277.42,597.42 L275.12,599.95 L272.82,597.42Z" fill="#ff2d00"/>
<path d="M271.92,595.27 L274.22,597.80 L271.92,600.33 L269.62,597.80Z" fill="#ff2d00"/>
<path d="M274.42,595.85 L276.72,598.38 L274.42,600.91 L272.12,598.38Z" fill="#ff2d00"/>
<path d="M270.42,596.43 L272.72,598.96 L270.42,601.49 L268.12,598.96Z" fill="#ff2d00"/>
<path d="M273.42,596.82 L275.72,599.35 L273.42,601.88 L271.12,599.35Z" fill="#ff2d00"/>
<path d="M184.70,517.70 V513.40 H223.10 V517.70" fill="none" stroke="#000" stroke-width="1.5"/>
<text x="205.20" y="516.63" font-family="Liberation Sans" font-size="17" font-weight="normal" text-anchor="middle" fill="#111" textLength="28.8" lengthAdjust="spacing">****</text>
<path d="M203.80,532.60 V528.30 H223.50 V532.60" fill="none" stroke="#000" stroke-width="1.5"/>
<text x="214.95" y="531.53" font-family="Liberation Sans" font-size="17" font-weight="normal" text-anchor="middle" fill="#111" textLength="28.8" lengthAdjust="spacing">****</text>
<path d="M184.70,547.50 V543.20 H205.30 V547.50" fill="none" stroke="#000" stroke-width="1.5"/>
<text x="196.30" y="546.43" font-family="Liberation Sans" font-size="17" font-weight="normal" text-anchor="middle" fill="#111" textLength="28.8" lengthAdjust="spacing">****</text>
<path d="M238.80,492.90 V488.60 H277.20 V492.90" fill="none" stroke="#000" stroke-width="1.5"/>
<text x="259.30" y="491.83" font-family="Liberation Sans" font-size="17" font-weight="normal" text-anchor="middle" fill="#111" textLength="28.8" lengthAdjust="spacing">****</text>
<path d="M257.40,506.60 V502.30 H277.20 V506.60" fill="none" stroke="#000" stroke-width="1.5"/>
<text x="268.60" y="505.53" font-family="Liberation Sans" font-size="17" font-weight="normal" text-anchor="middle" fill="#111" textLength="28.8" lengthAdjust="spacing">****</text>
<path d="M238.80,522.20 V517.90 H259.10 V522.20" fill="none" stroke="#000" stroke-width="1.5"/>
<text x="250.25" y="521.13" font-family="Liberation Sans" font-size="17" font-weight="normal" text-anchor="middle" fill="#111" textLength="28.8" lengthAdjust="spacing">****</text>
<text x="247.20" y="536.00" font-family="Liberation Sans" font-size="14.68" font-weight="bold" text-anchor="start" fill="#1a1a1a" stroke="#1a1a1a" stroke-width="0.25" textLength="28.8" lengthAdjust="spacingAndGlyphs">####</text>
<text x="226.80" y="553.30" font-family="Liberation Sans" font-size="14.54" font-weight="bold" text-anchor="start" fill="#1a1a1a" stroke="#1a1a1a" stroke-width="0.25" textLength="28.6" lengthAdjust="spacingAndGlyphs">####</text>
<text x="257.90" y="594.20" font-family="Liberation Sans" font-size="15.12" font-weight="bold" text-anchor="start" fill="#1a1a1a" stroke="#1a1a1a" stroke-width="0.25" textLength="29.0" lengthAdjust="spacingAndGlyphs">####</text>
<text transform="translate(10.50,574.00) rotate(-90)" x="0" y="0" font-family="Liberation Serif" font-size="14.5" font-weight="bold" text-anchor="middle" stroke="#000" stroke-width="0.3" textLength="82" lengthAdjust="spacingAndGlyphs">ESP (mmHg)</text>
<line x1="40.20" y1="846.40" x2="40.20" y2="690.60" stroke="#262626" stroke-width="1.3" />
<line x1="35.40" y1="845.80" x2="40.20" y2="845.80" stroke="#262626" stroke-width="1.2" />
<text x="33.00" y="850.88" font-family="Liberation Serif" font-size="14" font-weight="bold" text-anchor="end" fill="#000" stroke="#000" stroke-width="0.3" textLength="6.7" lengthAdjust="spacingAndGlyphs">0</text>
<line x1="35.40" y1="814.88" x2="40.20" y2="814.88" stroke="#262626" stroke-width="1.2" />
<text x="33.00" y="819.97" font-family="Liberation Serif" font-size="14" font-weight="bold" text-anchor="end" fill="#000" stroke="#000" stroke-width="0.3" textLength="6.7" lengthAdjust="spacingAndGlyphs">2</text>
<line x1="35.40" y1="783.96" x2="40.20" y2="783.96" stroke="#262626" stroke-width="1.2" />
<text x="33.00" y="789.04" font-family="Liberation Serif" font-size="14" font-weight="bold" text-anchor="end" fill="#000" stroke="#000" stroke-width="0.3" textLength="6.7" lengthAdjust="spacingAndGlyphs">4</text>
<line x1="35.40" y1="753.04" x2="40.20" y2="753.04" stroke="#262626" stroke-width="1.2" />
<text x="33.00" y="758.12" font-family="Liberation Serif" font-size="14" font-weight="bold" text-anchor="end" fill="#000" stroke="#000" stroke-width="0.3" textLength="6.7" lengthAdjust="spacingAndGlyphs">6</text>
<line x1="35.40" y1="722.12" x2="40.20" y2="722.12" stroke="#262626" stroke-width="1.2" />
<text x="33.00" y="727.20" font-family="Liberation Serif" font-size="14" font-weight="bold" text-anchor="end" fill="#000" stroke="#000" stroke-width="0.3" textLength="6.7" lengthAdjust="spacingAndGlyphs">8</text>
<line x1="35.40" y1="691.20" x2="40.20" y2="691.20" stroke="#262626" stroke-width="1.2" />
<text x="33.00" y="696.28" font-family="Liberation Serif" font-size="14" font-weight="bold" text-anchor="end" fill="#000" stroke="#000" stroke-width="0.3" textLength="13.0" lengthAdjust="spacingAndGlyphs">10</text>
<rect x="45.50" y="761.54" width="7.8" height="84.26" fill="#fff"/>
<path d="M45.50,845.80 V761.54 H53.30 V845.80" fill="none" stroke="#000" stroke-width="1.8"/>
<rect x="59.52" y="749.17" width="7.8" height="96.62" fill="#fff"/>
<path d="M59.52,845.80 V749.17 H67.32 V845.80" fill="none" stroke="#1236ff" stroke-width="1.8"/>
<rect x="73.54" y="785.51" width="7.8" height="60.29" fill="#fff"/>
<path d="M73.54,845.80 V785.51 H81.34 V845.80" fill="none" stroke="#ff2d00" stroke-width="1.8"/>
<rect x="101.58" y="760.00" width="7.8" height="85.80" fill="#fff"/>
<path d="M101.58,845.80 V760.00 H109.38 V845.80" fill="none" stroke="#000" stroke-width="1.8"/>
<rect x="115.60" y="742.22" width="7.8" height="103.58" fill="#fff"/>
<path d="M115.60,845.80 V742.22 H123.40 V845.80" fill="none" stroke="#1236ff" stroke-width="1.8"/>
<rect x="129.62" y="759.22" width="7.8" height="86.58" fill="#fff"/>
<path d="M129.62,845.80 V759.22 H137.42 V845.80" fill="none" stroke="#ff2d00" stroke-width="1.8"/>
<line x1="39.60" y1="845.80" x2="143.70" y2="845.80" stroke="#262626" stroke-width="1.4" />
<line x1="49.40" y1="845.80" x2="49.40" y2="850.80" stroke="#262626" stroke-width="1.2" />
<line x1="63.42" y1="845.80" x2="63.42" y2="850.80" stroke="#262626" stroke-width="1.2" />
<line x1="77.44" y1="845.80" x2="77.44" y2="850.80" stroke="#262626" stroke-width="1.2" />
<line x1="91.46" y1="845.80" x2="91.46" y2="850.80" stroke="#262626" stroke-width="1.2" />
<line x1="105.48" y1="845.80" x2="105.48" y2="850.80" stroke="#262626" stroke-width="1.2" />
<line x1="119.50" y1="845.80" x2="119.50" y2="850.80" stroke="#262626" stroke-width="1.2" />
<line x1="133.52" y1="845.80" x2="133.52" y2="850.80" stroke="#262626" stroke-width="1.2" />
<line x1="49.40" y1="761.54" x2="49.40" y2="749.17" stroke="#000" stroke-width="1.6" />
<line x1="46.40" y1="749.17" x2="52.40" y2="749.17" stroke="#000" stroke-width="1.6" />
<circle cx="49.40" cy="715.94" r="2.3" fill="#000"/>
<circle cx="49.40" cy="737.58" r="2.3" fill="#000"/>
<circle cx="49.40" cy="763.86" r="2.3" fill="#000"/>
<circle cx="49.40" cy="768.50" r="2.3" fill="#000"/>
<circle cx="49.40" cy="783.96" r="2.3" fill="#000"/>
<circle cx="49.40" cy="799.42" r="2.3" fill="#000"/>
<line x1="63.42" y1="749.17" x2="63.42" y2="736.81" stroke="#1236ff" stroke-width="1.6" />
<line x1="60.42" y1="736.81" x2="66.42" y2="736.81" stroke="#1236ff" stroke-width="1.6" />
<path d="M63.42,698.76 L65.95,703.36 L60.89,703.36Z" fill="#1236ff"/>
<path d="M63.42,723.19 L65.95,727.79 L60.89,727.79Z" fill="#1236ff"/>
<path d="M63.42,758.12 L65.95,762.73 L60.89,762.73Z" fill="#1236ff"/>
<path d="M63.42,762.76 L65.95,767.36 L60.89,767.36Z" fill="#1236ff"/>
<path d="M63.42,767.40 L65.95,772.00 L60.89,772.00Z" fill="#1236ff"/>
<path d="M63.42,775.13 L65.95,779.73 L60.89,779.73Z" fill="#1236ff"/>
<line x1="77.44" y1="785.51" x2="77.44" y2="776.23" stroke="#ff2d00" stroke-width="1.6" />
<line x1="74.44" y1="776.23" x2="80.44" y2="776.23" stroke="#ff2d00" stroke-width="1.6" />
<path d="M77.44,760.10 L79.74,762.63 L77.44,765.16 L75.14,762.63Z" fill="#ff2d00"/>
<path d="M79.64,760.10 L81.94,762.63 L79.64,765.16 L77.34,762.63Z" fill="#ff2d00"/>
<path d="M77.44,782.98 L79.74,785.51 L77.44,788.04 L75.14,785.51Z" fill="#ff2d00"/>
<path d="M77.44,792.25 L79.74,794.78 L77.44,797.31 L75.14,794.78Z" fill="#ff2d00"/>
<path d="M77.44,803.07 L79.74,805.60 L77.44,808.13 L75.14,805.60Z" fill="#ff2d00"/>
<path d="M77.44,812.35 L79.74,814.88 L77.44,817.41 L75.14,814.88Z" fill="#ff2d00"/>
<line x1="105.48" y1="760.00" x2="105.48" y2="755.36" stroke="#000" stroke-width="1.6" />
<line x1="102.48" y1="755.36" x2="108.48" y2="755.36" stroke="#000" stroke-width="1.6" />
<circle cx="105.48" cy="750.57" r="2.3" fill="#000"/>
<circle cx="105.48" cy="755.05" r="2.3" fill="#000"/>
<circle cx="104.48" cy="757.21" r="2.3" fill="#000"/>
<circle cx="108.68" cy="760.77" r="2.3" fill="#000"/>
<circle cx="105.48" cy="765.41" r="2.3" fill="#000"/>
<circle cx="105.98" cy="768.50" r="2.3" fill="#000"/>
<line x1="119.50" y1="742.22" x2="119.50" y2="732.17" stroke="#1236ff" stroke-width="1.6" />
<line x1="116.50" y1="732.17" x2="122.50" y2="732.17" stroke="#1236ff" stroke-width="1.6" />
<path d="M119.50,699.38 L122.03,703.98 L116.97,703.98Z" fill="#1236ff"/>
<path d="M119.50,728.75 L122.03,733.35 L116.97,733.35Z" fill="#1236ff"/>
<path d="M119.50,747.30 L122.03,751.90 L116.97,751.90Z" fill="#1236ff"/>
<path d="M119.50,751.94 L122.03,756.54 L116.97,756.54Z" fill="#1236ff"/>
<path d="M119.50,758.12 L122.03,762.73 L116.97,762.73Z" fill="#1236ff"/>
<path d="M119.50,764.31 L122.03,768.91 L116.97,768.91Z" fill="#1236ff"/>
<line x1="133.52" y1="759.22" x2="133.52" y2="755.36" stroke="#ff2d00" stroke-width="1.6" />
<line x1="130.52" y1="755.36" x2="136.52" y2="755.36" stroke="#ff2d00" stroke-width="1.6" />
<path d="M133.52,746.64 L135.82,749.17 L133.52,751.70 L131.22,749.17Z" fill="#ff2d00"/>
<path d="M133.52,753.60 L135.82,756.13 L133.52,758.66 L131.22,756.13Z" fill="#ff2d00"/>
<path d="M132.52,756.69 L134.82,759.22 L132.52,761.75 L130.22,759.22Z" fill="#ff2d00"/>
<path d="M135.02,758.24 L137.32,760.77 L135.02,763.30 L132.72,760.77Z" fill="#ff2d00"/>
<path d="M131.02,759.79 L133.32,762.32 L131.02,764.85 L128.72,762.32Z" fill="#ff2d00"/>
<path d="M134.02,761.33 L136.32,763.86 L134.02,766.39 L131.72,763.86Z" fill="#ff2d00"/>
<line x1="179.60" y1="846.40" x2="179.60" y2="690.60" stroke="#262626" stroke-width="1.3" />
<line x1="174.80" y1="845.80" x2="179.60" y2="845.80" stroke="#262626" stroke-width="1.2" />
<text x="172.40" y="850.88" font-family="Liberation Serif" font-size="14" font-weight="bold" text-anchor="end" fill="#000" stroke="#000" stroke-width="0.3" textLength="6.7" lengthAdjust="spacingAndGlyphs">0</text>
<line x1="174.80" y1="814.88" x2="179.60" y2="814.88" stroke="#262626" stroke-width="1.2" />
<text x="172.40" y="819.97" font-family="Liberation Serif" font-size="14" font-weight="bold" text-anchor="end" fill="#000" stroke="#000" stroke-width="0.3" textLength="6.7" lengthAdjust="spacingAndGlyphs">2</text>
<line x1="174.80" y1="783.96" x2="179.60" y2="783.96" stroke="#262626" stroke-width="1.2" />
<text x="172.40" y="789.04" font-family="Liberation Serif" font-size="14" font-weight="bold" text-anchor="end" fill="#000" stroke="#000" stroke-width="0.3" textLength="6.7" lengthAdjust="spacingAndGlyphs">4</text>
<line x1="174.80" y1="753.04" x2="179.60" y2="753.04" stroke="#262626" stroke-width="1.2" />
<text x="172.40" y="758.12" font-family="Liberation Serif" font-size="14" font-weight="bold" text-anchor="end" fill="#000" stroke="#000" stroke-width="0.3" textLength="6.7" lengthAdjust="spacingAndGlyphs">6</text>
<line x1="174.80" y1="722.12" x2="179.60" y2="722.12" stroke="#262626" stroke-width="1.2" />
<text x="172.40" y="727.20" font-family="Liberation Serif" font-size="14" font-weight="bold" text-anchor="end" fill="#000" stroke="#000" stroke-width="0.3" textLength="6.7" lengthAdjust="spacingAndGlyphs">8</text>
<line x1="174.80" y1="691.20" x2="179.60" y2="691.20" stroke="#262626" stroke-width="1.2" />
<text x="172.40" y="696.28" font-family="Liberation Serif" font-size="14" font-weight="bold" text-anchor="end" fill="#000" stroke="#000" stroke-width="0.3" textLength="13.0" lengthAdjust="spacingAndGlyphs">10</text>
<rect x="184.90" y="822.61" width="7.8" height="23.19" fill="#fff"/>
<path d="M184.90,845.80 V822.61 H192.70 V845.80" fill="none" stroke="#000" stroke-width="1.8"/>
<rect x="198.92" y="815.65" width="7.8" height="30.15" fill="#fff"/>
<path d="M198.92,845.80 V815.65 H206.72 V845.80" fill="none" stroke="#1236ff" stroke-width="1.8"/>
<rect x="212.94" y="834.20" width="7.8" height="11.60" fill="#fff"/>
<path d="M212.94,845.80 V834.20 H220.74 V845.80" fill="none" stroke="#ff2d00" stroke-width="1.8"/>
<rect x="240.98" y="824.93" width="7.8" height="20.87" fill="#fff"/>
<path d="M240.98,845.80 V824.93 H248.78 V845.80" fill="none" stroke="#000" stroke-width="1.8"/>
<rect x="255.00" y="814.88" width="7.8" height="30.92" fill="#fff"/>
<path d="M255.00,845.80 V814.88 H262.80 V845.80" fill="none" stroke="#1236ff" stroke-width="1.8"/>
<rect x="269.02" y="830.34" width="7.8" height="15.46" fill="#fff"/>
<path d="M269.02,845.80 V830.34 H276.82 V845.80" fill="none" stroke="#ff2d00" stroke-width="1.8"/>
<line x1="179.00" y1="845.80" x2="283.10" y2="845.80" stroke="#262626" stroke-width="1.4" />
<line x1="188.80" y1="845.80" x2="188.80" y2="850.80" stroke="#262626" stroke-width="1.2" />
<line x1="202.82" y1="845.80" x2="202.82" y2="850.80" stroke="#262626" stroke-width="1.2" />
<line x1="216.84" y1="845.80" x2="216.84" y2="850.80" stroke="#262626" stroke-width="1.2" />
<line x1="230.86" y1="845.80" x2="230.86" y2="850.80" stroke="#262626" stroke-width="1.2" />
<line x1="244.88" y1="845.80" x2="244.88" y2="850.80" stroke="#262626" stroke-width="1.2" />
<line x1="258.90" y1="845.80" x2="258.90" y2="850.80" stroke="#262626" stroke-width="1.2" />
<line x1="272.92" y1="845.80" x2="272.92" y2="850.80" stroke="#262626" stroke-width="1.2" />
<line x1="188.80" y1="822.61" x2="188.80" y2="816.43" stroke="#000" stroke-width="1.6" />
<line x1="185.80" y1="816.43" x2="191.80" y2="816.43" stroke="#000" stroke-width="1.6" />
<circle cx="188.80" cy="805.60" r="2.3" fill="#000"/>
<circle cx="188.80" cy="814.88" r="2.3" fill="#000"/>
<circle cx="187.80" cy="817.97" r="2.3" fill="#000"/>
<circle cx="188.80" cy="825.70" r="2.3" fill="#000"/>
<circle cx="188.80" cy="833.43" r="2.3" fill="#000"/>
<circle cx="188.80" cy="842.71" r="2.3" fill="#000"/>
<line x1="202.82" y1="815.65" x2="202.82" y2="811.79" stroke="#1236ff" stroke-width="1.6" />
<line x1="199.82" y1="811.79" x2="205.82" y2="811.79" stroke="#1236ff" stroke-width="1.6" />
<path d="M202.82,807.60 L205.35,812.20 L200.29,812.20Z" fill="#1236ff"/>
<path d="M205.02,808.37 L207.55,812.97 L202.49,812.97Z" fill="#1236ff"/>
<path d="M201.82,810.69 L204.35,815.29 L199.29,815.29Z" fill="#1236ff"/>
<path d="M202.82,815.33 L205.35,819.93 L200.29,819.93Z" fill="#1236ff"/>
<path d="M200.32,818.42 L202.85,823.02 L197.79,823.02Z" fill="#1236ff"/>
<path d="M205.22,819.96 L207.75,824.56 L202.69,824.56Z" fill="#1236ff"/>
<line x1="216.84" y1="834.20" x2="216.84" y2="831.89" stroke="#ff2d00" stroke-width="1.6" />
<line x1="213.84" y1="831.89" x2="219.84" y2="831.89" stroke="#ff2d00" stroke-width="1.6" />
<path d="M216.84,816.99 L219.14,819.52 L216.84,822.05 L214.54,819.52Z" fill="#ff2d00"/>
<path d="M216.84,830.90 L219.14,833.43 L216.84,835.96 L214.54,833.43Z" fill="#ff2d00"/>
<path d="M215.84,832.45 L218.14,834.98 L215.84,837.51 L213.54,834.98Z" fill="#ff2d00"/>
<path d="M218.34,835.54 L220.64,838.07 L218.34,840.60 L216.04,838.07Z" fill="#ff2d00"/>
<path d="M213.64,838.63 L215.94,841.16 L213.64,843.69 L211.34,841.16Z" fill="#ff2d00"/>
<path d="M219.24,841.72 L221.54,844.25 L219.24,846.78 L216.94,844.25Z" fill="#ff2d00"/>
<line x1="244.88" y1="824.93" x2="244.88" y2="821.06" stroke="#000" stroke-width="1.6" />
<line x1="241.88" y1="821.06" x2="247.88" y2="821.06" stroke="#000" stroke-width="1.6" />
<circle cx="244.88" cy="812.56" r="2.3" fill="#000"/>
<circle cx="247.08" cy="816.43" r="2.3" fill="#000"/>
<circle cx="244.88" cy="824.16" r="2.3" fill="#000"/>
<circle cx="246.38" cy="825.70" r="2.3" fill="#000"/>
<circle cx="244.88" cy="830.34" r="2.3" fill="#000"/>
<circle cx="244.88" cy="838.07" r="2.3" fill="#000"/>
<line x1="258.90" y1="814.88" x2="258.90" y2="810.24" stroke="#1236ff" stroke-width="1.6" />
<line x1="255.90" y1="810.24" x2="261.90" y2="810.24" stroke="#1236ff" stroke-width="1.6" />
<path d="M258.90,794.46 L261.43,799.06 L256.37,799.06Z" fill="#1236ff"/>
<path d="M258.90,806.05 L261.43,810.65 L256.37,810.65Z" fill="#1236ff"/>
<path d="M258.90,812.24 L261.43,816.84 L256.37,816.84Z" fill="#1236ff"/>
<path d="M260.40,815.33 L262.93,819.93 L257.87,819.93Z" fill="#1236ff"/>
<path d="M258.90,819.96 L261.43,824.56 L256.37,824.56Z" fill="#1236ff"/>
<path d="M258.90,824.60 L261.43,829.20 L256.37,829.20Z" fill="#1236ff"/>
<line x1="272.92" y1="830.34" x2="272.92" y2="826.47" stroke="#ff2d00" stroke-width="1.6" />
<line x1="269.92" y1="826.47" x2="275.92" y2="826.47" stroke="#ff2d00" stroke-width="1.6" />
<path d="M272.92,813.90 L275.22,816.43 L272.92,818.96 L270.62,816.43Z" fill="#ff2d00"/>
<path d="M272.92,824.72 L275.22,827.25 L272.92,829.78 L270.62,827.25Z" fill="#ff2d00"/>
<path d="M271.92,827.81 L274.22,830.34 L271.92,832.87 L269.62,830.34Z" fill="#ff2d00"/>
<path d="M274.42,830.90 L276.72,833.43 L274.42,835.96 L272.12,833.43Z" fill="#ff2d00"/>
<path d="M269.72,833.99 L272.02,836.52 L269.72,839.05 L267.42,836.52Z" fill="#ff2d00"/>
<path d="M272.92,841.72 L275.22,844.25 L272.92,846.78 L270.62,844.25Z" fill="#ff2d00"/>
<path d="M202.00,802.20 V797.90 H222.60 V802.20" fill="none" stroke="#000" stroke-width="1.5"/>
<text x="213.60" y="801.13" font-family="Liberation Sans" font-size="17" font-weight="normal" text-anchor="middle" fill="#111" textLength="6.9" lengthAdjust="spacing">*</text>
<text transform="translate(9.80,769.30) rotate(-90)" x="0" y="0" font-family="Liberation Serif" font-size="14.5" font-weight="bold" text-anchor="middle" stroke="#000" stroke-width="0.3" textLength="84" lengthAdjust="spacingAndGlyphs">EDP (mmHg)</text>
<text x="61.80" y="867.20" font-family="Liberation Serif" font-size="14.5" font-weight="bold" text-anchor="middle" fill="#000" stroke="#000" stroke-width="0.3" textLength="22.3" lengthAdjust="spacingAndGlyphs">WT</text>
<text x="119.00" y="867.20" font-family="Liberation Serif" font-size="14.5" font-weight="bold" text-anchor="middle" fill="#000" stroke="#000" stroke-width="0.3" textLength="22" lengthAdjust="spacingAndGlyphs">KO</text>
<line x1="41.90" y1="875.50" x2="131.10" y2="875.50" stroke="#000" stroke-width="1.5" />
<text x="86.80" y="892.20" font-family="Liberation Serif" font-size="14.5" font-weight="bold" text-anchor="middle" fill="#000" stroke="#000" stroke-width="0.3" >Normoxic</text>
<text x="202.40" y="867.20" font-family="Liberation Serif" font-size="14.5" font-weight="bold" text-anchor="middle" fill="#000" stroke="#000" stroke-width="0.3" textLength="22.3" lengthAdjust="spacingAndGlyphs">WT</text>
<text x="259.80" y="867.20" font-family="Liberation Serif" font-size="14.5" font-weight="bold" text-anchor="middle" fill="#000" stroke="#000" stroke-width="0.3" textLength="22" lengthAdjust="spacingAndGlyphs">KO</text>
<line x1="188.90" y1="874.60" x2="277.20" y2="874.60" stroke="#000" stroke-width="1.5" />
<text x="233.10" y="890.80" font-family="Liberation Serif" font-size="14.5" font-weight="bold" text-anchor="middle" fill="#000" stroke="#000" stroke-width="0.3" >Hypoxic</text>
<line x1="374.00" y1="465.80" x2="374.00" y2="310.10" stroke="#262626" stroke-width="1.3" />
<line x1="369.20" y1="465.20" x2="374.00" y2="465.20" stroke="#262626" stroke-width="1.2" />
<text x="366.80" y="470.28" font-family="Liberation Serif" font-size="14" font-weight="bold" text-anchor="end" fill="#000" stroke="#000" stroke-width="0.3" textLength="6.7" lengthAdjust="spacingAndGlyphs">0</text>
<line x1="369.20" y1="434.30" x2="374.00" y2="434.30" stroke="#262626" stroke-width="1.2" />
<text x="366.80" y="439.38" font-family="Liberation Serif" font-size="14" font-weight="bold" text-anchor="end" fill="#000" stroke="#000" stroke-width="0.3" textLength="13.0" lengthAdjust="spacingAndGlyphs">20</text>
<line x1="369.20" y1="403.40" x2="374.00" y2="403.40" stroke="#262626" stroke-width="1.2" />
<text x="366.80" y="408.48" font-family="Liberation Serif" font-size="14" font-weight="bold" text-anchor="end" fill="#000" stroke="#000" stroke-width="0.3" textLength="13.0" lengthAdjust="spacingAndGlyphs">40</text>
<line x1="369.20" y1="372.50" x2="374.00" y2="372.50" stroke="#262626" stroke-width="1.2" />
<text x="366.80" y="377.58" font-family="Liberation Serif" font-size="14" font-weight="bold" text-anchor="end" fill="#000" stroke="#000" stroke-width="0.3" textLength="13.0" lengthAdjust="spacingAndGlyphs">60</text>
<line x1="369.20" y1="341.60" x2="374.00" y2="341.60" stroke="#262626" stroke-width="1.2" />
<text x="366.80" y="346.69" font-family="Liberation Serif" font-size="14" font-weight="bold" text-anchor="end" fill="#000" stroke="#000" stroke-width="0.3" textLength="13.0" lengthAdjust="spacingAndGlyphs">80</text>
<line x1="369.20" y1="310.70" x2="374.00" y2="310.70" stroke="#262626" stroke-width="1.2" />
<text x="366.80" y="315.78" font-family="Liberation Serif" font-size="14" font-weight="bold" text-anchor="end" fill="#000" stroke="#000" stroke-width="0.3" textLength="19.3" lengthAdjust="spacingAndGlyphs">100</text>
<rect x="379.10" y="349.32" width="7.8" height="115.88" fill="#fff"/>
<path d="M379.10,465.20 V349.32 H386.90 V465.20" fill="none" stroke="#000" stroke-width="1.8"/>
<rect x="393.12" y="332.33" width="7.8" height="132.87" fill="#fff"/>
<path d="M393.12,465.20 V332.33 H400.92 V465.20" fill="none" stroke="#1236ff" stroke-width="1.8"/>
<rect x="407.14" y="391.04" width="7.8" height="74.16" fill="#fff"/>
<path d="M407.14,465.20 V391.04 H414.94 V465.20" fill="none" stroke="#ff2d00" stroke-width="1.8"/>
<rect x="435.18" y="395.68" width="7.8" height="69.52" fill="#fff"/>
<path d="M435.18,465.20 V395.68 H442.98 V465.20" fill="none" stroke="#000" stroke-width="1.8"/>
<rect x="449.20" y="338.51" width="7.8" height="126.69" fill="#fff"/>
<path d="M449.20,465.20 V338.51 H457.00 V465.20" fill="none" stroke="#1236ff" stroke-width="1.8"/>
<rect x="463.22" y="422.71" width="7.8" height="42.49" fill="#fff"/>
<path d="M463.22,465.20 V422.71 H471.02 V465.20" fill="none" stroke="#ff2d00" stroke-width="1.8"/>
<line x1="373.40" y1="465.20" x2="477.50" y2="465.20" stroke="#262626" stroke-width="1.4" />
<line x1="383.00" y1="465.20" x2="383.00" y2="470.20" stroke="#262626" stroke-width="1.2" />
<line x1="397.02" y1="465.20" x2="397.02" y2="470.20" stroke="#262626" stroke-width="1.2" />
<line x1="411.04" y1="465.20" x2="411.04" y2="470.20" stroke="#262626" stroke-width="1.2" />
<line x1="425.06" y1="465.20" x2="425.06" y2="470.20" stroke="#262626" stroke-width="1.2" />
<line x1="439.08" y1="465.20" x2="439.08" y2="470.20" stroke="#262626" stroke-width="1.2" />
<line x1="453.10" y1="465.20" x2="453.10" y2="470.20" stroke="#262626" stroke-width="1.2" />
<line x1="467.12" y1="465.20" x2="467.12" y2="470.20" stroke="#262626" stroke-width="1.2" />
<line x1="383.00" y1="349.32" x2="383.00" y2="348.09" stroke="#000" stroke-width="1.6" />
<line x1="380.00" y1="348.09" x2="386.00" y2="348.09" stroke="#000" stroke-width="1.6" />
<circle cx="383.00" cy="346.24" r="2.3" fill="#000"/>
<circle cx="385.20" cy="347.01" r="2.3" fill="#000"/>
<circle cx="382.00" cy="347.78" r="2.3" fill="#000"/>
<circle cx="384.50" cy="349.32" r="2.3" fill="#000"/>
<circle cx="380.50" cy="350.87" r="2.3" fill="#000"/>
<circle cx="383.00" cy="355.50" r="2.3" fill="#000"/>
<line x1="397.02" y1="332.33" x2="397.02" y2="331.71" stroke="#1236ff" stroke-width="1.6" />
<line x1="394.02" y1="331.71" x2="400.02" y2="331.71" stroke="#1236ff" stroke-width="1.6" />
<path d="M397.02,328.14 L399.55,332.74 L394.49,332.74Z" fill="#1236ff"/>
<path d="M399.22,328.91 L401.75,333.51 L396.69,333.51Z" fill="#1236ff"/>
<path d="M396.02,329.69 L398.55,334.28 L393.49,334.28Z" fill="#1236ff"/>
<path d="M398.52,330.46 L401.05,335.06 L395.99,335.06Z" fill="#1236ff"/>
<path d="M394.52,331.23 L397.05,335.83 L391.99,335.83Z" fill="#1236ff"/>
<path d="M397.52,332.00 L400.05,336.60 L394.99,336.60Z" fill="#1236ff"/>
<line x1="411.04" y1="391.04" x2="411.04" y2="389.80" stroke="#ff2d00" stroke-width="1.6" />
<line x1="408.04" y1="389.80" x2="414.04" y2="389.80" stroke="#ff2d00" stroke-width="1.6" />
<path d="M411.04,386.85 L413.57,391.45 L408.51,391.45Z" fill="#ff2d00"/>
<path d="M413.24,387.62 L415.77,392.22 L410.71,392.22Z" fill="#ff2d00"/>
<path d="M410.04,388.39 L412.57,392.99 L407.51,392.99Z" fill="#ff2d00"/>
<path d="M412.54,389.17 L415.07,393.77 L410.01,393.77Z" fill="#ff2d00"/>
<path d="M408.54,389.94 L411.07,394.54 L406.01,394.54Z" fill="#ff2d00"/>
<path d="M411.04,396.12 L413.57,400.72 L408.51,400.72Z" fill="#ff2d00"/>
<line x1="439.08" y1="395.68" x2="439.08" y2="391.81" stroke="#000" stroke-width="1.6" />
<line x1="436.08" y1="391.81" x2="442.08" y2="391.81" stroke="#000" stroke-width="1.6" />
<path d="M439.08,379.12 L441.61,383.72 L436.55,383.72Z" fill="#000"/>
<path d="M439.08,385.31 L441.61,389.90 L436.55,389.90Z" fill="#000"/>
<path d="M439.08,391.49 L441.61,396.08 L436.55,396.08Z" fill="#000"/>
<path d="M440.58,394.58 L443.11,399.18 L438.05,399.18Z" fill="#000"/>
<path d="M435.88,397.67 L438.41,402.26 L433.35,402.26Z" fill="#000"/>
<path d="M441.48,400.75 L444.01,405.35 L438.95,405.35Z" fill="#000"/>
<line x1="453.10" y1="338.51" x2="453.10" y2="336.66" stroke="#1236ff" stroke-width="1.6" />
<line x1="450.10" y1="336.66" x2="456.10" y2="336.66" stroke="#1236ff" stroke-width="1.6" />
<circle cx="453.10" cy="333.88" r="2.3" fill="#1236ff"/>
<circle cx="455.30" cy="334.65" r="2.3" fill="#1236ff"/>
<circle cx="452.10" cy="335.42" r="2.3" fill="#1236ff"/>
<circle cx="454.60" cy="336.97" r="2.3" fill="#1236ff"/>
<circle cx="453.10" cy="343.14" r="2.3" fill="#1236ff"/>
<circle cx="453.60" cy="344.69" r="2.3" fill="#1236ff"/>
<line x1="467.12" y1="422.71" x2="467.12" y2="421.48" stroke="#ff2d00" stroke-width="1.6" />
<line x1="464.12" y1="421.48" x2="470.12" y2="421.48" stroke="#ff2d00" stroke-width="1.6" />
<path d="M467.12,418.52 L469.65,423.12 L464.59,423.12Z" fill="#ff2d00"/>
<path d="M469.32,419.30 L471.85,423.89 L466.79,423.89Z" fill="#ff2d00"/>
<path d="M466.12,420.07 L468.65,424.67 L463.59,424.67Z" fill="#ff2d00"/>
<path d="M468.62,420.84 L471.15,425.44 L466.09,425.44Z" fill="#ff2d00"/>
<path d="M464.62,421.61 L467.15,426.21 L462.09,426.21Z" fill="#ff2d00"/>
<path d="M467.12,428.56 L469.65,433.16 L464.59,433.16Z" fill="#ff2d00"/>
<circle cx="425.06" cy="465.20" r="2.4" fill="#000"/>
<path d="M381.40,303.40 V299.10 H413.50 V303.40" fill="none" stroke="#000" stroke-width="1.5"/>
<text x="398.75" y="302.33" font-family="Liberation Sans" font-size="17" font-weight="normal" text-anchor="middle" fill="#111" textLength="28.8" lengthAdjust="spacing">****</text>
<path d="M381.40,321.60 V317.30 H397.70 V321.60" fill="none" stroke="#000" stroke-width="1.5"/>
<text x="390.85" y="320.53" font-family="Liberation Sans" font-size="17" font-weight="normal" text-anchor="middle" fill="#111" textLength="28.8" lengthAdjust="spacing">****</text>
<path d="M433.30,301.60 V297.30 H465.10 V301.60" fill="none" stroke="#000" stroke-width="1.5"/>
<text x="450.50" y="300.53" font-family="Liberation Sans" font-size="17" font-weight="normal" text-anchor="middle" fill="#111" textLength="28.8" lengthAdjust="spacing">****</text>
<path d="M432.80,317.60 V313.30 H458.80 V317.60" fill="none" stroke="#000" stroke-width="1.5"/>
<text x="447.10" y="316.53" font-family="Liberation Sans" font-size="17" font-weight="normal" text-anchor="middle" fill="#111" textLength="28.8" lengthAdjust="spacing">****</text>
<text x="441.90" y="330.10" font-family="Liberation Sans" font-size="13.36" font-weight="bold" text-anchor="start" fill="#1a1a1a" stroke="#1a1a1a" stroke-width="0.25" textLength="29.4" lengthAdjust="spacingAndGlyphs">####</text>
<text x="424.30" y="378.20" font-family="Liberation Sans" font-size="14.54" font-weight="bold" text-anchor="start" fill="#1a1a1a" stroke="#1a1a1a" stroke-width="0.25" textLength="29.4" lengthAdjust="spacingAndGlyphs">####</text>
<text x="460.50" y="414.20" font-family="Liberation Sans" font-size="15.27" font-weight="bold" text-anchor="start" fill="#1a1a1a" stroke="#1a1a1a" stroke-width="0.25" textLength="22.5" lengthAdjust="spacingAndGlyphs">###</text>
<text transform="translate(332.00,383.90) rotate(-90)" x="0" y="0" font-family="Liberation Serif" font-size="14.5" font-weight="bold" text-anchor="middle" stroke="#000" stroke-width="0.3" textLength="137" lengthAdjust="spacingAndGlyphs">Ejection Fraction (%)</text>
<line x1="572.90" y1="465.80" x2="572.90" y2="310.10" stroke="#262626" stroke-width="1.3" />
<line x1="568.10" y1="465.20" x2="572.90" y2="465.20" stroke="#262626" stroke-width="1.2" />
<text x="565.70" y="470.28" font-family="Liberation Serif" font-size="14" font-weight="bold" text-anchor="end" fill="#000" stroke="#000" stroke-width="0.3" textLength="6.7" lengthAdjust="spacingAndGlyphs">0</text>
<line x1="568.10" y1="434.30" x2="572.90" y2="434.30" stroke="#262626" stroke-width="1.2" />
<text x="565.70" y="439.38" font-family="Liberation Serif" font-size="14" font-weight="bold" text-anchor="end" fill="#000" stroke="#000" stroke-width="0.3" textLength="13.0" lengthAdjust="spacingAndGlyphs">20</text>
<line x1="568.10" y1="403.40" x2="572.90" y2="403.40" stroke="#262626" stroke-width="1.2" />
<text x="565.70" y="408.48" font-family="Liberation Serif" font-size="14" font-weight="bold" text-anchor="end" fill="#000" stroke="#000" stroke-width="0.3" textLength="13.0" lengthAdjust="spacingAndGlyphs">40</text>
<line x1="568.10" y1="372.50" x2="572.90" y2="372.50" stroke="#262626" stroke-width="1.2" />
<text x="565.70" y="377.58" font-family="Liberation Serif" font-size="14" font-weight="bold" text-anchor="end" fill="#000" stroke="#000" stroke-width="0.3" textLength="13.0" lengthAdjust="spacingAndGlyphs">60</text>
<line x1="568.10" y1="341.60" x2="572.90" y2="341.60" stroke="#262626" stroke-width="1.2" />
<text x="565.70" y="346.69" font-family="Liberation Serif" font-size="14" font-weight="bold" text-anchor="end" fill="#000" stroke="#000" stroke-width="0.3" textLength="13.0" lengthAdjust="spacingAndGlyphs">80</text>
<line x1="568.10" y1="310.70" x2="572.90" y2="310.70" stroke="#262626" stroke-width="1.2" />
<text x="565.70" y="315.78" font-family="Liberation Serif" font-size="14" font-weight="bold" text-anchor="end" fill="#000" stroke="#000" stroke-width="0.3" textLength="19.3" lengthAdjust="spacingAndGlyphs">100</text>
<rect x="578.40" y="349.32" width="7.8" height="115.88" fill="#fff"/>
<path d="M578.40,465.20 V349.32 H586.20 V465.20" fill="none" stroke="#000" stroke-width="1.8"/>
<rect x="592.42" y="333.88" width="7.8" height="131.32" fill="#fff"/>
<path d="M592.42,465.20 V333.88 H600.22 V465.20" fill="none" stroke="#1236ff" stroke-width="1.8"/>
<rect x="606.44" y="388.72" width="7.8" height="76.48" fill="#fff"/>
<path d="M606.44,465.20 V388.72 H614.24 V465.20" fill="none" stroke="#ff2d00" stroke-width="1.8"/>
<rect x="634.48" y="392.58" width="7.8" height="72.62" fill="#fff"/>
<path d="M634.48,465.20 V392.58 H642.28 V465.20" fill="none" stroke="#000" stroke-width="1.8"/>
<rect x="648.50" y="333.88" width="7.8" height="131.32" fill="#fff"/>
<path d="M648.50,465.20 V333.88 H656.30 V465.20" fill="none" stroke="#1236ff" stroke-width="1.8"/>
<rect x="662.52" y="420.39" width="7.8" height="44.81" fill="#fff"/>
<path d="M662.52,465.20 V420.39 H670.32 V465.20" fill="none" stroke="#ff2d00" stroke-width="1.8"/>
<line x1="572.30" y1="465.20" x2="676.40" y2="465.20" stroke="#262626" stroke-width="1.4" />
<line x1="582.30" y1="465.20" x2="582.30" y2="470.20" stroke="#262626" stroke-width="1.2" />
<line x1="596.32" y1="465.20" x2="596.32" y2="470.20" stroke="#262626" stroke-width="1.2" />
<line x1="610.34" y1="465.20" x2="610.34" y2="470.20" stroke="#262626" stroke-width="1.2" />
<line x1="624.36" y1="465.20" x2="624.36" y2="470.20" stroke="#262626" stroke-width="1.2" />
<line x1="638.38" y1="465.20" x2="638.38" y2="470.20" stroke="#262626" stroke-width="1.2" />
<line x1="652.40" y1="465.20" x2="652.40" y2="470.20" stroke="#262626" stroke-width="1.2" />
<line x1="666.42" y1="465.20" x2="666.42" y2="470.20" stroke="#262626" stroke-width="1.2" />
<line x1="582.30" y1="349.32" x2="582.30" y2="348.71" stroke="#000" stroke-width="1.6" />
<line x1="579.30" y1="348.71" x2="585.30" y2="348.71" stroke="#000" stroke-width="1.6" />
<circle cx="582.30" cy="346.24" r="2.3" fill="#000"/>
<circle cx="584.50" cy="347.01" r="2.3" fill="#000"/>
<circle cx="581.30" cy="347.78" r="2.3" fill="#000"/>
<circle cx="583.80" cy="348.55" r="2.3" fill="#000"/>
<circle cx="579.80" cy="349.32" r="2.3" fill="#000"/>
<circle cx="582.80" cy="350.10" r="2.3" fill="#000"/>
<line x1="596.32" y1="333.88" x2="596.32" y2="332.33" stroke="#1236ff" stroke-width="1.6" />
<line x1="593.32" y1="332.33" x2="599.32" y2="332.33" stroke="#1236ff" stroke-width="1.6" />
<path d="M596.32,326.60 L598.85,331.19 L593.79,331.19Z" fill="#1236ff"/>
<path d="M598.52,328.91 L601.05,333.51 L595.99,333.51Z" fill="#1236ff"/>
<path d="M595.32,329.69 L597.85,334.28 L592.79,334.28Z" fill="#1236ff"/>
<path d="M597.82,330.46 L600.35,335.06 L595.29,335.06Z" fill="#1236ff"/>
<path d="M593.82,331.23 L596.35,335.83 L591.29,335.83Z" fill="#1236ff"/>
<path d="M596.32,338.96 L598.85,343.56 L593.79,343.56Z" fill="#1236ff"/>
<line x1="610.34" y1="388.72" x2="610.34" y2="388.10" stroke="#ff2d00" stroke-width="1.6" />
<line x1="607.34" y1="388.10" x2="613.34" y2="388.10" stroke="#ff2d00" stroke-width="1.6" />
<path d="M610.34,382.99 L612.87,387.59 L607.81,387.59Z" fill="#ff2d00"/>
<path d="M612.54,384.53 L615.07,389.13 L610.01,389.13Z" fill="#ff2d00"/>
<path d="M609.34,385.31 L611.87,389.90 L606.81,389.90Z" fill="#ff2d00"/>
<path d="M611.84,386.08 L614.37,390.68 L609.31,390.68Z" fill="#ff2d00"/>
<path d="M607.84,386.85 L610.37,391.45 L605.31,391.45Z" fill="#ff2d00"/>
<path d="M610.84,386.85 L613.37,391.45 L608.31,391.45Z" fill="#ff2d00"/>
<line x1="638.38" y1="392.58" x2="638.38" y2="390.27" stroke="#000" stroke-width="1.6" />
<line x1="635.38" y1="390.27" x2="641.38" y2="390.27" stroke="#000" stroke-width="1.6" />
<path d="M638.38,383.76 L640.91,388.36 L635.85,388.36Z" fill="#000"/>
<path d="M640.58,386.85 L643.11,391.45 L638.05,391.45Z" fill="#000"/>
<path d="M635.98,389.17 L638.51,393.77 L633.45,393.77Z" fill="#000"/>
<path d="M640.78,391.49 L643.31,396.08 L638.25,396.08Z" fill="#000"/>
<path d="M635.98,394.58 L638.51,399.18 L633.45,399.18Z" fill="#000"/>
<path d="M640.78,397.67 L643.31,402.26 L638.25,402.26Z" fill="#000"/>
<line x1="652.40" y1="333.88" x2="652.40" y2="332.95" stroke="#1236ff" stroke-width="1.6" />
<line x1="649.40" y1="332.95" x2="655.40" y2="332.95" stroke="#1236ff" stroke-width="1.6" />
<circle cx="652.40" cy="331.56" r="2.3" fill="#1236ff"/>
<circle cx="654.60" cy="332.33" r="2.3" fill="#1236ff"/>
<circle cx="651.40" cy="333.10" r="2.3" fill="#1236ff"/>
<circle cx="653.90" cy="333.88" r="2.3" fill="#1236ff"/>
<circle cx="649.90" cy="334.65" r="2.3" fill="#1236ff"/>
<circle cx="652.90" cy="337.74" r="2.3" fill="#1236ff"/>
<line x1="666.42" y1="420.39" x2="666.42" y2="419.78" stroke="#ff2d00" stroke-width="1.6" />
<line x1="663.42" y1="419.78" x2="669.42" y2="419.78" stroke="#ff2d00" stroke-width="1.6" />
<path d="M666.42,414.66 L668.95,419.26 L663.89,419.26Z" fill="#ff2d00"/>
<path d="M668.62,416.21 L671.15,420.81 L666.09,420.81Z" fill="#ff2d00"/>
<path d="M665.42,416.98 L667.95,421.58 L662.89,421.58Z" fill="#ff2d00"/>
<path d="M667.92,417.75 L670.45,422.35 L665.39,422.35Z" fill="#ff2d00"/>
<path d="M663.92,418.52 L666.45,423.12 L661.39,423.12Z" fill="#ff2d00"/>
<path d="M666.92,418.83 L669.45,423.43 L664.39,423.43Z" fill="#ff2d00"/>
<circle cx="624.36" cy="465.20" r="2.4" fill="#000"/>
<path d="M577.80,305.30 V301.00 H609.30 V305.30" fill="none" stroke="#000" stroke-width="1.5"/>
<text x="594.85" y="304.23" font-family="Liberation Sans" font-size="17" font-weight="normal" text-anchor="middle" fill="#111" textLength="28.8" lengthAdjust="spacing">****</text>
<path d="M577.80,322.90 V318.60 H595.10 V322.90" fill="none" stroke="#000" stroke-width="1.5"/>
<text x="587.75" y="321.83" font-family="Liberation Sans" font-size="17" font-weight="normal" text-anchor="middle" fill="#111" textLength="28.8" lengthAdjust="spacing">****</text>
<path d="M633.70,304.50 V300.20 H665.30 V304.50" fill="none" stroke="#000" stroke-width="1.5"/>
<text x="650.80" y="303.43" font-family="Liberation Sans" font-size="17" font-weight="normal" text-anchor="middle" fill="#111" textLength="28.8" lengthAdjust="spacing">****</text>
<path d="M633.70,323.70 V319.40 H650.00 V323.70" fill="none" stroke="#000" stroke-width="1.5"/>
<text x="643.15" y="322.63" font-family="Liberation Sans" font-size="17" font-weight="normal" text-anchor="middle" fill="#111" textLength="28.8" lengthAdjust="spacing">****</text>
<text x="622.40" y="383.90" font-family="Liberation Sans" font-size="15.27" font-weight="bold" text-anchor="start" fill="#1a1a1a" stroke="#1a1a1a" stroke-width="0.25" textLength="29.2" lengthAdjust="spacingAndGlyphs">####</text>
<text x="656.00" y="411.50" font-family="Liberation Sans" font-size="15.42" font-weight="bold" text-anchor="start" fill="#1a1a1a" stroke="#1a1a1a" stroke-width="0.25" textLength="32.0" lengthAdjust="spacingAndGlyphs">####</text>
<text transform="translate(528.60,384.40) rotate(-90)" x="0" y="0" font-family="Liberation Serif" font-size="14.5" font-weight="bold" text-anchor="middle" stroke="#000" stroke-width="0.3" textLength="137" lengthAdjust="spacingAndGlyphs">Ejection Fraction (%)</text>
<line x1="373.60" y1="650.10" x2="373.60" y2="494.40" stroke="#262626" stroke-width="1.3" />
<line x1="368.80" y1="649.50" x2="373.60" y2="649.50" stroke="#262626" stroke-width="1.2" />
<text x="366.40" y="654.59" font-family="Liberation Serif" font-size="14" font-weight="bold" text-anchor="end" fill="#000" stroke="#000" stroke-width="0.3" textLength="6.7" lengthAdjust="spacingAndGlyphs">0</text>
<line x1="368.80" y1="618.60" x2="373.60" y2="618.60" stroke="#262626" stroke-width="1.2" />
<text x="366.40" y="623.69" font-family="Liberation Serif" font-size="14" font-weight="bold" text-anchor="end" fill="#000" stroke="#000" stroke-width="0.3" textLength="13.0" lengthAdjust="spacingAndGlyphs">10</text>
<line x1="368.80" y1="587.70" x2="373.60" y2="587.70" stroke="#262626" stroke-width="1.2" />
<text x="366.40" y="592.79" font-family="Liberation Serif" font-size="14" font-weight="bold" text-anchor="end" fill="#000" stroke="#000" stroke-width="0.3" textLength="13.0" lengthAdjust="spacingAndGlyphs">20</text>
<line x1="368.80" y1="556.80" x2="373.60" y2="556.80" stroke="#262626" stroke-width="1.2" />
<text x="366.40" y="561.88" font-family="Liberation Serif" font-size="14" font-weight="bold" text-anchor="end" fill="#000" stroke="#000" stroke-width="0.3" textLength="13.0" lengthAdjust="spacingAndGlyphs">30</text>
<line x1="368.80" y1="525.90" x2="373.60" y2="525.90" stroke="#262626" stroke-width="1.2" />
<text x="366.40" y="530.99" font-family="Liberation Serif" font-size="14" font-weight="bold" text-anchor="end" fill="#000" stroke="#000" stroke-width="0.3" textLength="13.0" lengthAdjust="spacingAndGlyphs">40</text>
<line x1="368.80" y1="495.00" x2="373.60" y2="495.00" stroke="#262626" stroke-width="1.2" />
<text x="366.40" y="500.08" font-family="Liberation Serif" font-size="14" font-weight="bold" text-anchor="end" fill="#000" stroke="#000" stroke-width="0.3" textLength="13.0" lengthAdjust="spacingAndGlyphs">50</text>
<rect x="378.70" y="556.80" width="7.8" height="92.70" fill="#fff"/>
<path d="M378.70,649.50 V556.80 H386.50 V649.50" fill="none" stroke="#000" stroke-width="1.8"/>
<rect x="392.72" y="539.81" width="7.8" height="109.69" fill="#fff"/>
<path d="M392.72,649.50 V539.81 H400.52 V649.50" fill="none" stroke="#1236ff" stroke-width="1.8"/>
<rect x="406.74" y="589.25" width="7.8" height="60.25" fill="#fff"/>
<path d="M406.74,649.50 V589.25 H414.54 V649.50" fill="none" stroke="#ff2d00" stroke-width="1.8"/>
<rect x="434.78" y="601.61" width="7.8" height="47.89" fill="#fff"/>
<path d="M434.78,649.50 V601.61 H442.58 V649.50" fill="none" stroke="#000" stroke-width="1.8"/>
<rect x="448.80" y="558.35" width="7.8" height="91.15" fill="#fff"/>
<path d="M448.80,649.50 V558.35 H456.60 V649.50" fill="none" stroke="#1236ff" stroke-width="1.8"/>
<rect x="462.82" y="620.14" width="7.8" height="29.36" fill="#fff"/>
<path d="M462.82,649.50 V620.14 H470.62 V649.50" fill="none" stroke="#ff2d00" stroke-width="1.8"/>
<line x1="373.00" y1="649.50" x2="477.10" y2="649.50" stroke="#262626" stroke-width="1.4" />
<line x1="382.60" y1="649.50" x2="382.60" y2="654.50" stroke="#262626" stroke-width="1.2" />
<line x1="396.62" y1="649.50" x2="396.62" y2="654.50" stroke="#262626" stroke-width="1.2" />
<line x1="410.64" y1="649.50" x2="410.64" y2="654.50" stroke="#262626" stroke-width="1.2" />
<line x1="424.66" y1="649.50" x2="424.66" y2="654.50" stroke="#262626" stroke-width="1.2" />
<line x1="438.68" y1="649.50" x2="438.68" y2="654.50" stroke="#262626" stroke-width="1.2" />
<line x1="452.70" y1="649.50" x2="452.70" y2="654.50" stroke="#262626" stroke-width="1.2" />
<line x1="466.72" y1="649.50" x2="466.72" y2="654.50" stroke="#262626" stroke-width="1.2" />
<line x1="382.60" y1="556.80" x2="382.60" y2="554.95" stroke="#000" stroke-width="1.6" />
<line x1="379.60" y1="554.95" x2="385.60" y2="554.95" stroke="#000" stroke-width="1.6" />
<circle cx="382.60" cy="550.62" r="2.3" fill="#000"/>
<circle cx="384.80" cy="552.16" r="2.3" fill="#000"/>
<circle cx="381.60" cy="553.71" r="2.3" fill="#000"/>
<circle cx="384.10" cy="555.25" r="2.3" fill="#000"/>
<circle cx="379.40" cy="558.35" r="2.3" fill="#000"/>
<circle cx="382.60" cy="562.98" r="2.3" fill="#000"/>
<line x1="396.62" y1="539.81" x2="396.62" y2="537.95" stroke="#1236ff" stroke-width="1.6" />
<line x1="393.62" y1="537.95" x2="399.62" y2="537.95" stroke="#1236ff" stroke-width="1.6" />
<path d="M396.62,529.44 L399.15,534.04 L394.09,534.04Z" fill="#1236ff"/>
<path d="M396.62,535.62 L399.15,540.22 L394.09,540.22Z" fill="#1236ff"/>
<path d="M395.62,537.16 L398.15,541.76 L393.09,541.76Z" fill="#1236ff"/>
<path d="M398.12,538.71 L400.65,543.31 L395.59,543.31Z" fill="#1236ff"/>
<path d="M394.12,539.32 L396.65,543.92 L391.59,543.92Z" fill="#1236ff"/>
<path d="M397.12,540.25 L399.65,544.85 L394.59,544.85Z" fill="#1236ff"/>
<line x1="410.64" y1="589.25" x2="410.64" y2="588.01" stroke="#ff2d00" stroke-width="1.6" />
<line x1="407.64" y1="588.01" x2="413.64" y2="588.01" stroke="#ff2d00" stroke-width="1.6" />
<path d="M410.64,583.51 L413.17,588.11 L408.11,588.11Z" fill="#ff2d00"/>
<path d="M412.84,585.06 L415.37,589.66 L410.31,589.66Z" fill="#ff2d00"/>
<path d="M409.64,585.67 L412.17,590.27 L407.11,590.27Z" fill="#ff2d00"/>
<path d="M412.14,586.60 L414.67,591.20 L409.61,591.20Z" fill="#ff2d00"/>
<path d="M408.14,588.14 L410.67,592.75 L405.61,592.75Z" fill="#ff2d00"/>
<path d="M413.04,591.24 L415.57,595.84 L410.51,595.84Z" fill="#ff2d00"/>
<line x1="438.68" y1="601.61" x2="438.68" y2="597.90" stroke="#000" stroke-width="1.6" />
<line x1="435.68" y1="597.90" x2="441.68" y2="597.90" stroke="#000" stroke-width="1.6" />
<path d="M438.68,588.14 L441.21,592.75 L436.15,592.75Z" fill="#000"/>
<path d="M438.68,592.78 L441.21,597.38 L436.15,597.38Z" fill="#000"/>
<path d="M438.68,597.41 L441.21,602.01 L436.15,602.01Z" fill="#000"/>
<path d="M440.18,600.50 L442.71,605.11 L437.65,605.11Z" fill="#000"/>
<path d="M435.48,603.60 L438.01,608.20 L432.95,608.20Z" fill="#000"/>
<path d="M441.08,605.14 L443.61,609.74 L438.55,609.74Z" fill="#000"/>
<line x1="452.70" y1="558.35" x2="452.70" y2="557.11" stroke="#1236ff" stroke-width="1.6" />
<line x1="449.70" y1="557.11" x2="455.70" y2="557.11" stroke="#1236ff" stroke-width="1.6" />
<circle cx="452.70" cy="556.80" r="2.3" fill="#1236ff"/>
<circle cx="454.90" cy="557.42" r="2.3" fill="#1236ff"/>
<circle cx="451.70" cy="558.04" r="2.3" fill="#1236ff"/>
<circle cx="454.20" cy="558.65" r="2.3" fill="#1236ff"/>
<circle cx="450.20" cy="559.89" r="2.3" fill="#1236ff"/>
<circle cx="452.70" cy="566.07" r="2.3" fill="#1236ff"/>
<line x1="466.72" y1="620.14" x2="466.72" y2="619.22" stroke="#ff2d00" stroke-width="1.6" />
<line x1="463.72" y1="619.22" x2="469.72" y2="619.22" stroke="#ff2d00" stroke-width="1.6" />
<path d="M466.72,615.96 L469.25,620.56 L464.19,620.56Z" fill="#ff2d00"/>
<path d="M468.92,616.57 L471.45,621.17 L466.39,621.17Z" fill="#ff2d00"/>
<path d="M465.72,617.19 L468.25,621.79 L463.19,621.79Z" fill="#ff2d00"/>
<path d="M468.22,617.81 L470.75,622.41 L465.69,622.41Z" fill="#ff2d00"/>
<path d="M464.22,618.43 L466.75,623.03 L461.69,623.03Z" fill="#ff2d00"/>
<path d="M466.72,623.68 L469.25,628.28 L464.19,628.28Z" fill="#ff2d00"/>
<circle cx="424.66" cy="649.50" r="2.4" fill="#000"/>
<path d="M379.30,504.50 V500.20 H410.40 V504.50" fill="none" stroke="#000" stroke-width="1.5"/>
<text x="396.15" y="503.43" font-family="Liberation Sans" font-size="17" font-weight="normal" text-anchor="middle" fill="#111" textLength="28.8" lengthAdjust="spacing">****</text>
<path d="M379.30,522.90 V518.60 H396.70 V522.90" fill="none" stroke="#000" stroke-width="1.5"/>
<text x="389.30" y="521.83" font-family="Liberation Sans" font-size="17" font-weight="normal" text-anchor="middle" fill="#111" textLength="28.8" lengthAdjust="spacing">****</text>
<path d="M435.30,519.00 V514.70 H466.80 V519.00" fill="none" stroke="#000" stroke-width="1.5"/>
<text x="452.35" y="517.93" font-family="Liberation Sans" font-size="17" font-weight="normal" text-anchor="middle" fill="#111" textLength="28.8" lengthAdjust="spacing">****</text>
<path d="M435.30,538.70 V534.40 H451.90 V538.70" fill="none" stroke="#000" stroke-width="1.5"/>
<text x="444.90" y="537.63" font-family="Liberation Sans" font-size="17" font-weight="normal" text-anchor="middle" fill="#111" textLength="28.8" lengthAdjust="spacing">****</text>
<text x="438.00" y="551.70" font-family="Liberation Sans" font-size="13.36" font-weight="bold" text-anchor="start" fill="#1a1a1a" stroke="#1a1a1a" stroke-width="0.25" textLength="28.8" lengthAdjust="spacingAndGlyphs">####</text>
<text x="423.50" y="589.70" font-family="Liberation Sans" font-size="13.22" font-weight="bold" text-anchor="start" fill="#1a1a1a" stroke="#1a1a1a" stroke-width="0.25" textLength="28.9" lengthAdjust="spacingAndGlyphs">####</text>
<text x="452.40" y="616.00" font-family="Liberation Sans" font-size="15.27" font-weight="bold" text-anchor="start" fill="#1a1a1a" stroke="#1a1a1a" stroke-width="0.25" textLength="28.6" lengthAdjust="spacingAndGlyphs">####</text>
<text transform="translate(332.00,568.50) rotate(-90)" x="0" y="0" font-family="Liberation Serif" font-size="14.5" font-weight="bold" text-anchor="middle" stroke="#000" stroke-width="0.3" textLength="123.5" lengthAdjust="spacingAndGlyphs">Stroke Volume (µL)</text>
<line x1="573.10" y1="650.10" x2="573.10" y2="494.40" stroke="#262626" stroke-width="1.3" />
<line x1="568.30" y1="649.50" x2="573.10" y2="649.50" stroke="#262626" stroke-width="1.2" />
<text x="565.90" y="654.59" font-family="Liberation Serif" font-size="14" font-weight="bold" text-anchor="end" fill="#000" stroke="#000" stroke-width="0.3" textLength="6.7" lengthAdjust="spacingAndGlyphs">0</text>
<line x1="568.30" y1="618.60" x2="573.10" y2="618.60" stroke="#262626" stroke-width="1.2" />
<text x="565.90" y="623.69" font-family="Liberation Serif" font-size="14" font-weight="bold" text-anchor="end" fill="#000" stroke="#000" stroke-width="0.3" textLength="13.0" lengthAdjust="spacingAndGlyphs">10</text>
<line x1="568.30" y1="587.70" x2="573.10" y2="587.70" stroke="#262626" stroke-width="1.2" />
<text x="565.90" y="592.79" font-family="Liberation Serif" font-size="14" font-weight="bold" text-anchor="end" fill="#000" stroke="#000" stroke-width="0.3" textLength="13.0" lengthAdjust="spacingAndGlyphs">20</text>
<line x1="568.30" y1="556.80" x2="573.10" y2="556.80" stroke="#262626" stroke-width="1.2" />
<text x="565.90" y="561.88" font-family="Liberation Serif" font-size="14" font-weight="bold" text-anchor="end" fill="#000" stroke="#000" stroke-width="0.3" textLength="13.0" lengthAdjust="spacingAndGlyphs">30</text>
<line x1="568.30" y1="525.90" x2="573.10" y2="525.90" stroke="#262626" stroke-width="1.2" />
<text x="565.90" y="530.99" font-family="Liberation Serif" font-size="14" font-weight="bold" text-anchor="end" fill="#000" stroke="#000" stroke-width="0.3" textLength="13.0" lengthAdjust="spacingAndGlyphs">40</text>
<line x1="568.30" y1="495.00" x2="573.10" y2="495.00" stroke="#262626" stroke-width="1.2" />
<text x="565.90" y="500.08" font-family="Liberation Serif" font-size="14" font-weight="bold" text-anchor="end" fill="#000" stroke="#000" stroke-width="0.3" textLength="13.0" lengthAdjust="spacingAndGlyphs">50</text>
<rect x="578.50" y="555.25" width="7.8" height="94.25" fill="#fff"/>
<path d="M578.50,649.50 V555.25 H586.30 V649.50" fill="none" stroke="#000" stroke-width="1.8"/>
<rect x="592.52" y="542.89" width="7.8" height="106.61" fill="#fff"/>
<path d="M592.52,649.50 V542.89 H600.32 V649.50" fill="none" stroke="#1236ff" stroke-width="1.8"/>
<rect x="606.54" y="587.70" width="7.8" height="61.80" fill="#fff"/>
<path d="M606.54,649.50 V587.70 H614.34 V649.50" fill="none" stroke="#ff2d00" stroke-width="1.8"/>
<rect x="634.58" y="600.06" width="7.8" height="49.44" fill="#fff"/>
<path d="M634.58,649.50 V600.06 H642.38 V649.50" fill="none" stroke="#000" stroke-width="1.8"/>
<rect x="648.60" y="559.89" width="7.8" height="89.61" fill="#fff"/>
<path d="M648.60,649.50 V559.89 H656.40 V649.50" fill="none" stroke="#1236ff" stroke-width="1.8"/>
<rect x="662.62" y="618.60" width="7.8" height="30.90" fill="#fff"/>
<path d="M662.62,649.50 V618.60 H670.42 V649.50" fill="none" stroke="#ff2d00" stroke-width="1.8"/>
<line x1="572.50" y1="649.50" x2="676.60" y2="649.50" stroke="#262626" stroke-width="1.4" />
<line x1="582.40" y1="649.50" x2="582.40" y2="654.50" stroke="#262626" stroke-width="1.2" />
<line x1="596.42" y1="649.50" x2="596.42" y2="654.50" stroke="#262626" stroke-width="1.2" />
<line x1="610.44" y1="649.50" x2="610.44" y2="654.50" stroke="#262626" stroke-width="1.2" />
<line x1="624.46" y1="649.50" x2="624.46" y2="654.50" stroke="#262626" stroke-width="1.2" />
<line x1="638.48" y1="649.50" x2="638.48" y2="654.50" stroke="#262626" stroke-width="1.2" />
<line x1="652.50" y1="649.50" x2="652.50" y2="654.50" stroke="#262626" stroke-width="1.2" />
<line x1="666.52" y1="649.50" x2="666.52" y2="654.50" stroke="#262626" stroke-width="1.2" />
<line x1="582.40" y1="555.25" x2="582.40" y2="554.33" stroke="#000" stroke-width="1.6" />
<line x1="579.40" y1="554.33" x2="585.40" y2="554.33" stroke="#000" stroke-width="1.6" />
<circle cx="582.40" cy="552.16" r="2.3" fill="#000"/>
<circle cx="584.60" cy="553.71" r="2.3" fill="#000"/>
<circle cx="581.40" cy="554.33" r="2.3" fill="#000"/>
<circle cx="583.90" cy="555.25" r="2.3" fill="#000"/>
<circle cx="579.90" cy="556.18" r="2.3" fill="#000"/>
<circle cx="582.90" cy="556.80" r="2.3" fill="#000"/>
<line x1="596.42" y1="542.89" x2="596.42" y2="541.66" stroke="#1236ff" stroke-width="1.6" />
<line x1="593.42" y1="541.66" x2="599.42" y2="541.66" stroke="#1236ff" stroke-width="1.6" />
<path d="M596.42,537.16 L598.95,541.76 L593.89,541.76Z" fill="#1236ff"/>
<path d="M598.62,538.71 L601.15,543.31 L596.09,543.31Z" fill="#1236ff"/>
<path d="M595.42,539.32 L597.95,543.92 L592.89,543.92Z" fill="#1236ff"/>
<path d="M597.92,540.25 L600.45,544.85 L595.39,544.85Z" fill="#1236ff"/>
<path d="M593.92,541.80 L596.45,546.40 L591.39,546.40Z" fill="#1236ff"/>
<path d="M598.82,544.88 L601.35,549.49 L596.29,549.49Z" fill="#1236ff"/>
<line x1="610.44" y1="587.70" x2="610.44" y2="586.46" stroke="#ff2d00" stroke-width="1.6" />
<line x1="607.44" y1="586.46" x2="613.44" y2="586.46" stroke="#ff2d00" stroke-width="1.6" />
<path d="M610.44,578.88 L612.97,583.48 L607.91,583.48Z" fill="#ff2d00"/>
<path d="M610.44,583.51 L612.97,588.11 L607.91,588.11Z" fill="#ff2d00"/>
<path d="M609.44,584.44 L611.97,589.04 L606.91,589.04Z" fill="#ff2d00"/>
<path d="M611.94,585.06 L614.47,589.66 L609.41,589.66Z" fill="#ff2d00"/>
<path d="M607.94,585.67 L610.47,590.27 L605.41,590.27Z" fill="#ff2d00"/>
<path d="M610.94,586.60 L613.47,591.20 L608.41,591.20Z" fill="#ff2d00"/>
<line x1="638.48" y1="600.06" x2="638.48" y2="598.51" stroke="#000" stroke-width="1.6" />
<line x1="635.48" y1="598.51" x2="641.48" y2="598.51" stroke="#000" stroke-width="1.6" />
<path d="M638.48,592.78 L641.01,597.38 L635.95,597.38Z" fill="#000"/>
<path d="M640.68,594.33 L643.21,598.93 L638.15,598.93Z" fill="#000"/>
<path d="M637.48,595.87 L640.01,600.47 L634.95,600.47Z" fill="#000"/>
<path d="M639.98,597.41 L642.51,602.01 L637.45,602.01Z" fill="#000"/>
<path d="M635.98,598.96 L638.51,603.56 L633.45,603.56Z" fill="#000"/>
<path d="M638.98,600.50 L641.51,605.11 L636.45,605.11Z" fill="#000"/>
<line x1="652.50" y1="559.89" x2="652.50" y2="558.65" stroke="#1236ff" stroke-width="1.6" />
<line x1="649.50" y1="558.65" x2="655.50" y2="558.65" stroke="#1236ff" stroke-width="1.6" />
<circle cx="652.50" cy="557.42" r="2.3" fill="#1236ff"/>
<circle cx="654.70" cy="558.35" r="2.3" fill="#1236ff"/>
<circle cx="651.50" cy="558.96" r="2.3" fill="#1236ff"/>
<circle cx="654.00" cy="559.89" r="2.3" fill="#1236ff"/>
<circle cx="650.00" cy="561.43" r="2.3" fill="#1236ff"/>
<circle cx="652.50" cy="566.07" r="2.3" fill="#1236ff"/>
<line x1="666.52" y1="618.60" x2="666.52" y2="617.98" stroke="#ff2d00" stroke-width="1.6" />
<line x1="663.52" y1="617.98" x2="669.52" y2="617.98" stroke="#ff2d00" stroke-width="1.6" />
<path d="M666.52,614.41 L669.05,619.01 L663.99,619.01Z" fill="#ff2d00"/>
<path d="M668.72,615.03 L671.25,619.63 L666.19,619.63Z" fill="#ff2d00"/>
<path d="M665.52,615.34 L668.05,619.94 L662.99,619.94Z" fill="#ff2d00"/>
<path d="M668.02,615.96 L670.55,620.56 L665.49,620.56Z" fill="#ff2d00"/>
<path d="M664.02,616.57 L666.55,621.17 L661.49,621.17Z" fill="#ff2d00"/>
<path d="M667.02,617.19 L669.55,621.79 L664.49,621.79Z" fill="#ff2d00"/>
<circle cx="624.46" cy="649.50" r="2.4" fill="#000"/>
<path d="M581.20,508.50 V504.20 H612.20 V508.50" fill="none" stroke="#000" stroke-width="1.5"/>
<text x="598.00" y="507.43" font-family="Liberation Sans" font-size="17" font-weight="normal" text-anchor="middle" fill="#111" textLength="28.8" lengthAdjust="spacing">****</text>
<path d="M581.20,526.80 V522.50 H596.40 V526.80" fill="none" stroke="#000" stroke-width="1.5"/>
<text x="590.10" y="525.73" font-family="Liberation Sans" font-size="17" font-weight="normal" text-anchor="middle" fill="#111" textLength="28.8" lengthAdjust="spacing">****</text>
<path d="M630.60,518.40 V514.10 H661.90 V518.40" fill="none" stroke="#000" stroke-width="1.5"/>
<text x="647.55" y="517.33" font-family="Liberation Sans" font-size="17" font-weight="normal" text-anchor="middle" fill="#111" textLength="28.8" lengthAdjust="spacing">****</text>
<path d="M630.60,537.40 V533.10 H656.60 V537.40" fill="none" stroke="#000" stroke-width="1.5"/>
<text x="644.90" y="536.33" font-family="Liberation Sans" font-size="17" font-weight="normal" text-anchor="middle" fill="#111" textLength="28.8" lengthAdjust="spacing">****</text>
<text x="640.80" y="550.30" font-family="Liberation Sans" font-size="13.22" font-weight="bold" text-anchor="start" fill="#1a1a1a" stroke="#1a1a1a" stroke-width="0.25" textLength="28.9" lengthAdjust="spacingAndGlyphs">####</text>
<text x="625.30" y="589.70" font-family="Liberation Sans" font-size="13.22" font-weight="bold" text-anchor="start" fill="#1a1a1a" stroke="#1a1a1a" stroke-width="0.25" textLength="28.7" lengthAdjust="spacingAndGlyphs">####</text>
<text x="652.90" y="611.60" font-family="Liberation Sans" font-size="14.54" font-weight="bold" text-anchor="start" fill="#1a1a1a" stroke="#1a1a1a" stroke-width="0.25" textLength="28.9" lengthAdjust="spacingAndGlyphs">####</text>
<text transform="translate(528.60,568.50) rotate(-90)" x="0" y="0" font-family="Liberation Serif" font-size="14.5" font-weight="bold" text-anchor="middle" stroke="#000" stroke-width="0.3" textLength="123.5" lengthAdjust="spacingAndGlyphs">Stroke Volume (µL)</text>
<line x1="373.10" y1="846.10" x2="373.10" y2="689.90" stroke="#262626" stroke-width="1.3" />
<line x1="368.30" y1="845.50" x2="373.10" y2="845.50" stroke="#262626" stroke-width="1.2" />
<text x="365.90" y="850.59" font-family="Liberation Serif" font-size="14" font-weight="bold" text-anchor="end" fill="#000" stroke="#000" stroke-width="0.3" textLength="6.7" lengthAdjust="spacingAndGlyphs">0</text>
<line x1="368.30" y1="814.50" x2="373.10" y2="814.50" stroke="#262626" stroke-width="1.2" />
<text x="365.90" y="819.59" font-family="Liberation Serif" font-size="14" font-weight="bold" text-anchor="end" fill="#000" stroke="#000" stroke-width="0.3" textLength="25.6" lengthAdjust="spacingAndGlyphs">2000</text>
<line x1="368.30" y1="783.50" x2="373.10" y2="783.50" stroke="#262626" stroke-width="1.2" />
<text x="365.90" y="788.59" font-family="Liberation Serif" font-size="14" font-weight="bold" text-anchor="end" fill="#000" stroke="#000" stroke-width="0.3" textLength="25.6" lengthAdjust="spacingAndGlyphs">4000</text>
<line x1="368.30" y1="752.50" x2="373.10" y2="752.50" stroke="#262626" stroke-width="1.2" />
<text x="365.90" y="757.59" font-family="Liberation Serif" font-size="14" font-weight="bold" text-anchor="end" fill="#000" stroke="#000" stroke-width="0.3" textLength="25.6" lengthAdjust="spacingAndGlyphs">6000</text>
<line x1="368.30" y1="721.50" x2="373.10" y2="721.50" stroke="#262626" stroke-width="1.2" />
<text x="365.90" y="726.59" font-family="Liberation Serif" font-size="14" font-weight="bold" text-anchor="end" fill="#000" stroke="#000" stroke-width="0.3" textLength="25.6" lengthAdjust="spacingAndGlyphs">8000</text>
<line x1="368.30" y1="690.50" x2="373.10" y2="690.50" stroke="#262626" stroke-width="1.2" />
<text x="365.90" y="695.59" font-family="Liberation Serif" font-size="14" font-weight="bold" text-anchor="end" fill="#000" stroke="#000" stroke-width="0.3" textLength="31.9" lengthAdjust="spacingAndGlyphs">10000</text>
<rect x="378.30" y="781.95" width="7.8" height="63.55" fill="#fff"/>
<path d="M378.30,845.50 V781.95 H386.10 V845.50" fill="none" stroke="#000" stroke-width="1.8"/>
<rect x="392.32" y="718.40" width="7.8" height="127.10" fill="#fff"/>
<path d="M392.32,845.50 V718.40 H400.12 V845.50" fill="none" stroke="#1236ff" stroke-width="1.8"/>
<rect x="406.34" y="819.92" width="7.8" height="25.58" fill="#fff"/>
<path d="M406.34,845.50 V819.92 H414.14 V845.50" fill="none" stroke="#ff2d00" stroke-width="1.8"/>
<rect x="434.38" y="811.40" width="7.8" height="34.10" fill="#fff"/>
<path d="M434.38,845.50 V811.40 H442.18 V845.50" fill="none" stroke="#000" stroke-width="1.8"/>
<rect x="448.40" y="743.20" width="7.8" height="102.30" fill="#fff"/>
<path d="M448.40,845.50 V743.20 H456.20 V845.50" fill="none" stroke="#1236ff" stroke-width="1.8"/>
<rect x="462.42" y="833.10" width="7.8" height="12.40" fill="#fff"/>
<path d="M462.42,845.50 V833.10 H470.22 V845.50" fill="none" stroke="#ff2d00" stroke-width="1.8"/>
<line x1="372.50" y1="845.50" x2="476.60" y2="845.50" stroke="#262626" stroke-width="1.4" />
<line x1="382.20" y1="845.50" x2="382.20" y2="850.50" stroke="#262626" stroke-width="1.2" />
<line x1="396.22" y1="845.50" x2="396.22" y2="850.50" stroke="#262626" stroke-width="1.2" />
<line x1="410.24" y1="845.50" x2="410.24" y2="850.50" stroke="#262626" stroke-width="1.2" />
<line x1="424.26" y1="845.50" x2="424.26" y2="850.50" stroke="#262626" stroke-width="1.2" />
<line x1="438.28" y1="845.50" x2="438.28" y2="850.50" stroke="#262626" stroke-width="1.2" />
<line x1="452.30" y1="845.50" x2="452.30" y2="850.50" stroke="#262626" stroke-width="1.2" />
<line x1="466.32" y1="845.50" x2="466.32" y2="850.50" stroke="#262626" stroke-width="1.2" />
<line x1="382.20" y1="781.95" x2="382.20" y2="779.62" stroke="#000" stroke-width="1.6" />
<line x1="379.20" y1="779.62" x2="385.20" y2="779.62" stroke="#000" stroke-width="1.6" />
<circle cx="382.20" cy="777.30" r="2.3" fill="#000"/>
<circle cx="384.40" cy="778.85" r="2.3" fill="#000"/>
<circle cx="381.20" cy="781.17" r="2.3" fill="#000"/>
<circle cx="383.70" cy="782.73" r="2.3" fill="#000"/>
<circle cx="379.70" cy="785.05" r="2.3" fill="#000"/>
<circle cx="384.60" cy="788.15" r="2.3" fill="#000"/>
<line x1="396.22" y1="718.40" x2="396.22" y2="715.30" stroke="#1236ff" stroke-width="1.6" />
<line x1="393.22" y1="715.30" x2="399.22" y2="715.30" stroke="#1236ff" stroke-width="1.6" />
<path d="M396.22,703.36 L398.75,707.96 L393.69,707.96Z" fill="#1236ff"/>
<path d="M396.22,711.11 L398.75,715.71 L393.69,715.71Z" fill="#1236ff"/>
<path d="M395.22,714.21 L397.75,718.81 L392.69,718.81Z" fill="#1236ff"/>
<path d="M397.72,717.31 L400.25,721.91 L395.19,721.91Z" fill="#1236ff"/>
<path d="M393.02,718.86 L395.55,723.46 L390.49,723.46Z" fill="#1236ff"/>
<path d="M396.72,720.40 L399.25,725.00 L394.19,725.00Z" fill="#1236ff"/>
<line x1="410.24" y1="819.92" x2="410.24" y2="819.00" stroke="#ff2d00" stroke-width="1.6" />
<line x1="407.24" y1="819.00" x2="413.24" y2="819.00" stroke="#ff2d00" stroke-width="1.6" />
<path d="M410.24,814.96 L412.77,819.56 L407.71,819.56Z" fill="#ff2d00"/>
<path d="M412.44,815.73 L414.97,820.33 L409.91,820.33Z" fill="#ff2d00"/>
<path d="M409.24,816.50 L411.77,821.11 L406.71,821.11Z" fill="#ff2d00"/>
<path d="M411.74,817.28 L414.27,821.88 L409.21,821.88Z" fill="#ff2d00"/>
<path d="M407.74,818.06 L410.27,822.66 L405.21,822.66Z" fill="#ff2d00"/>
<path d="M410.74,818.83 L413.27,823.43 L408.21,823.43Z" fill="#ff2d00"/>
<line x1="438.28" y1="811.40" x2="438.28" y2="809.08" stroke="#000" stroke-width="1.6" />
<line x1="435.28" y1="809.08" x2="441.28" y2="809.08" stroke="#000" stroke-width="1.6" />
<path d="M438.28,801.00 L440.81,805.61 L435.75,805.61Z" fill="#000"/>
<path d="M440.48,804.11 L443.01,808.71 L437.95,808.71Z" fill="#000"/>
<path d="M435.88,807.21 L438.41,811.81 L433.35,811.81Z" fill="#000"/>
<path d="M440.68,810.31 L443.21,814.91 L438.15,814.91Z" fill="#000"/>
<path d="M435.88,811.86 L438.41,816.46 L433.35,816.46Z" fill="#000"/>
<path d="M438.78,813.40 L441.31,818.00 L436.25,818.00Z" fill="#000"/>
<line x1="452.30" y1="743.20" x2="452.30" y2="739.33" stroke="#1236ff" stroke-width="1.6" />
<line x1="449.30" y1="739.33" x2="455.30" y2="739.33" stroke="#1236ff" stroke-width="1.6" />
<circle cx="452.30" cy="734.67" r="2.3" fill="#1236ff"/>
<circle cx="454.50" cy="737.00" r="2.3" fill="#1236ff"/>
<circle cx="451.30" cy="738.55" r="2.3" fill="#1236ff"/>
<circle cx="452.30" cy="744.75" r="2.3" fill="#1236ff"/>
<circle cx="452.30" cy="749.40" r="2.3" fill="#1236ff"/>
<circle cx="452.30" cy="757.15" r="2.3" fill="#1236ff"/>
<line x1="466.32" y1="833.10" x2="466.32" y2="832.48" stroke="#ff2d00" stroke-width="1.6" />
<line x1="463.32" y1="832.48" x2="469.32" y2="832.48" stroke="#ff2d00" stroke-width="1.6" />
<path d="M466.32,829.68 L468.85,834.28 L463.79,834.28Z" fill="#ff2d00"/>
<path d="M468.52,829.99 L471.05,834.59 L465.99,834.59Z" fill="#ff2d00"/>
<path d="M465.32,830.30 L467.85,834.90 L462.79,834.90Z" fill="#ff2d00"/>
<path d="M467.82,830.61 L470.35,835.21 L465.29,835.21Z" fill="#ff2d00"/>
<path d="M463.82,830.92 L466.35,835.52 L461.29,835.52Z" fill="#ff2d00"/>
<path d="M466.82,833.56 L469.35,838.16 L464.29,838.16Z" fill="#ff2d00"/>
<circle cx="424.26" cy="845.50" r="2.4" fill="#000"/>
<path d="M378.30,684.80 V680.50 H410.40 V684.80" fill="none" stroke="#000" stroke-width="1.5"/>
<text x="395.65" y="683.73" font-family="Liberation Sans" font-size="17" font-weight="normal" text-anchor="middle" fill="#111" textLength="28.8" lengthAdjust="spacing">****</text>
<path d="M380.10,701.90 V697.60 H396.70 V701.90" fill="none" stroke="#000" stroke-width="1.5"/>
<text x="389.70" y="700.83" font-family="Liberation Sans" font-size="17" font-weight="normal" text-anchor="middle" fill="#111" textLength="28.8" lengthAdjust="spacing">****</text>
<path d="M435.30,708.50 V704.20 H466.30 V708.50" fill="none" stroke="#000" stroke-width="1.5"/>
<text x="452.10" y="707.43" font-family="Liberation Sans" font-size="17" font-weight="normal" text-anchor="middle" fill="#111" textLength="28.8" lengthAdjust="spacing">****</text>
<path d="M435.30,729.50 V725.20 H451.60 V729.50" fill="none" stroke="#000" stroke-width="1.5"/>
<text x="444.75" y="728.43" font-family="Liberation Sans" font-size="17" font-weight="normal" text-anchor="middle" fill="#111" textLength="28.8" lengthAdjust="spacing">****</text>
<text x="425.30" y="802.90" font-family="Liberation Sans" font-size="15.27" font-weight="bold" text-anchor="start" fill="#1a1a1a" stroke="#1a1a1a" stroke-width="0.25" textLength="29.2" lengthAdjust="spacingAndGlyphs">####</text>
<text x="455.50" y="826.50" font-family="Liberation Sans" font-size="13.36" font-weight="bold" text-anchor="start" fill="#1a1a1a" stroke="#1a1a1a" stroke-width="0.25" textLength="29.5" lengthAdjust="spacingAndGlyphs">####</text>
<text transform="translate(327.00,768.30) rotate(-90)" x="0" y="0" font-family="Liberation Serif" font-size="14.5" font-weight="bold" text-anchor="middle" stroke="#000" stroke-width="0.3" textLength="161" lengthAdjust="spacingAndGlyphs">Cardiac Output (µL/min)</text>
<line x1="572.50" y1="846.90" x2="572.50" y2="690.90" stroke="#262626" stroke-width="1.3" />
<line x1="567.70" y1="846.30" x2="572.50" y2="846.30" stroke="#262626" stroke-width="1.2" />
<text x="565.30" y="851.38" font-family="Liberation Serif" font-size="14" font-weight="bold" text-anchor="end" fill="#000" stroke="#000" stroke-width="0.3" textLength="6.7" lengthAdjust="spacingAndGlyphs">0</text>
<line x1="567.70" y1="815.34" x2="572.50" y2="815.34" stroke="#262626" stroke-width="1.2" />
<text x="565.30" y="820.42" font-family="Liberation Serif" font-size="14" font-weight="bold" text-anchor="end" fill="#000" stroke="#000" stroke-width="0.3" textLength="25.6" lengthAdjust="spacingAndGlyphs">2000</text>
<line x1="567.70" y1="784.38" x2="572.50" y2="784.38" stroke="#262626" stroke-width="1.2" />
<text x="565.30" y="789.47" font-family="Liberation Serif" font-size="14" font-weight="bold" text-anchor="end" fill="#000" stroke="#000" stroke-width="0.3" textLength="25.6" lengthAdjust="spacingAndGlyphs">4000</text>
<line x1="567.70" y1="753.42" x2="572.50" y2="753.42" stroke="#262626" stroke-width="1.2" />
<text x="565.30" y="758.50" font-family="Liberation Serif" font-size="14" font-weight="bold" text-anchor="end" fill="#000" stroke="#000" stroke-width="0.3" textLength="25.6" lengthAdjust="spacingAndGlyphs">6000</text>
<line x1="567.70" y1="722.46" x2="572.50" y2="722.46" stroke="#262626" stroke-width="1.2" />
<text x="565.30" y="727.54" font-family="Liberation Serif" font-size="14" font-weight="bold" text-anchor="end" fill="#000" stroke="#000" stroke-width="0.3" textLength="25.6" lengthAdjust="spacingAndGlyphs">8000</text>
<line x1="567.70" y1="691.50" x2="572.50" y2="691.50" stroke="#262626" stroke-width="1.2" />
<text x="565.30" y="696.59" font-family="Liberation Serif" font-size="14" font-weight="bold" text-anchor="end" fill="#000" stroke="#000" stroke-width="0.3" textLength="31.9" lengthAdjust="spacingAndGlyphs">10000</text>
<rect x="578.00" y="783.61" width="7.8" height="62.69" fill="#fff"/>
<path d="M578.00,846.30 V783.61 H585.80 V846.30" fill="none" stroke="#000" stroke-width="1.8"/>
<rect x="592.02" y="722.46" width="7.8" height="123.84" fill="#fff"/>
<path d="M592.02,846.30 V722.46 H599.82 V846.30" fill="none" stroke="#1236ff" stroke-width="1.8"/>
<rect x="606.04" y="822.31" width="7.8" height="23.99" fill="#fff"/>
<path d="M606.04,846.30 V822.31 H613.84 V846.30" fill="none" stroke="#ff2d00" stroke-width="1.8"/>
<rect x="634.08" y="814.57" width="7.8" height="31.73" fill="#fff"/>
<path d="M634.08,846.30 V814.57 H641.88 V846.30" fill="none" stroke="#000" stroke-width="1.8"/>
<rect x="648.10" y="741.04" width="7.8" height="105.26" fill="#fff"/>
<path d="M648.10,846.30 V741.04 H655.90 V846.30" fill="none" stroke="#1236ff" stroke-width="1.8"/>
<rect x="662.12" y="833.92" width="7.8" height="12.38" fill="#fff"/>
<path d="M662.12,846.30 V833.92 H669.92 V846.30" fill="none" stroke="#ff2d00" stroke-width="1.8"/>
<line x1="571.90" y1="846.30" x2="676.00" y2="846.30" stroke="#262626" stroke-width="1.4" />
<line x1="581.90" y1="846.30" x2="581.90" y2="851.30" stroke="#262626" stroke-width="1.2" />
<line x1="595.92" y1="846.30" x2="595.92" y2="851.30" stroke="#262626" stroke-width="1.2" />
<line x1="609.94" y1="846.30" x2="609.94" y2="851.30" stroke="#262626" stroke-width="1.2" />
<line x1="623.96" y1="846.30" x2="623.96" y2="851.30" stroke="#262626" stroke-width="1.2" />
<line x1="637.98" y1="846.30" x2="637.98" y2="851.30" stroke="#262626" stroke-width="1.2" />
<line x1="652.00" y1="846.30" x2="652.00" y2="851.30" stroke="#262626" stroke-width="1.2" />
<line x1="666.02" y1="846.30" x2="666.02" y2="851.30" stroke="#262626" stroke-width="1.2" />
<line x1="581.90" y1="783.61" x2="581.90" y2="782.37" stroke="#000" stroke-width="1.6" />
<line x1="578.90" y1="782.37" x2="584.90" y2="782.37" stroke="#000" stroke-width="1.6" />
<circle cx="581.90" cy="780.51" r="2.3" fill="#000"/>
<circle cx="584.10" cy="781.28" r="2.3" fill="#000"/>
<circle cx="580.90" cy="782.83" r="2.3" fill="#000"/>
<circle cx="583.40" cy="784.38" r="2.3" fill="#000"/>
<circle cx="579.40" cy="785.15" r="2.3" fill="#000"/>
<circle cx="582.40" cy="785.93" r="2.3" fill="#000"/>
<line x1="595.92" y1="722.46" x2="595.92" y2="717.04" stroke="#1236ff" stroke-width="1.6" />
<line x1="592.92" y1="717.04" x2="598.92" y2="717.04" stroke="#1236ff" stroke-width="1.6" />
<path d="M595.92,707.43 L598.45,712.03 L593.39,712.03Z" fill="#1236ff"/>
<path d="M598.12,710.53 L600.65,715.13 L595.59,715.13Z" fill="#1236ff"/>
<path d="M595.92,715.17 L598.45,719.77 L593.39,719.77Z" fill="#1236ff"/>
<path d="M595.92,727.55 L598.45,732.15 L593.39,732.15Z" fill="#1236ff"/>
<path d="M593.42,729.10 L595.95,733.70 L590.89,733.70Z" fill="#1236ff"/>
<path d="M596.42,730.65 L598.95,735.25 L593.89,735.25Z" fill="#1236ff"/>
<line x1="609.94" y1="822.31" x2="609.94" y2="821.22" stroke="#ff2d00" stroke-width="1.6" />
<line x1="606.94" y1="821.22" x2="612.94" y2="821.22" stroke="#ff2d00" stroke-width="1.6" />
<path d="M609.94,815.79 L612.47,820.39 L607.41,820.39Z" fill="#ff2d00"/>
<path d="M612.14,817.34 L614.67,821.94 L609.61,821.94Z" fill="#ff2d00"/>
<path d="M608.94,818.89 L611.47,823.49 L606.41,823.49Z" fill="#ff2d00"/>
<path d="M611.44,820.43 L613.97,825.03 L608.91,825.03Z" fill="#ff2d00"/>
<path d="M607.44,821.21 L609.97,825.81 L604.91,825.81Z" fill="#ff2d00"/>
<path d="M610.44,821.98 L612.97,826.58 L607.91,826.58Z" fill="#ff2d00"/>
<line x1="637.98" y1="814.57" x2="637.98" y2="813.79" stroke="#000" stroke-width="1.6" />
<line x1="634.98" y1="813.79" x2="640.98" y2="813.79" stroke="#000" stroke-width="1.6" />
<path d="M637.98,810.37 L640.51,814.97 L635.45,814.97Z" fill="#000"/>
<path d="M640.18,811.15 L642.71,815.75 L637.65,815.75Z" fill="#000"/>
<path d="M636.98,811.92 L639.51,816.52 L634.45,816.52Z" fill="#000"/>
<path d="M639.48,812.69 L642.01,817.29 L636.95,817.29Z" fill="#000"/>
<path d="M635.48,813.47 L638.01,818.07 L632.95,818.07Z" fill="#000"/>
<path d="M638.48,814.24 L641.01,818.84 L635.95,818.84Z" fill="#000"/>
<line x1="652.00" y1="741.04" x2="652.00" y2="738.71" stroke="#1236ff" stroke-width="1.6" />
<line x1="649.00" y1="738.71" x2="655.00" y2="738.71" stroke="#1236ff" stroke-width="1.6" />
<circle cx="652.00" cy="735.62" r="2.3" fill="#1236ff"/>
<circle cx="654.20" cy="737.17" r="2.3" fill="#1236ff"/>
<circle cx="651.00" cy="738.71" r="2.3" fill="#1236ff"/>
<circle cx="653.50" cy="741.04" r="2.3" fill="#1236ff"/>
<circle cx="648.80" cy="744.13" r="2.3" fill="#1236ff"/>
<circle cx="652.00" cy="750.32" r="2.3" fill="#1236ff"/>
<line x1="666.02" y1="833.92" x2="666.02" y2="833.61" stroke="#ff2d00" stroke-width="1.6" />
<line x1="663.02" y1="833.61" x2="669.02" y2="833.61" stroke="#ff2d00" stroke-width="1.6" />
<path d="M666.02,830.50 L668.55,835.10 L663.49,835.10Z" fill="#ff2d00"/>
<path d="M668.22,830.81 L670.75,835.41 L665.69,835.41Z" fill="#ff2d00"/>
<path d="M665.02,830.96 L667.55,835.56 L662.49,835.56Z" fill="#ff2d00"/>
<path d="M667.52,831.27 L670.05,835.87 L664.99,835.87Z" fill="#ff2d00"/>
<path d="M663.52,831.58 L666.05,836.18 L660.99,836.18Z" fill="#ff2d00"/>
<path d="M666.52,831.89 L669.05,836.49 L663.99,836.49Z" fill="#ff2d00"/>
<circle cx="623.96" cy="846.30" r="2.4" fill="#000"/>
<path d="M581.20,690.10 V685.80 H612.20 V690.10" fill="none" stroke="#000" stroke-width="1.5"/>
<text x="598.00" y="689.03" font-family="Liberation Sans" font-size="17" font-weight="normal" text-anchor="middle" fill="#111" textLength="28.8" lengthAdjust="spacing">****</text>
<path d="M582.50,707.90 V703.60 H597.50 V707.90" fill="none" stroke="#000" stroke-width="1.5"/>
<text x="591.30" y="706.83" font-family="Liberation Sans" font-size="17" font-weight="normal" text-anchor="middle" fill="#111" textLength="28.8" lengthAdjust="spacing">****</text>
<path d="M634.30,701.90 V697.60 H665.80 V701.90" fill="none" stroke="#000" stroke-width="1.5"/>
<text x="651.35" y="700.83" font-family="Liberation Sans" font-size="17" font-weight="normal" text-anchor="middle" fill="#111" textLength="21.6" lengthAdjust="spacing">***</text>
<path d="M634.30,719.50 V715.20 H650.80 V719.50" fill="none" stroke="#000" stroke-width="1.5"/>
<text x="643.85" y="718.43" font-family="Liberation Sans" font-size="17" font-weight="normal" text-anchor="middle" fill="#111" textLength="28.8" lengthAdjust="spacing">****</text>
<text x="639.00" y="731.90" font-family="Liberation Sans" font-size="15.27" font-weight="bold" text-anchor="start" fill="#1a1a1a" stroke="#1a1a1a" stroke-width="0.25" textLength="28.9" lengthAdjust="spacingAndGlyphs">####</text>
<text x="621.90" y="808.10" font-family="Liberation Sans" font-size="15.27" font-weight="bold" text-anchor="start" fill="#1a1a1a" stroke="#1a1a1a" stroke-width="0.25" textLength="28.4" lengthAdjust="spacingAndGlyphs">####</text>
<text x="658.70" y="829.20" font-family="Liberation Sans" font-size="15.27" font-weight="bold" text-anchor="start" fill="#1a1a1a" stroke="#1a1a1a" stroke-width="0.25" textLength="14.5" lengthAdjust="spacingAndGlyphs">##</text>
<text transform="translate(528.60,768.30) rotate(-90)" x="0" y="0" font-family="Liberation Serif" font-size="14.5" font-weight="bold" text-anchor="middle" stroke="#000" stroke-width="0.3" textLength="161" lengthAdjust="spacingAndGlyphs">Cardiac Output (mL/min)</text>
<text x="397.50" y="865.60" font-family="Liberation Serif" font-size="14.5" font-weight="bold" text-anchor="middle" fill="#000" stroke="#000" stroke-width="0.3" textLength="22.5" lengthAdjust="spacingAndGlyphs">WT</text>
<text x="453.00" y="865.60" font-family="Liberation Serif" font-size="14.5" font-weight="bold" text-anchor="middle" fill="#000" stroke="#000" stroke-width="0.3" textLength="22" lengthAdjust="spacingAndGlyphs">KO</text>
<line x1="383.80" y1="872.40" x2="473.00" y2="872.40" stroke="#000" stroke-width="1.5" />
<text x="428.80" y="888.60" font-family="Liberation Serif" font-size="14.5" font-weight="bold" text-anchor="middle" fill="#000" stroke="#000" stroke-width="0.3" >Normoxic</text>
<text x="598.90" y="865.60" font-family="Liberation Serif" font-size="14.5" font-weight="bold" text-anchor="middle" fill="#000" stroke="#000" stroke-width="0.3" textLength="22.5" lengthAdjust="spacingAndGlyphs">WT</text>
<text x="652.70" y="865.60" font-family="Liberation Serif" font-size="14.5" font-weight="bold" text-anchor="middle" fill="#000" stroke="#000" stroke-width="0.3" textLength="22" lengthAdjust="spacingAndGlyphs">KO</text>
<line x1="580.60" y1="872.60" x2="669.00" y2="872.60" stroke="#000" stroke-width="1.5" />
<text x="625.10" y="888.00" font-family="Liberation Serif" font-size="14.5" font-weight="bold" text-anchor="middle" fill="#000" stroke="#000" stroke-width="0.3" >Hypoxic</text>
</svg>
</body></html>
